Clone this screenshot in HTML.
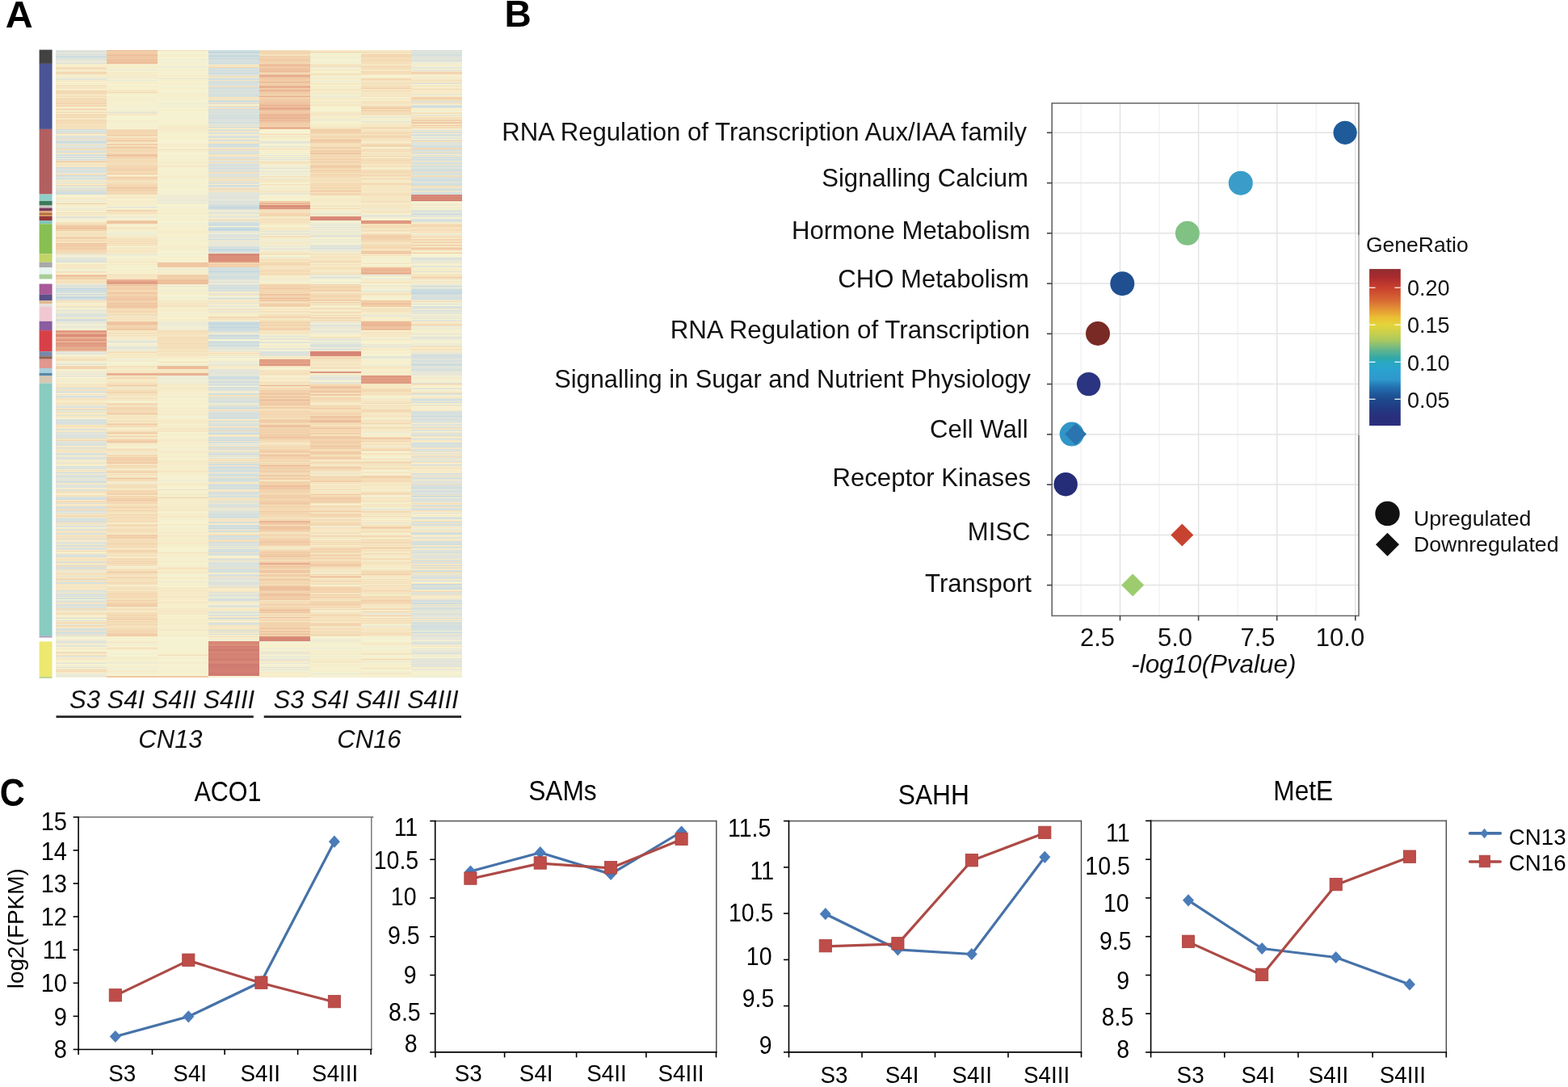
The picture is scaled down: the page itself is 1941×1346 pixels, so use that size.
<!DOCTYPE html>
<html><head><meta charset="utf-8"><title>Figure</title>
<style>html,body{margin:0;padding:0;background:#fff;overflow:hidden}svg{display:block}</style>
</head><body><svg width="1941" height="1346" viewBox="0 0 1941 1346" font-family="Liberation Sans, Arial, sans-serif"><text x="6.8" y="34.3" font-size="47" text-anchor="start" font-weight="bold">A</text><text x="624.6" y="32.6" font-size="46" text-anchor="start" font-weight="bold">B</text><text transform="translate(-0.3 997.6) scale(1 1.1)" font-size="43" font-weight="bold">C</text><g filter="url(#hb)" shape-rendering="crispEdges"><rect x="69.4" y="61.7" width="502.9" height="777.6" fill="#f4ecd0"/><path fill="#dde3db" d="M69.4 61.7h62.9v0.3h-62.9zM69.4 98h62.9v1h-62.9zM69.4 169h62.9v1h-62.9zM69.4 177h62.9v1h-62.9zM69.4 181h62.9v1h-62.9zM69.4 186h62.9v2h-62.9zM69.4 198h62.9v1h-62.9zM69.4 222h62.9v1h-62.9zM69.4 322h62.9v1h-62.9zM69.4 352h62.9v1h-62.9zM69.4 362h62.9v1h-62.9zM69.4 389h62.9v1h-62.9zM69.4 392h62.9v1h-62.9zM69.4 514h62.9v1h-62.9zM69.4 521h62.9v1h-62.9zM69.4 547h62.9v3h-62.9zM69.4 551h62.9v1h-62.9zM69.4 590h62.9v1h-62.9zM69.4 601h62.9v1h-62.9zM69.4 603h62.9v1h-62.9zM69.4 627h62.9v1h-62.9zM69.4 641h62.9v1h-62.9zM69.4 655h62.9v1h-62.9zM69.4 673h62.9v1h-62.9zM69.4 680h62.9v1h-62.9zM69.4 695h62.9v1h-62.9zM69.4 704h62.9v1h-62.9zM69.4 731h62.9v2h-62.9zM69.4 737h62.9v1h-62.9zM69.4 752h62.9v1h-62.9zM69.4 795h62.9v1h-62.9zM258 79h62.8v1h-62.8zM258 104h62.8v1h-62.8zM258 115h62.8v1h-62.8zM258 153h62.8v1h-62.8zM258 160h62.8v2h-62.8zM258 190h62.8v1h-62.8zM258 194h62.8v1h-62.8zM258 212h62.8v1h-62.8zM258 215h62.8v1h-62.8zM258 224h62.8v1h-62.8zM258 252h62.8v1h-62.8zM258 264h62.8v1h-62.8zM258 275h62.8v1h-62.8zM258 292h62.8v1h-62.8zM258 349h62.8v1h-62.8zM258 422h62.8v1h-62.8zM258 431h62.8v1h-62.8zM258 434h62.8v1h-62.8zM258 461h62.8v1h-62.8zM258 465h62.8v1h-62.8zM258 481h62.8v1h-62.8zM258 494h62.8v1h-62.8zM258 510h62.8v1h-62.8zM258 525h62.8v1h-62.8zM258 527h62.8v1h-62.8zM258 550h62.8v1h-62.8zM258 567h62.8v1h-62.8zM258 586h62.8v1h-62.8zM258 602h62.8v1h-62.8zM258 612h62.8v1h-62.8zM258 626h62.8v1h-62.8zM258 655h62.8v1h-62.8zM258 679h62.8v1h-62.8zM258 693h62.8v1h-62.8zM258 700h62.8v1h-62.8zM258 713h62.8v1h-62.8zM258 720h62.8v1h-62.8zM258 723h62.8v2h-62.8zM258 734h62.8v1h-62.8zM258 758h62.8v1h-62.8zM320.8 175h62.9v1h-62.9zM320.8 437h62.9v1h-62.9zM383.7 288h62.8v1h-62.8zM383.7 291h62.8v1h-62.8zM383.7 304h62.8v2h-62.8zM383.7 340h62.8v1h-62.8zM383.7 424h62.8v1h-62.8zM383.7 473h62.8v1h-62.8zM446.5 150h62.9v1h-62.9zM509.4 61.7h62.9v0.3h-62.9zM509.4 64h62.9v2h-62.9zM509.4 177h62.9v1h-62.9zM509.4 190h62.9v1h-62.9zM509.4 192h62.9v1h-62.9zM509.4 195h62.9v1h-62.9zM509.4 204h62.9v1h-62.9zM509.4 208h62.9v1h-62.9zM509.4 215h62.9v1h-62.9zM509.4 219h62.9v1h-62.9zM509.4 319h62.9v1h-62.9zM509.4 419h62.9v1h-62.9zM509.4 532h62.9v1h-62.9zM509.4 536h62.9v1h-62.9zM509.4 539h62.9v1h-62.9zM509.4 565h62.9v1h-62.9zM509.4 576h62.9v1h-62.9zM509.4 598h62.9v1h-62.9zM509.4 605h62.9v1h-62.9zM509.4 607h62.9v1h-62.9zM509.4 609h62.9v1h-62.9zM509.4 619h62.9v2h-62.9zM509.4 640h62.9v1h-62.9zM509.4 659h62.9v1h-62.9zM509.4 689h62.9v1h-62.9zM509.4 693h62.9v1h-62.9zM509.4 784h62.9v1h-62.9zM509.4 796h62.9v1h-62.9zM509.4 808h62.9v2h-62.9zM509.4 822h62.9v1h-62.9zM509.4 824h62.9v1h-62.9z"/><path fill="#e5e5d9" d="M69.4 62h62.9v1h-62.9zM69.4 66h62.9v1h-62.9zM69.4 74h62.9v1h-62.9zM69.4 182h62.9v1h-62.9zM69.4 219h62.9v1h-62.9zM69.4 269h62.9v1h-62.9zM69.4 320h62.9v1h-62.9zM69.4 399h62.9v1h-62.9zM69.4 436h62.9v2h-62.9zM69.4 450h62.9v1h-62.9zM69.4 463h62.9v1h-62.9zM69.4 492h62.9v1h-62.9zM69.4 584h62.9v1h-62.9zM69.4 649h62.9v1h-62.9zM69.4 652h62.9v1h-62.9zM69.4 672h62.9v1h-62.9zM69.4 743h62.9v1h-62.9zM69.4 800h62.9v1h-62.9zM69.4 813h62.9v1h-62.9zM132.3 139h62.8v1h-62.8zM132.3 315h62.8v1h-62.8zM132.3 431h62.8v1h-62.8zM258 106h62.8v1h-62.8zM258 154h62.8v1h-62.8zM258 202h62.8v1h-62.8zM258 210h62.8v1h-62.8zM258 227h62.8v1h-62.8zM258 231h62.8v1h-62.8zM258 235h62.8v1h-62.8zM258 239h62.8v1h-62.8zM258 242h62.8v1h-62.8zM258 244h62.8v1h-62.8zM258 246h62.8v1h-62.8zM258 251h62.8v1h-62.8zM258 269h62.8v1h-62.8zM258 286h62.8v1h-62.8zM258 288h62.8v1h-62.8zM258 299h62.8v1h-62.8zM258 346h62.8v1h-62.8zM258 348h62.8v1h-62.8zM258 352h62.8v1h-62.8zM258 363h62.8v1h-62.8zM258 375h62.8v1h-62.8zM258 430h62.8v1h-62.8zM258 432h62.8v1h-62.8zM258 457h62.8v1h-62.8zM258 673h62.8v1h-62.8zM258 695h62.8v1h-62.8zM258 717h62.8v1h-62.8zM320.8 181h62.9v1h-62.9zM320.8 192h62.9v1h-62.9zM320.8 208h62.9v1h-62.9zM320.8 240h62.9v1h-62.9zM320.8 304h62.9v1h-62.9zM320.8 431h62.9v2h-62.9zM320.8 808h62.9v1h-62.9zM320.8 816h62.9v2h-62.9zM383.7 148h62.8v1h-62.8zM383.7 265h62.8v1h-62.8zM383.7 281h62.8v1h-62.8zM383.7 286h62.8v1h-62.8zM383.7 308h62.8v1h-62.8zM383.7 311h62.8v1h-62.8zM383.7 399h62.8v1h-62.8zM383.7 402h62.8v1h-62.8zM383.7 411h62.8v1h-62.8zM383.7 421h62.8v1h-62.8zM383.7 465h62.8v1h-62.8zM383.7 469h62.8v1h-62.8zM446.5 145h62.9v1h-62.9zM446.5 266h62.9v1h-62.9zM446.5 341h62.9v1h-62.9zM446.5 360h62.9v1h-62.9zM446.5 647h62.9v1h-62.9zM446.5 759h62.9v1h-62.9zM509.4 63h62.9v1h-62.9zM509.4 87h62.9v1h-62.9zM509.4 224h62.9v1h-62.9zM509.4 237h62.9v1h-62.9zM509.4 266h62.9v1h-62.9zM509.4 322h62.9v1h-62.9zM509.4 324h62.9v1h-62.9zM509.4 371h62.9v1h-62.9zM509.4 382h62.9v1h-62.9zM509.4 404h62.9v1h-62.9zM509.4 413h62.9v1h-62.9zM509.4 417h62.9v1h-62.9zM509.4 427h62.9v1h-62.9zM509.4 463h62.9v1h-62.9zM509.4 496h62.9v1h-62.9zM509.4 528h62.9v1h-62.9zM509.4 537h62.9v1h-62.9zM509.4 544h62.9v1h-62.9zM509.4 666h62.9v1h-62.9zM509.4 688h62.9v1h-62.9zM509.4 713h62.9v1h-62.9zM509.4 751h62.9v1h-62.9zM509.4 788h62.9v1h-62.9zM509.4 816h62.9v1h-62.9zM509.4 820h62.9v1h-62.9zM509.4 825h62.9v1h-62.9z"/><path fill="#d9e1dd" d="M69.4 63h62.9v1h-62.9zM69.4 71h62.9v1h-62.9zM69.4 162h62.9v1h-62.9zM69.4 191h62.9v1h-62.9zM69.4 209h62.9v1h-62.9zM69.4 212h62.9v1h-62.9zM69.4 218h62.9v1h-62.9zM69.4 232h62.9v1h-62.9zM69.4 234h62.9v1h-62.9zM69.4 240h62.9v1h-62.9zM69.4 324h62.9v1h-62.9zM69.4 370h62.9v2h-62.9zM69.4 390h62.9v1h-62.9zM69.4 490h62.9v2h-62.9zM69.4 502h62.9v1h-62.9zM69.4 504h62.9v1h-62.9zM69.4 509h62.9v1h-62.9zM69.4 524h62.9v1h-62.9zM69.4 539h62.9v2h-62.9zM69.4 542h62.9v1h-62.9zM69.4 579h62.9v1h-62.9zM69.4 591h62.9v1h-62.9zM69.4 596h62.9v1h-62.9zM69.4 615h62.9v1h-62.9zM69.4 623h62.9v1h-62.9zM69.4 696h62.9v1h-62.9zM69.4 700h62.9v1h-62.9zM69.4 702h62.9v2h-62.9zM69.4 721h62.9v1h-62.9zM69.4 765h62.9v1h-62.9zM69.4 768h62.9v1h-62.9zM69.4 780h62.9v1h-62.9zM69.4 785h62.9v1h-62.9zM258 66h62.8v1h-62.8zM258 74h62.8v1h-62.8zM258 86h62.8v1h-62.8zM258 103h62.8v1h-62.8zM258 110h62.8v2h-62.8zM258 114h62.8v1h-62.8zM258 139h62.8v2h-62.8zM258 144h62.8v1h-62.8zM258 149h62.8v1h-62.8zM258 152h62.8v1h-62.8zM258 165h62.8v1h-62.8zM258 168h62.8v1h-62.8zM258 174h62.8v1h-62.8zM258 187h62.8v1h-62.8zM258 195h62.8v1h-62.8zM258 199h62.8v1h-62.8zM258 203h62.8v3h-62.8zM258 216h62.8v1h-62.8zM258 218h62.8v1h-62.8zM258 220h62.8v1h-62.8zM258 250h62.8v1h-62.8zM258 291h62.8v1h-62.8zM258 403h62.8v1h-62.8zM258 479h62.8v1h-62.8zM258 491h62.8v1h-62.8zM258 526h62.8v1h-62.8zM258 531h62.8v1h-62.8zM258 555h62.8v1h-62.8zM258 560h62.8v1h-62.8zM258 562h62.8v1h-62.8zM258 565h62.8v1h-62.8zM258 583h62.8v1h-62.8zM258 631h62.8v1h-62.8zM258 665h62.8v2h-62.8zM258 674h62.8v1h-62.8zM258 682h62.8v1h-62.8zM258 705h62.8v2h-62.8zM258 726h62.8v1h-62.8zM258 736h62.8v1h-62.8zM258 738h62.8v1h-62.8zM258 766h62.8v1h-62.8zM258 773h62.8v1h-62.8zM258 785h62.8v1h-62.8zM320.8 435h62.9v1h-62.9zM509.4 66h62.9v2h-62.9zM509.4 161h62.9v1h-62.9zM509.4 167h62.9v1h-62.9zM509.4 173h62.9v1h-62.9zM509.4 176h62.9v1h-62.9zM509.4 179h62.9v1h-62.9zM509.4 185h62.9v1h-62.9zM509.4 196h62.9v1h-62.9zM509.4 206h62.9v1h-62.9zM509.4 209h62.9v1h-62.9zM509.4 211h62.9v1h-62.9zM509.4 214h62.9v1h-62.9zM509.4 234h62.9v1h-62.9zM509.4 239h62.9v1h-62.9zM509.4 273h62.9v2h-62.9zM509.4 376h62.9v1h-62.9zM509.4 384h62.9v1h-62.9zM509.4 438h62.9v1h-62.9zM509.4 442h62.9v1h-62.9zM509.4 446h62.9v1h-62.9zM509.4 457h62.9v1h-62.9zM509.4 481h62.9v1h-62.9zM509.4 487h62.9v1h-62.9zM509.4 511h62.9v1h-62.9zM509.4 513h62.9v2h-62.9zM509.4 522h62.9v1h-62.9zM509.4 526h62.9v1h-62.9zM509.4 529h62.9v1h-62.9zM509.4 552h62.9v1h-62.9zM509.4 556h62.9v1h-62.9zM509.4 601h62.9v2h-62.9zM509.4 672h62.9v1h-62.9zM509.4 677h62.9v1h-62.9zM509.4 681h62.9v1h-62.9zM509.4 684h62.9v1h-62.9zM509.4 694h62.9v1h-62.9zM509.4 706h62.9v1h-62.9zM509.4 715h62.9v1h-62.9zM509.4 745h62.9v2h-62.9zM509.4 768h62.9v1h-62.9zM509.4 773h62.9v1h-62.9zM509.4 797h62.9v1h-62.9z"/><path fill="#dbe2dc" d="M69.4 64h62.9v1h-62.9zM69.4 72h62.9v1h-62.9zM69.4 163h62.9v1h-62.9zM69.4 178h62.9v1h-62.9zM69.4 208h62.9v1h-62.9zM69.4 220h62.9v1h-62.9zM69.4 226h62.9v1h-62.9zM69.4 354h62.9v1h-62.9zM69.4 356h62.9v1h-62.9zM69.4 519h62.9v1h-62.9zM69.4 535h62.9v1h-62.9zM69.4 562h62.9v1h-62.9zM69.4 577h62.9v1h-62.9zM69.4 580h62.9v1h-62.9zM69.4 589h62.9v1h-62.9zM69.4 593h62.9v1h-62.9zM69.4 600h62.9v1h-62.9zM69.4 606h62.9v2h-62.9zM69.4 616h62.9v1h-62.9zM69.4 632h62.9v2h-62.9zM69.4 635h62.9v1h-62.9zM69.4 642h62.9v1h-62.9zM69.4 656h62.9v1h-62.9zM69.4 671h62.9v1h-62.9zM69.4 689h62.9v1h-62.9zM69.4 745h62.9v1h-62.9zM69.4 755h62.9v1h-62.9zM69.4 778h62.9v1h-62.9zM69.4 784h62.9v1h-62.9zM69.4 787h62.9v1h-62.9zM258 67h62.8v1h-62.8zM258 89h62.8v1h-62.8zM258 93h62.8v1h-62.8zM258 100h62.8v1h-62.8zM258 132h62.8v1h-62.8zM258 136h62.8v2h-62.8zM258 155h62.8v1h-62.8zM258 169h62.8v1h-62.8zM258 185h62.8v1h-62.8zM258 196h62.8v1h-62.8zM258 243h62.8v1h-62.8zM258 245h62.8v1h-62.8zM258 253h62.8v1h-62.8zM258 274h62.8v1h-62.8zM258 354h62.8v2h-62.8zM258 358h62.8v1h-62.8zM258 360h62.8v1h-62.8zM258 417h62.8v1h-62.8zM258 495h62.8v2h-62.8zM258 503h62.8v1h-62.8zM258 511h62.8v1h-62.8zM258 513h62.8v1h-62.8zM258 534h62.8v1h-62.8zM258 543h62.8v1h-62.8zM258 561h62.8v1h-62.8zM258 578h62.8v1h-62.8zM258 624h62.8v1h-62.8zM258 629h62.8v1h-62.8zM258 634h62.8v1h-62.8zM258 637h62.8v1h-62.8zM258 647h62.8v1h-62.8zM258 697h62.8v1h-62.8zM258 701h62.8v1h-62.8zM258 718h62.8v1h-62.8zM258 721h62.8v2h-62.8zM258 743h62.8v1h-62.8zM320.8 436h62.9v1h-62.9zM320.8 438h62.9v1h-62.9zM383.7 426h62.8v3h-62.8zM509.4 69h62.9v1h-62.9zM509.4 130h62.9v1h-62.9zM509.4 164h62.9v1h-62.9zM509.4 166h62.9v1h-62.9zM509.4 168h62.9v1h-62.9zM509.4 180h62.9v1h-62.9zM509.4 186h62.9v2h-62.9zM509.4 221h62.9v1h-62.9zM509.4 225h62.9v1h-62.9zM509.4 261h62.9v2h-62.9zM509.4 320h62.9v1h-62.9zM509.4 385h62.9v1h-62.9zM509.4 387h62.9v1h-62.9zM509.4 448h62.9v1h-62.9zM509.4 456h62.9v1h-62.9zM509.4 501h62.9v1h-62.9zM509.4 518h62.9v1h-62.9zM509.4 550h62.9v1h-62.9zM509.4 570h62.9v1h-62.9zM509.4 575h62.9v1h-62.9zM509.4 587h62.9v1h-62.9zM509.4 600h62.9v1h-62.9zM509.4 617h62.9v1h-62.9zM509.4 625h62.9v1h-62.9zM509.4 631h62.9v1h-62.9zM509.4 665h62.9v1h-62.9zM509.4 687h62.9v1h-62.9zM509.4 696h62.9v1h-62.9zM509.4 703h62.9v1h-62.9zM509.4 712h62.9v1h-62.9zM509.4 716h62.9v1h-62.9zM509.4 736h62.9v1h-62.9zM509.4 752h62.9v1h-62.9zM509.4 760h62.9v1h-62.9zM509.4 770h62.9v1h-62.9zM509.4 772h62.9v1h-62.9zM509.4 778h62.9v1h-62.9z"/><path fill="#e7e6d8" d="M69.4 65h62.9v1h-62.9zM69.4 75h62.9v1h-62.9zM69.4 233h62.9v1h-62.9zM69.4 380h62.9v1h-62.9zM69.4 404h62.9v1h-62.9zM69.4 435h62.9v1h-62.9zM69.4 465h62.9v1h-62.9zM69.4 486h62.9v1h-62.9zM69.4 503h62.9v1h-62.9zM69.4 536h62.9v1h-62.9zM69.4 546h62.9v1h-62.9zM69.4 567h62.9v1h-62.9zM69.4 573h62.9v1h-62.9zM69.4 668h62.9v1h-62.9zM69.4 686h62.9v1h-62.9zM69.4 708h62.9v1h-62.9zM69.4 812h62.9v1h-62.9zM69.4 836h62.9v1h-62.9zM132.3 99h62.8v1h-62.8zM132.3 138h62.8v1h-62.8zM132.3 429h62.8v1h-62.8zM132.3 434h62.8v1h-62.8zM195.1 97h62.9v1h-62.9zM195.1 333h62.9v1h-62.9zM195.1 354h62.9v1h-62.9zM258 247h62.8v1h-62.8zM258 301h62.8v1h-62.8zM258 313h62.8v1h-62.8zM258 364h62.8v1h-62.8zM258 386h62.8v1h-62.8zM258 429h62.8v1h-62.8zM258 450h62.8v1h-62.8zM258 452h62.8v1h-62.8zM258 460h62.8v1h-62.8zM258 462h62.8v1h-62.8zM258 471h62.8v1h-62.8zM258 474h62.8v1h-62.8zM258 558h62.8v1h-62.8zM258 733h62.8v1h-62.8zM258 749h62.8v1h-62.8zM320.8 176h62.9v1h-62.9zM320.8 221h62.9v1h-62.9zM320.8 290h62.9v1h-62.9zM320.8 307h62.9v1h-62.9zM320.8 423h62.9v1h-62.9zM320.8 821h62.9v1h-62.9zM320.8 829h62.9v1h-62.9zM383.7 83h62.8v1h-62.8zM383.7 284h62.8v1h-62.8zM383.7 342h62.8v1h-62.8zM383.7 404h62.8v1h-62.8zM383.7 409h62.8v1h-62.8zM383.7 474h62.8v1h-62.8zM446.5 267h62.9v2h-62.9zM446.5 390h62.9v2h-62.9zM446.5 426h62.9v1h-62.9zM446.5 428h62.9v2h-62.9zM446.5 441h62.9v1h-62.9zM446.5 775h62.9v1h-62.9zM509.4 73h62.9v1h-62.9zM509.4 133h62.9v1h-62.9zM509.4 178h62.9v1h-62.9zM509.4 268h62.9v1h-62.9zM509.4 321h62.9v1h-62.9zM509.4 329h62.9v1h-62.9zM509.4 352h62.9v1h-62.9zM509.4 388h62.9v1h-62.9zM509.4 393h62.9v1h-62.9zM509.4 397h62.9v1h-62.9zM509.4 436h62.9v1h-62.9zM509.4 460h62.9v2h-62.9zM509.4 464h62.9v1h-62.9zM509.4 474h62.9v1h-62.9zM509.4 493h62.9v1h-62.9zM509.4 523h62.9v1h-62.9zM509.4 568h62.9v1h-62.9zM509.4 628h62.9v1h-62.9zM509.4 733h62.9v1h-62.9zM509.4 763h62.9v1h-62.9zM509.4 789h62.9v3h-62.9zM509.4 803h62.9v1h-62.9zM509.4 805h62.9v3h-62.9zM509.4 817h62.9v1h-62.9zM509.4 821h62.9v1h-62.9zM509.4 823h62.9v1h-62.9zM509.4 829h62.9v1h-62.9z"/><path fill="#d2dfde" d="M69.4 67h62.9v1h-62.9zM69.4 175h62.9v1h-62.9zM69.4 188h62.9v1h-62.9zM69.4 238h62.9v1h-62.9zM69.4 395h62.9v1h-62.9zM69.4 595h62.9v1h-62.9zM69.4 597h62.9v1h-62.9zM69.4 738h62.9v1h-62.9zM69.4 740h62.9v2h-62.9zM258 63h62.8v1h-62.8zM258 85h62.8v1h-62.8zM258 91h62.8v1h-62.8zM258 101h62.8v1h-62.8zM258 108h62.8v2h-62.8zM258 117h62.8v1h-62.8zM258 119h62.8v1h-62.8zM258 142h62.8v2h-62.8zM258 146h62.8v1h-62.8zM258 178h62.8v1h-62.8zM258 281h62.8v1h-62.8zM258 337h62.8v1h-62.8zM258 342h62.8v1h-62.8zM258 398h62.8v1h-62.8zM258 418h62.8v1h-62.8zM258 424h62.8v2h-62.8zM258 427h62.8v1h-62.8zM258 466h62.8v1h-62.8zM258 493h62.8v1h-62.8zM258 497h62.8v1h-62.8zM258 516h62.8v1h-62.8zM258 574h62.8v1h-62.8zM258 593h62.8v1h-62.8zM258 605h62.8v1h-62.8zM258 620h62.8v1h-62.8zM258 627h62.8v1h-62.8zM258 638h62.8v1h-62.8zM258 650h62.8v1h-62.8zM258 652h62.8v1h-62.8zM258 658h62.8v1h-62.8zM258 667h62.8v1h-62.8zM258 671h62.8v2h-62.8zM258 675h62.8v1h-62.8zM258 681h62.8v1h-62.8zM258 685h62.8v1h-62.8zM258 698h62.8v1h-62.8zM258 761h62.8v1h-62.8zM258 780h62.8v1h-62.8zM509.4 181h62.9v1h-62.9zM509.4 189h62.9v1h-62.9zM509.4 202h62.9v1h-62.9zM509.4 354h62.9v1h-62.9zM509.4 364h62.9v1h-62.9zM509.4 368h62.9v1h-62.9zM509.4 458h62.9v1h-62.9zM509.4 494h62.9v2h-62.9zM509.4 510h62.9v1h-62.9zM509.4 551h62.9v1h-62.9zM509.4 586h62.9v1h-62.9zM509.4 592h62.9v1h-62.9zM509.4 603h62.9v1h-62.9zM509.4 626h62.9v1h-62.9zM509.4 673h62.9v1h-62.9zM509.4 723h62.9v1h-62.9zM509.4 734h62.9v1h-62.9zM509.4 743h62.9v1h-62.9zM509.4 775h62.9v1h-62.9z"/><path fill="#e2e4da" d="M69.4 68h62.9v1h-62.9zM69.4 73h62.9v1h-62.9zM69.4 77h62.9v1h-62.9zM69.4 168h62.9v1h-62.9zM69.4 213h62.9v1h-62.9zM69.4 319h62.9v1h-62.9zM69.4 321h62.9v1h-62.9zM69.4 355h62.9v1h-62.9zM69.4 365h62.9v1h-62.9zM69.4 384h62.9v1h-62.9zM69.4 388h62.9v1h-62.9zM69.4 391h62.9v1h-62.9zM69.4 451h62.9v1h-62.9zM69.4 531h62.9v1h-62.9zM69.4 660h62.9v1h-62.9zM69.4 666h62.9v1h-62.9zM69.4 678h62.9v1h-62.9zM69.4 744h62.9v1h-62.9zM69.4 750h62.9v1h-62.9zM69.4 794h62.9v1h-62.9zM69.4 821h62.9v1h-62.9zM69.4 826h62.9v1h-62.9zM132.3 422h62.8v2h-62.8zM132.3 430h62.8v1h-62.8zM195.1 251h62.9v1h-62.9zM258 182h62.8v1h-62.8zM258 200h62.8v1h-62.8zM258 207h62.8v1h-62.8zM258 217h62.8v1h-62.8zM258 240h62.8v2h-62.8zM258 248h62.8v1h-62.8zM258 267h62.8v1h-62.8zM258 293h62.8v1h-62.8zM258 297h62.8v1h-62.8zM258 303h62.8v1h-62.8zM258 340h62.8v1h-62.8zM258 412h62.8v1h-62.8zM258 414h62.8v1h-62.8zM258 458h62.8v2h-62.8zM258 535h62.8v1h-62.8zM258 552h62.8v1h-62.8zM258 596h62.8v1h-62.8zM258 599h62.8v1h-62.8zM258 635h62.8v1h-62.8zM258 711h62.8v1h-62.8zM258 715h62.8v1h-62.8zM258 759h62.8v1h-62.8zM320.8 195h62.9v1h-62.9zM320.8 197h62.9v1h-62.9zM320.8 289h62.9v1h-62.9zM320.8 416h62.9v1h-62.9zM320.8 813h62.9v1h-62.9zM383.7 278h62.8v1h-62.8zM383.7 306h62.8v1h-62.8zM383.7 420h62.8v1h-62.8zM383.7 431h62.8v2h-62.8zM383.7 468h62.8v1h-62.8zM446.5 442h62.9v1h-62.9zM446.5 630h62.9v1h-62.9zM509.4 72h62.9v1h-62.9zM509.4 75h62.9v2h-62.9zM509.4 117h62.9v1h-62.9zM509.4 142h62.9v1h-62.9zM509.4 330h62.9v1h-62.9zM509.4 454h62.9v1h-62.9zM509.4 459h62.9v1h-62.9zM509.4 497h62.9v1h-62.9zM509.4 521h62.9v1h-62.9zM509.4 525h62.9v1h-62.9zM509.4 561h62.9v1h-62.9zM509.4 567h62.9v1h-62.9zM509.4 571h62.9v1h-62.9zM509.4 593h62.9v1h-62.9zM509.4 595h62.9v1h-62.9zM509.4 597h62.9v1h-62.9zM509.4 629h62.9v1h-62.9zM509.4 650h62.9v1h-62.9zM509.4 685h62.9v1h-62.9zM509.4 690h62.9v1h-62.9zM509.4 742h62.9v1h-62.9zM509.4 761h62.9v1h-62.9zM509.4 818h62.9v1h-62.9z"/><path fill="#d0dedf" d="M69.4 69h62.9v1h-62.9zM69.4 174h62.9v1h-62.9zM69.4 358h62.9v1h-62.9zM69.4 360h62.9v1h-62.9zM69.4 585h62.9v1h-62.9zM69.4 617h62.9v1h-62.9zM258 73h62.8v1h-62.8zM258 87h62.8v1h-62.8zM258 98h62.8v1h-62.8zM258 151h62.8v1h-62.8zM258 226h62.8v1h-62.8zM258 277h62.8v1h-62.8zM258 306h62.8v1h-62.8zM258 332h62.8v1h-62.8zM258 338h62.8v1h-62.8zM258 343h62.8v1h-62.8zM258 410h62.8v1h-62.8zM258 419h62.8v1h-62.8zM258 468h62.8v1h-62.8zM258 472h62.8v1h-62.8zM258 487h62.8v1h-62.8zM258 505h62.8v1h-62.8zM258 530h62.8v1h-62.8zM258 537h62.8v1h-62.8zM258 541h62.8v1h-62.8zM258 563h62.8v1h-62.8zM258 575h62.8v1h-62.8zM258 587h62.8v1h-62.8zM258 595h62.8v1h-62.8zM258 600h62.8v1h-62.8zM258 622h62.8v1h-62.8zM258 633h62.8v1h-62.8zM258 640h62.8v1h-62.8zM258 677h62.8v1h-62.8zM258 704h62.8v1h-62.8zM258 712h62.8v1h-62.8zM258 771h62.8v1h-62.8zM509.4 62h62.9v1h-62.9zM509.4 68h62.9v1h-62.9zM509.4 194h62.9v1h-62.9zM509.4 216h62.9v1h-62.9zM509.4 220h62.9v1h-62.9zM509.4 227h62.9v1h-62.9zM509.4 229h62.9v1h-62.9zM509.4 264h62.9v2h-62.9zM509.4 443h62.9v1h-62.9zM509.4 548h62.9v1h-62.9zM509.4 630h62.9v1h-62.9zM509.4 674h62.9v1h-62.9zM509.4 678h62.9v1h-62.9zM509.4 726h62.9v2h-62.9zM509.4 749h62.9v1h-62.9zM509.4 753h62.9v1h-62.9zM509.4 771h62.9v1h-62.9zM509.4 774h62.9v1h-62.9zM509.4 780h62.9v1h-62.9z"/><path fill="#cadbe0" d="M69.4 70h62.9v1h-62.9zM69.4 176h62.9v1h-62.9zM258 70h62.8v1h-62.8zM258 90h62.8v1h-62.8zM258 157h62.8v1h-62.8zM258 257h62.8v2h-62.8zM258 278h62.8v1h-62.8zM258 285h62.8v1h-62.8zM258 296h62.8v1h-62.8zM258 310h62.8v1h-62.8zM258 335h62.8v1h-62.8zM258 408h62.8v1h-62.8zM258 545h62.8v1h-62.8zM258 636h62.8v1h-62.8zM258 654h62.8v1h-62.8zM509.4 360h62.9v2h-62.9zM509.4 614h62.9v1h-62.9zM509.4 729h62.9v1h-62.9z"/><path fill="#f2f0d4" d="M69.4 76h62.9v1h-62.9zM69.4 87h62.9v1h-62.9zM69.4 225h62.9v1h-62.9zM69.4 248h62.9v1h-62.9zM69.4 256h62.9v1h-62.9zM69.4 259h62.9v1h-62.9zM69.4 264h62.9v1h-62.9zM69.4 273h62.9v1h-62.9zM69.4 316h62.9v2h-62.9zM69.4 333h62.9v1h-62.9zM69.4 393h62.9v1h-62.9zM69.4 402h62.9v1h-62.9zM69.4 406h62.9v1h-62.9zM69.4 447h62.9v1h-62.9zM69.4 449h62.9v1h-62.9zM69.4 457h62.9v1h-62.9zM69.4 470h62.9v2h-62.9zM69.4 653h62.9v1h-62.9zM69.4 742h62.9v1h-62.9zM69.4 788h62.9v1h-62.9zM69.4 825h62.9v1h-62.9zM69.4 838h62.9v1.3h-62.9zM132.3 85h62.8v1h-62.8zM132.3 131h62.8v1h-62.8zM132.3 133h62.8v1h-62.8zM132.3 151h62.8v1h-62.8zM132.3 259h62.8v1h-62.8zM132.3 271h62.8v1h-62.8zM132.3 285h62.8v1h-62.8zM132.3 289h62.8v1h-62.8zM132.3 316h62.8v2h-62.8zM132.3 321h62.8v1h-62.8zM132.3 330h62.8v1h-62.8zM132.3 426h62.8v1h-62.8zM132.3 446h62.8v1h-62.8zM132.3 451h62.8v1h-62.8zM132.3 581h62.8v1h-62.8zM132.3 701h62.8v1h-62.8zM132.3 817h62.8v1h-62.8zM132.3 826h62.8v1h-62.8zM132.3 829h62.8v1h-62.8zM132.3 832h62.8v1h-62.8zM132.3 834h62.8v1h-62.8zM195.1 61.7h62.9v0.3h-62.9zM195.1 63h62.9v1h-62.9zM195.1 73h62.9v1h-62.9zM195.1 76h62.9v2h-62.9zM195.1 81h62.9v1h-62.9zM195.1 83h62.9v2h-62.9zM195.1 89h62.9v1h-62.9zM195.1 106h62.9v1h-62.9zM195.1 108h62.9v1h-62.9zM195.1 114h62.9v1h-62.9zM195.1 123h62.9v1h-62.9zM195.1 127h62.9v1h-62.9zM195.1 129h62.9v2h-62.9zM195.1 221h62.9v1h-62.9zM195.1 229h62.9v1h-62.9zM195.1 236h62.9v1h-62.9zM195.1 238h62.9v1h-62.9zM195.1 250h62.9v1h-62.9zM195.1 256h62.9v1h-62.9zM195.1 268h62.9v1h-62.9zM195.1 276h62.9v2h-62.9zM195.1 296h62.9v2h-62.9zM195.1 313h62.9v2h-62.9zM195.1 352h62.9v1h-62.9zM195.1 367h62.9v2h-62.9zM195.1 387h62.9v1h-62.9zM195.1 404h62.9v2h-62.9zM195.1 407h62.9v1h-62.9zM195.1 451h62.9v2h-62.9zM195.1 471h62.9v2h-62.9zM195.1 489h62.9v1h-62.9zM195.1 516h62.9v2h-62.9zM195.1 556h62.9v1h-62.9zM195.1 592h62.9v1h-62.9zM195.1 594h62.9v1h-62.9zM195.1 605h62.9v1h-62.9zM195.1 609h62.9v1h-62.9zM195.1 653h62.9v1h-62.9zM195.1 692h62.9v1h-62.9zM195.1 712h62.9v1h-62.9zM195.1 792h62.9v1h-62.9zM195.1 795h62.9v1h-62.9zM195.1 800h62.9v1h-62.9zM195.1 819h62.9v1h-62.9zM195.1 826h62.9v1h-62.9zM258 270h62.8v1h-62.8zM258 273h62.8v1h-62.8zM258 289h62.8v1h-62.8zM258 366h62.8v2h-62.8zM258 377h62.8v1h-62.8zM258 381h62.8v1h-62.8zM258 433h62.8v1h-62.8zM258 441h62.8v1h-62.8zM258 449h62.8v1h-62.8zM258 478h62.8v1h-62.8zM258 549h62.8v1h-62.8zM258 748h62.8v1h-62.8zM320.8 180h62.9v1h-62.9zM320.8 190h62.9v1h-62.9zM320.8 193h62.9v1h-62.9zM320.8 209h62.9v1h-62.9zM320.8 216h62.9v2h-62.9zM320.8 230h62.9v1h-62.9zM320.8 296h62.9v1h-62.9zM320.8 305h62.9v2h-62.9zM320.8 311h62.9v1h-62.9zM320.8 347h62.9v1h-62.9zM320.8 417h62.9v1h-62.9zM320.8 427h62.9v1h-62.9zM320.8 433h62.9v1h-62.9zM320.8 795h62.9v1h-62.9zM320.8 802h62.9v1h-62.9zM320.8 812h62.9v1h-62.9zM320.8 823h62.9v1h-62.9zM320.8 830h62.9v2h-62.9zM383.7 66h62.8v2h-62.8zM383.7 75h62.8v1h-62.8zM383.7 96h62.8v1h-62.8zM383.7 142h62.8v1h-62.8zM383.7 149h62.8v1h-62.8zM383.7 261h62.8v2h-62.8zM383.7 277h62.8v1h-62.8zM383.7 300h62.8v3h-62.8zM383.7 345h62.8v1h-62.8zM383.7 351h62.8v1h-62.8zM383.7 422h62.8v1h-62.8zM383.7 430h62.8v1h-62.8zM383.7 588h62.8v1h-62.8zM383.7 661h62.8v1h-62.8zM383.7 709h62.8v1h-62.8zM383.7 756h62.8v1h-62.8zM383.7 796h62.8v1h-62.8zM383.7 799h62.8v1h-62.8zM383.7 801h62.8v2h-62.8zM383.7 811h62.8v1h-62.8zM383.7 833h62.8v1h-62.8zM383.7 836h62.8v2h-62.8zM446.5 144h62.9v1h-62.9zM446.5 269h62.9v1h-62.9zM446.5 319h62.9v1h-62.9zM446.5 323h62.9v1h-62.9zM446.5 344h62.9v1h-62.9zM446.5 357h62.9v3h-62.9zM446.5 368h62.9v1h-62.9zM446.5 444h62.9v2h-62.9zM446.5 452h62.9v1h-62.9zM446.5 518h62.9v1h-62.9zM446.5 570h62.9v1h-62.9zM446.5 583h62.9v1h-62.9zM446.5 587h62.9v1h-62.9zM446.5 607h62.9v1h-62.9zM446.5 614h62.9v1h-62.9zM446.5 788h62.9v1h-62.9zM446.5 791h62.9v1h-62.9zM446.5 801h62.9v2h-62.9zM446.5 804h62.9v1h-62.9zM446.5 812h62.9v1h-62.9zM446.5 831h62.9v1h-62.9zM509.4 77h62.9v1h-62.9zM509.4 79h62.9v1h-62.9zM509.4 95h62.9v1h-62.9zM509.4 97h62.9v1h-62.9zM509.4 138h62.9v1h-62.9zM509.4 160h62.9v1h-62.9zM509.4 250h62.9v1h-62.9zM509.4 259h62.9v1h-62.9zM509.4 270h62.9v1h-62.9zM509.4 289h62.9v1h-62.9zM509.4 311h62.9v1h-62.9zM509.4 318h62.9v1h-62.9zM509.4 332h62.9v1h-62.9zM509.4 347h62.9v1h-62.9zM509.4 351h62.9v1h-62.9zM509.4 378h62.9v1h-62.9zM509.4 423h62.9v1h-62.9zM509.4 426h62.9v1h-62.9zM509.4 534h62.9v1h-62.9zM509.4 654h62.9v1h-62.9zM509.4 804h62.9v1h-62.9zM509.4 836h62.9v2h-62.9z"/><path fill="#e0e4da" d="M69.4 78h62.9v1h-62.9zM69.4 161h62.9v1h-62.9zM69.4 180h62.9v1h-62.9zM69.4 210h62.9v1h-62.9zM69.4 214h62.9v1h-62.9zM69.4 268h62.9v1h-62.9zM69.4 314h62.9v1h-62.9zM69.4 323h62.9v1h-62.9zM69.4 353h62.9v1h-62.9zM69.4 366h62.9v1h-62.9zM69.4 438h62.9v1h-62.9zM69.4 480h62.9v1h-62.9zM69.4 484h62.9v1h-62.9zM69.4 525h62.9v1h-62.9zM69.4 537h62.9v2h-62.9zM69.4 541h62.9v1h-62.9zM69.4 556h62.9v1h-62.9zM69.4 563h62.9v1h-62.9zM69.4 578h62.9v1h-62.9zM69.4 602h62.9v1h-62.9zM69.4 644h62.9v1h-62.9zM69.4 713h62.9v1h-62.9zM69.4 733h62.9v1h-62.9zM69.4 736h62.9v1h-62.9zM69.4 751h62.9v1h-62.9zM69.4 773h62.9v1h-62.9zM69.4 799h62.9v1h-62.9zM132.3 256h62.8v1h-62.8zM258 92h62.8v1h-62.8zM258 96h62.8v1h-62.8zM258 126h62.8v1h-62.8zM258 133h62.8v1h-62.8zM258 141h62.8v1h-62.8zM258 148h62.8v1h-62.8zM258 150h62.8v1h-62.8zM258 188h62.8v1h-62.8zM258 238h62.8v1h-62.8zM258 249h62.8v1h-62.8zM258 259h62.8v1h-62.8zM258 262h62.8v1h-62.8zM258 290h62.8v1h-62.8zM258 294h62.8v1h-62.8zM258 463h62.8v1h-62.8zM258 470h62.8v1h-62.8zM258 477h62.8v1h-62.8zM258 483h62.8v1h-62.8zM258 500h62.8v1h-62.8zM258 509h62.8v1h-62.8zM258 581h62.8v1h-62.8zM258 590h62.8v1h-62.8zM258 613h62.8v2h-62.8zM258 696h62.8v1h-62.8zM258 699h62.8v1h-62.8zM258 716h62.8v1h-62.8zM258 737h62.8v1h-62.8zM258 740h62.8v2h-62.8zM258 744h62.8v1h-62.8zM258 750h62.8v1h-62.8zM258 757h62.8v1h-62.8zM258 762h62.8v1h-62.8zM258 772h62.8v1h-62.8zM320.8 286h62.9v1h-62.9zM320.8 420h62.9v1h-62.9zM320.8 424h62.9v1h-62.9zM320.8 439h62.9v2h-62.9zM320.8 826h62.9v1h-62.9zM383.7 292h62.8v1h-62.8zM383.7 343h62.8v2h-62.8zM383.7 403h62.8v1h-62.8zM383.7 433h62.8v1h-62.8zM383.7 467h62.8v1h-62.8zM509.4 70h62.9v2h-62.9zM509.4 84h62.9v1h-62.9zM509.4 125h62.9v1h-62.9zM509.4 170h62.9v2h-62.9zM509.4 200h62.9v1h-62.9zM509.4 207h62.9v1h-62.9zM509.4 226h62.9v1h-62.9zM509.4 260h62.9v1h-62.9zM509.4 267h62.9v1h-62.9zM509.4 271h62.9v1h-62.9zM509.4 336h62.9v1h-62.9zM509.4 366h62.9v1h-62.9zM509.4 379h62.9v1h-62.9zM509.4 381h62.9v1h-62.9zM509.4 396h62.9v1h-62.9zM509.4 453h62.9v1h-62.9zM509.4 455h62.9v1h-62.9zM509.4 517h62.9v1h-62.9zM509.4 533h62.9v1h-62.9zM509.4 557h62.9v1h-62.9zM509.4 596h62.9v1h-62.9zM509.4 606h62.9v1h-62.9zM509.4 621h62.9v1h-62.9zM509.4 635h62.9v1h-62.9zM509.4 647h62.9v1h-62.9zM509.4 651h62.9v1h-62.9zM509.4 655h62.9v1h-62.9zM509.4 682h62.9v1h-62.9zM509.4 691h62.9v1h-62.9zM509.4 710h62.9v1h-62.9zM509.4 754h62.9v1h-62.9zM509.4 762h62.9v1h-62.9zM509.4 787h62.9v1h-62.9zM509.4 794h62.9v2h-62.9zM509.4 815h62.9v1h-62.9zM509.4 819h62.9v1h-62.9z"/><path fill="#f6eac7" d="M69.4 79h62.9v1h-62.9zM69.4 86h62.9v1h-62.9zM69.4 96h62.9v1h-62.9zM69.4 103h62.9v1h-62.9zM69.4 137h62.9v1h-62.9zM69.4 158h62.9v1h-62.9zM69.4 173h62.9v1h-62.9zM69.4 215h62.9v1h-62.9zM69.4 227h62.9v2h-62.9zM69.4 245h62.9v1h-62.9zM69.4 254h62.9v1h-62.9zM69.4 267h62.9v1h-62.9zM69.4 327h62.9v1h-62.9zM69.4 346h62.9v1h-62.9zM69.4 373h62.9v1h-62.9zM69.4 498h62.9v1h-62.9zM69.4 505h62.9v1h-62.9zM69.4 508h62.9v1h-62.9zM69.4 544h62.9v1h-62.9zM69.4 570h62.9v1h-62.9zM69.4 572h62.9v1h-62.9zM69.4 650h62.9v1h-62.9zM69.4 658h62.9v1h-62.9zM69.4 669h62.9v2h-62.9zM69.4 683h62.9v1h-62.9zM69.4 709h62.9v1h-62.9zM69.4 729h62.9v1h-62.9zM69.4 734h62.9v1h-62.9zM69.4 739h62.9v1h-62.9zM69.4 747h62.9v1h-62.9zM69.4 756h62.9v1h-62.9zM69.4 758h62.9v1h-62.9zM69.4 766h62.9v1h-62.9zM69.4 816h62.9v1h-62.9zM69.4 827h62.9v1h-62.9zM132.3 79h62.8v1h-62.8zM132.3 83h62.8v1h-62.8zM132.3 93h62.8v1h-62.8zM132.3 101h62.8v1h-62.8zM132.3 113h62.8v1h-62.8zM132.3 142h62.8v1h-62.8zM132.3 149h62.8v1h-62.8zM132.3 169h62.8v1h-62.8zM132.3 243h62.8v1h-62.8zM132.3 245h62.8v1h-62.8zM132.3 249h62.8v1h-62.8zM132.3 267h62.8v1h-62.8zM132.3 278h62.8v1h-62.8zM132.3 292h62.8v1h-62.8zM132.3 294h62.8v1h-62.8zM132.3 307h62.8v1h-62.8zM132.3 309h62.8v1h-62.8zM132.3 320h62.8v1h-62.8zM132.3 323h62.8v2h-62.8zM132.3 327h62.8v1h-62.8zM132.3 438h62.8v1h-62.8zM132.3 447h62.8v1h-62.8zM132.3 491h62.8v1h-62.8zM132.3 494h62.8v1h-62.8zM132.3 514h62.8v1h-62.8zM132.3 516h62.8v1h-62.8zM132.3 529h62.8v1h-62.8zM132.3 532h62.8v1h-62.8zM132.3 542h62.8v1h-62.8zM132.3 551h62.8v1h-62.8zM132.3 562h62.8v1h-62.8zM132.3 588h62.8v1h-62.8zM132.3 647h62.8v1h-62.8zM132.3 703h62.8v1h-62.8zM195.1 157h62.9v1h-62.9zM195.1 205h62.9v2h-62.9zM195.1 264h62.9v1h-62.9zM195.1 362h62.9v1h-62.9zM195.1 441h62.9v2h-62.9zM195.1 477h62.9v1h-62.9zM195.1 480h62.9v2h-62.9zM195.1 491h62.9v1h-62.9zM195.1 506h62.9v1h-62.9zM195.1 513h62.9v1h-62.9zM195.1 519h62.9v1h-62.9zM195.1 521h62.9v3h-62.9zM195.1 545h62.9v1h-62.9zM195.1 559h62.9v1h-62.9zM195.1 571h62.9v2h-62.9zM195.1 584h62.9v2h-62.9zM195.1 599h62.9v1h-62.9zM195.1 611h62.9v1h-62.9zM195.1 622h62.9v1h-62.9zM195.1 627h62.9v1h-62.9zM195.1 636h62.9v1h-62.9zM195.1 638h62.9v1h-62.9zM195.1 664h62.9v1h-62.9zM195.1 672h62.9v1h-62.9zM195.1 685h62.9v1h-62.9zM195.1 700h62.9v1h-62.9zM195.1 704h62.9v2h-62.9zM195.1 707h62.9v1h-62.9zM195.1 709h62.9v1h-62.9zM195.1 715h62.9v1h-62.9zM195.1 727h62.9v1h-62.9zM195.1 730h62.9v1h-62.9zM195.1 733h62.9v3h-62.9zM195.1 744h62.9v2h-62.9zM195.1 747h62.9v1h-62.9zM195.1 758h62.9v2h-62.9zM195.1 771h62.9v1h-62.9zM258 82h62.8v1h-62.8zM258 123h62.8v1h-62.8zM258 175h62.8v1h-62.8zM258 228h62.8v1h-62.8zM258 237h62.8v1h-62.8zM258 362h62.8v1h-62.8zM258 371h62.8v2h-62.8zM258 374h62.8v1h-62.8zM258 387h62.8v1h-62.8zM258 435h62.8v2h-62.8zM258 438h62.8v3h-62.8zM258 501h62.8v1h-62.8zM258 507h62.8v1h-62.8zM258 523h62.8v1h-62.8zM258 551h62.8v1h-62.8zM258 564h62.8v1h-62.8zM258 585h62.8v1h-62.8zM258 607h62.8v1h-62.8zM258 621h62.8v1h-62.8zM258 623h62.8v1h-62.8zM258 632h62.8v1h-62.8zM258 648h62.8v2h-62.8zM258 676h62.8v1h-62.8zM258 709h62.8v1h-62.8zM258 725h62.8v1h-62.8zM258 767h62.8v2h-62.8zM258 775h62.8v1h-62.8zM258 777h62.8v1h-62.8zM258 783h62.8v1h-62.8zM320.8 170h62.9v1h-62.9zM320.8 185h62.9v1h-62.9zM320.8 203h62.9v1h-62.9zM320.8 222h62.9v1h-62.9zM320.8 224h62.9v1h-62.9zM320.8 237h62.9v1h-62.9zM320.8 277h62.9v2h-62.9zM320.8 294h62.9v2h-62.9zM320.8 381h62.9v1h-62.9zM320.8 388h62.9v1h-62.9zM320.8 428h62.9v1h-62.9zM320.8 454h62.9v1h-62.9zM320.8 458h62.9v1h-62.9zM320.8 467h62.9v2h-62.9zM320.8 471h62.9v1h-62.9zM320.8 475h62.9v1h-62.9zM320.8 479h62.9v1h-62.9zM320.8 572h62.9v1h-62.9zM320.8 677h62.9v1h-62.9zM383.7 62h62.8v2h-62.8zM383.7 79h62.8v1h-62.8zM383.7 107h62.8v1h-62.8zM383.7 110h62.8v1h-62.8zM383.7 112h62.8v1h-62.8zM383.7 114h62.8v2h-62.8zM383.7 123h62.8v1h-62.8zM383.7 138h62.8v2h-62.8zM383.7 146h62.8v1h-62.8zM383.7 157h62.8v1h-62.8zM383.7 242h62.8v1h-62.8zM383.7 247h62.8v1h-62.8zM383.7 250h62.8v1h-62.8zM383.7 260h62.8v1h-62.8zM383.7 264h62.8v1h-62.8zM383.7 316h62.8v1h-62.8zM383.7 326h62.8v1h-62.8zM383.7 328h62.8v1h-62.8zM383.7 330h62.8v1h-62.8zM383.7 335h62.8v1h-62.8zM383.7 373h62.8v1h-62.8zM383.7 378h62.8v1h-62.8zM383.7 388h62.8v1h-62.8zM383.7 454h62.8v1h-62.8zM383.7 463h62.8v1h-62.8zM383.7 498h62.8v3h-62.8zM383.7 587h62.8v1h-62.8zM383.7 597h62.8v1h-62.8zM383.7 625h62.8v1h-62.8zM383.7 641h62.8v1h-62.8zM383.7 676h62.8v1h-62.8zM383.7 685h62.8v1h-62.8zM383.7 710h62.8v1h-62.8zM383.7 716h62.8v1h-62.8zM383.7 718h62.8v1h-62.8zM383.7 743h62.8v1h-62.8zM383.7 757h62.8v1h-62.8zM383.7 819h62.8v1h-62.8zM446.5 63h62.9v1h-62.9zM446.5 105h62.9v1h-62.9zM446.5 114h62.9v1h-62.9zM446.5 130h62.9v1h-62.9zM446.5 142h62.9v1h-62.9zM446.5 148h62.9v1h-62.9zM446.5 153h62.9v1h-62.9zM446.5 155h62.9v1h-62.9zM446.5 161h62.9v1h-62.9zM446.5 175h62.9v1h-62.9zM446.5 219h62.9v1h-62.9zM446.5 223h62.9v1h-62.9zM446.5 232h62.9v1h-62.9zM446.5 252h62.9v2h-62.9zM446.5 258h62.9v1h-62.9zM446.5 260h62.9v1h-62.9zM446.5 263h62.9v1h-62.9zM446.5 288h62.9v1h-62.9zM446.5 325h62.9v1h-62.9zM446.5 329h62.9v1h-62.9zM446.5 347h62.9v1h-62.9zM446.5 380h62.9v1h-62.9zM446.5 386h62.9v1h-62.9zM446.5 431h62.9v1h-62.9zM446.5 464h62.9v1h-62.9zM446.5 475h62.9v1h-62.9zM446.5 479h62.9v1h-62.9zM446.5 503h62.9v1h-62.9zM446.5 506h62.9v1h-62.9zM446.5 513h62.9v1h-62.9zM446.5 525h62.9v1h-62.9zM446.5 532h62.9v1h-62.9zM446.5 538h62.9v1h-62.9zM446.5 551h62.9v2h-62.9zM446.5 563h62.9v1h-62.9zM446.5 567h62.9v1h-62.9zM446.5 619h62.9v1h-62.9zM446.5 622h62.9v1h-62.9zM446.5 626h62.9v1h-62.9zM446.5 645h62.9v1h-62.9zM446.5 648h62.9v2h-62.9zM446.5 656h62.9v1h-62.9zM446.5 662h62.9v1h-62.9zM446.5 673h62.9v1h-62.9zM446.5 687h62.9v2h-62.9zM446.5 690h62.9v1h-62.9zM446.5 694h62.9v2h-62.9zM446.5 699h62.9v1h-62.9zM446.5 723h62.9v1h-62.9zM446.5 729h62.9v1h-62.9zM446.5 735h62.9v3h-62.9zM446.5 752h62.9v1h-62.9zM446.5 787h62.9v1h-62.9zM446.5 797h62.9v2h-62.9zM446.5 815h62.9v1h-62.9zM446.5 826h62.9v1h-62.9zM446.5 828h62.9v1h-62.9zM509.4 80h62.9v1h-62.9zM509.4 109h62.9v1h-62.9zM509.4 112h62.9v1h-62.9zM509.4 114h62.9v2h-62.9zM509.4 136h62.9v1h-62.9zM509.4 159h62.9v1h-62.9zM509.4 165h62.9v1h-62.9zM509.4 333h62.9v1h-62.9zM509.4 349h62.9v1h-62.9zM509.4 428h62.9v1h-62.9zM509.4 431h62.9v1h-62.9zM509.4 437h62.9v1h-62.9zM509.4 469h62.9v1h-62.9zM509.4 480h62.9v1h-62.9zM509.4 485h62.9v1h-62.9zM509.4 499h62.9v1h-62.9zM509.4 507h62.9v1h-62.9zM509.4 527h62.9v1h-62.9zM509.4 542h62.9v1h-62.9zM509.4 547h62.9v1h-62.9zM509.4 555h62.9v1h-62.9zM509.4 574h62.9v1h-62.9zM509.4 583h62.9v1h-62.9zM509.4 585h62.9v1h-62.9zM509.4 594h62.9v1h-62.9zM509.4 636h62.9v1h-62.9zM509.4 644h62.9v1h-62.9zM509.4 658h62.9v1h-62.9zM509.4 663h62.9v1h-62.9zM509.4 675h62.9v1h-62.9zM509.4 705h62.9v1h-62.9zM509.4 730h62.9v1h-62.9zM509.4 748h62.9v1h-62.9z"/><path fill="#f6f1cf" d="M69.4 80h62.9v2h-62.9zM69.4 102h62.9v1h-62.9zM69.4 104h62.9v1h-62.9zM69.4 166h62.9v1h-62.9zM69.4 223h62.9v1h-62.9zM69.4 231h62.9v1h-62.9zM69.4 243h62.9v1h-62.9zM69.4 253h62.9v1h-62.9zM69.4 334h62.9v1h-62.9zM69.4 440h62.9v1h-62.9zM69.4 458h62.9v1h-62.9zM69.4 464h62.9v1h-62.9zM69.4 468h62.9v1h-62.9zM69.4 501h62.9v1h-62.9zM69.4 518h62.9v1h-62.9zM69.4 581h62.9v1h-62.9zM69.4 684h62.9v1h-62.9zM69.4 762h62.9v2h-62.9zM69.4 772h62.9v1h-62.9zM69.4 798h62.9v1h-62.9zM69.4 801h62.9v1h-62.9zM69.4 806h62.9v1h-62.9zM69.4 819h62.9v1h-62.9zM69.4 833h62.9v1h-62.9zM132.3 81h62.8v1h-62.8zM132.3 84h62.8v1h-62.8zM132.3 91h62.8v1h-62.8zM132.3 95h62.8v1h-62.8zM132.3 98h62.8v1h-62.8zM132.3 102h62.8v1h-62.8zM132.3 104h62.8v2h-62.8zM132.3 108h62.8v2h-62.8zM132.3 117h62.8v1h-62.8zM132.3 121h62.8v1h-62.8zM132.3 127h62.8v1h-62.8zM132.3 130h62.8v1h-62.8zM132.3 137h62.8v1h-62.8zM132.3 143h62.8v1h-62.8zM132.3 147h62.8v1h-62.8zM132.3 150h62.8v1h-62.8zM132.3 154h62.8v1h-62.8zM132.3 158h62.8v2h-62.8zM132.3 180h62.8v1h-62.8zM132.3 246h62.8v1h-62.8zM132.3 255h62.8v1h-62.8zM132.3 258h62.8v1h-62.8zM132.3 270h62.8v1h-62.8zM132.3 280h62.8v1h-62.8zM132.3 329h62.8v1h-62.8zM132.3 331h62.8v2h-62.8zM132.3 338h62.8v1h-62.8zM132.3 433h62.8v1h-62.8zM132.3 450h62.8v1h-62.8zM132.3 452h62.8v1h-62.8zM132.3 457h62.8v1h-62.8zM132.3 550h62.8v1h-62.8zM132.3 553h62.8v2h-62.8zM132.3 590h62.8v1h-62.8zM132.3 597h62.8v1h-62.8zM132.3 648h62.8v1h-62.8zM132.3 661h62.8v1h-62.8zM132.3 789h62.8v1h-62.8zM132.3 791h62.8v3h-62.8zM132.3 796h62.8v1h-62.8zM132.3 800h62.8v1h-62.8zM132.3 805h62.8v1h-62.8zM132.3 812h62.8v1h-62.8zM132.3 823h62.8v2h-62.8zM132.3 827h62.8v1h-62.8zM132.3 836h62.8v1h-62.8zM195.1 64h62.9v1h-62.9zM195.1 72h62.9v1h-62.9zM195.1 79h62.9v1h-62.9zM195.1 90h62.9v1h-62.9zM195.1 99h62.9v2h-62.9zM195.1 110h62.9v1h-62.9zM195.1 113h62.9v1h-62.9zM195.1 115h62.9v1h-62.9zM195.1 121h62.9v1h-62.9zM195.1 125h62.9v1h-62.9zM195.1 131h62.9v1h-62.9zM195.1 137h62.9v2h-62.9zM195.1 140h62.9v1h-62.9zM195.1 143h62.9v1h-62.9zM195.1 146h62.9v1h-62.9zM195.1 151h62.9v4h-62.9zM195.1 166h62.9v1h-62.9zM195.1 168h62.9v1h-62.9zM195.1 170h62.9v1h-62.9zM195.1 182h62.9v3h-62.9zM195.1 189h62.9v1h-62.9zM195.1 192h62.9v1h-62.9zM195.1 194h62.9v2h-62.9zM195.1 199h62.9v1h-62.9zM195.1 203h62.9v1h-62.9zM195.1 208h62.9v1h-62.9zM195.1 210h62.9v3h-62.9zM195.1 215h62.9v1h-62.9zM195.1 220h62.9v1h-62.9zM195.1 225h62.9v1h-62.9zM195.1 232h62.9v2h-62.9zM195.1 235h62.9v1h-62.9zM195.1 239h62.9v2h-62.9zM195.1 253h62.9v1h-62.9zM195.1 258h62.9v1h-62.9zM195.1 262h62.9v1h-62.9zM195.1 265h62.9v3h-62.9zM195.1 278h62.9v2h-62.9zM195.1 281h62.9v2h-62.9zM195.1 284h62.9v1h-62.9zM195.1 289h62.9v1h-62.9zM195.1 291h62.9v2h-62.9zM195.1 300h62.9v2h-62.9zM195.1 304h62.9v1h-62.9zM195.1 310h62.9v1h-62.9zM195.1 316h62.9v2h-62.9zM195.1 319h62.9v5h-62.9zM195.1 332h62.9v1h-62.9zM195.1 353h62.9v1h-62.9zM195.1 356h62.9v1h-62.9zM195.1 361h62.9v1h-62.9zM195.1 370h62.9v2h-62.9zM195.1 382h62.9v1h-62.9zM195.1 386h62.9v1h-62.9zM195.1 390h62.9v1h-62.9zM195.1 393h62.9v2h-62.9zM195.1 446h62.9v2h-62.9zM195.1 478h62.9v1h-62.9zM195.1 488h62.9v1h-62.9zM195.1 495h62.9v1h-62.9zM195.1 498h62.9v1h-62.9zM195.1 507h62.9v1h-62.9zM195.1 511h62.9v1h-62.9zM195.1 518h62.9v1h-62.9zM195.1 535h62.9v1h-62.9zM195.1 540h62.9v3h-62.9zM195.1 549h62.9v1h-62.9zM195.1 551h62.9v2h-62.9zM195.1 563h62.9v1h-62.9zM195.1 568h62.9v1h-62.9zM195.1 576h62.9v1h-62.9zM195.1 586h62.9v1h-62.9zM195.1 589h62.9v3h-62.9zM195.1 593h62.9v1h-62.9zM195.1 602h62.9v2h-62.9zM195.1 610h62.9v1h-62.9zM195.1 621h62.9v1h-62.9zM195.1 644h62.9v4h-62.9zM195.1 651h62.9v1h-62.9zM195.1 655h62.9v1h-62.9zM195.1 666h62.9v1h-62.9zM195.1 676h62.9v1h-62.9zM195.1 678h62.9v1h-62.9zM195.1 680h62.9v2h-62.9zM195.1 689h62.9v1h-62.9zM195.1 698h62.9v1h-62.9zM195.1 711h62.9v1h-62.9zM195.1 719h62.9v1h-62.9zM195.1 748h62.9v1h-62.9zM195.1 774h62.9v1h-62.9zM195.1 785h62.9v1h-62.9zM195.1 794h62.9v1h-62.9zM195.1 797h62.9v2h-62.9zM195.1 801h62.9v3h-62.9zM195.1 806h62.9v4h-62.9zM195.1 813h62.9v1h-62.9zM195.1 820h62.9v1h-62.9zM195.1 823h62.9v1h-62.9zM195.1 827h62.9v1h-62.9zM195.1 829h62.9v1h-62.9zM195.1 831h62.9v4h-62.9zM195.1 836h62.9v1h-62.9zM258 129h62.8v1h-62.8zM258 166h62.8v1h-62.8zM258 388h62.8v1h-62.8zM258 390h62.8v1h-62.8zM258 397h62.8v1h-62.8zM258 445h62.8v2h-62.8zM258 499h62.8v1h-62.8zM258 616h62.8v1h-62.8zM258 630h62.8v1h-62.8zM258 689h62.8v1h-62.8zM258 739h62.8v1h-62.8zM258 752h62.8v1h-62.8zM258 760h62.8v1h-62.8zM258 769h62.8v1h-62.8zM258 791h62.8v1h-62.8zM258 838h62.8v1.3h-62.8zM320.8 171h62.9v2h-62.9zM320.8 178h62.9v1h-62.9zM320.8 191h62.9v1h-62.9zM320.8 196h62.9v1h-62.9zM320.8 227h62.9v1h-62.9zM320.8 241h62.9v1h-62.9zM320.8 280h62.9v1h-62.9zM320.8 283h62.9v1h-62.9zM320.8 285h62.9v1h-62.9zM320.8 288h62.9v1h-62.9zM320.8 291h62.9v1h-62.9zM320.8 298h62.9v1h-62.9zM320.8 301h62.9v1h-62.9zM320.8 303h62.9v1h-62.9zM320.8 343h62.9v1h-62.9zM320.8 348h62.9v2h-62.9zM320.8 414h62.9v1h-62.9zM320.8 422h62.9v1h-62.9zM320.8 425h62.9v2h-62.9zM320.8 430h62.9v1h-62.9zM320.8 470h62.9v1h-62.9zM320.8 797h62.9v1h-62.9zM320.8 799h62.9v1h-62.9zM320.8 801h62.9v1h-62.9zM320.8 804h62.9v2h-62.9zM320.8 814h62.9v1h-62.9zM320.8 819h62.9v1h-62.9zM320.8 834h62.9v1h-62.9zM383.7 61.7h62.8v0.3h-62.8zM383.7 68h62.8v1h-62.8zM383.7 73h62.8v1h-62.8zM383.7 78h62.8v1h-62.8zM383.7 88h62.8v2h-62.8zM383.7 99h62.8v1h-62.8zM383.7 101h62.8v2h-62.8zM383.7 124h62.8v1h-62.8zM383.7 131h62.8v3h-62.8zM383.7 144h62.8v1h-62.8zM383.7 155h62.8v1h-62.8zM383.7 252h62.8v1h-62.8zM383.7 259h62.8v1h-62.8zM383.7 287h62.8v1h-62.8zM383.7 289h62.8v1h-62.8zM383.7 294h62.8v1h-62.8zM383.7 380h62.8v1h-62.8zM383.7 413h62.8v1h-62.8zM383.7 416h62.8v1h-62.8zM383.7 471h62.8v1h-62.8zM383.7 724h62.8v1h-62.8zM383.7 788h62.8v1h-62.8zM383.7 790h62.8v1h-62.8zM383.7 797h62.8v2h-62.8zM383.7 806h62.8v1h-62.8zM383.7 812h62.8v1h-62.8zM383.7 815h62.8v1h-62.8zM383.7 817h62.8v1h-62.8zM383.7 826h62.8v1h-62.8zM446.5 146h62.9v2h-62.9zM446.5 176h62.9v1h-62.9zM446.5 183h62.9v1h-62.9zM446.5 264h62.9v1h-62.9zM446.5 271h62.9v1h-62.9zM446.5 287h62.9v1h-62.9zM446.5 317h62.9v1h-62.9zM446.5 320h62.9v1h-62.9zM446.5 322h62.9v1h-62.9zM446.5 351h62.9v1h-62.9zM446.5 355h62.9v1h-62.9zM446.5 366h62.9v1h-62.9zM446.5 392h62.9v1h-62.9zM446.5 394h62.9v1h-62.9zM446.5 409h62.9v1h-62.9zM446.5 425h62.9v1h-62.9zM446.5 434h62.9v2h-62.9zM446.5 439h62.9v1h-62.9zM446.5 446h62.9v1h-62.9zM446.5 449h62.9v2h-62.9zM446.5 457h62.9v1h-62.9zM446.5 490h62.9v1h-62.9zM446.5 492h62.9v1h-62.9zM446.5 536h62.9v1h-62.9zM446.5 574h62.9v1h-62.9zM446.5 586h62.9v1h-62.9zM446.5 606h62.9v1h-62.9zM446.5 623h62.9v1h-62.9zM446.5 642h62.9v1h-62.9zM446.5 703h62.9v1h-62.9zM446.5 716h62.9v1h-62.9zM446.5 789h62.9v1h-62.9zM446.5 799h62.9v1h-62.9zM446.5 806h62.9v1h-62.9zM446.5 814h62.9v1h-62.9zM446.5 821h62.9v1h-62.9zM446.5 824h62.9v2h-62.9zM446.5 836h62.9v1h-62.9zM509.4 85h62.9v1h-62.9zM509.4 92h62.9v1h-62.9zM509.4 104h62.9v1h-62.9zM509.4 129h62.9v1h-62.9zM509.4 135h62.9v1h-62.9zM509.4 137h62.9v1h-62.9zM509.4 172h62.9v1h-62.9zM509.4 251h62.9v1h-62.9zM509.4 255h62.9v1h-62.9zM509.4 269h62.9v1h-62.9zM509.4 305h62.9v1h-62.9zM509.4 314h62.9v1h-62.9zM509.4 338h62.9v1h-62.9zM509.4 409h62.9v1h-62.9zM509.4 415h62.9v1h-62.9zM509.4 422h62.9v1h-62.9zM509.4 465h62.9v1h-62.9zM509.4 470h62.9v1h-62.9zM509.4 478h62.9v2h-62.9zM509.4 500h62.9v1h-62.9zM509.4 503h62.9v1h-62.9zM509.4 639h62.9v1h-62.9zM509.4 656h62.9v1h-62.9zM509.4 801h62.9v1h-62.9zM509.4 813h62.9v1h-62.9zM509.4 827h62.9v1h-62.9zM509.4 835h62.9v1h-62.9z"/><path fill="#f6e8c5" d="M69.4 82h62.9v1h-62.9zM69.4 92h62.9v1h-62.9zM69.4 100h62.9v1h-62.9zM69.4 109h62.9v1h-62.9zM69.4 118h62.9v1h-62.9zM69.4 133h62.9v1h-62.9zM69.4 136h62.9v1h-62.9zM69.4 138h62.9v1h-62.9zM69.4 147h62.9v1h-62.9zM69.4 167h62.9v1h-62.9zM69.4 189h62.9v1h-62.9zM69.4 201h62.9v1h-62.9zM69.4 205h62.9v1h-62.9zM69.4 292h62.9v1h-62.9zM69.4 300h62.9v1h-62.9zM69.4 315h62.9v1h-62.9zM69.4 332h62.9v1h-62.9zM69.4 469h62.9v1h-62.9zM69.4 477h62.9v1h-62.9zM69.4 482h62.9v1h-62.9zM69.4 515h62.9v2h-62.9zM69.4 529h62.9v1h-62.9zM69.4 552h62.9v2h-62.9zM69.4 560h62.9v1h-62.9zM69.4 574h62.9v1h-62.9zM69.4 583h62.9v1h-62.9zM69.4 587h62.9v1h-62.9zM69.4 605h62.9v1h-62.9zM69.4 612h62.9v1h-62.9zM69.4 624h62.9v1h-62.9zM69.4 654h62.9v1h-62.9zM69.4 665h62.9v1h-62.9zM69.4 674h62.9v1h-62.9zM69.4 677h62.9v1h-62.9zM69.4 691h62.9v1h-62.9zM69.4 723h62.9v1h-62.9zM69.4 757h62.9v1h-62.9zM69.4 761h62.9v1h-62.9zM69.4 764h62.9v1h-62.9zM69.4 770h62.9v1h-62.9zM69.4 809h62.9v1h-62.9zM132.3 90h62.8v1h-62.8zM132.3 94h62.8v1h-62.8zM132.3 111h62.8v2h-62.8zM132.3 244h62.8v1h-62.8zM132.3 282h62.8v1h-62.8zM132.3 293h62.8v1h-62.8zM132.3 306h62.8v1h-62.8zM132.3 310h62.8v1h-62.8zM132.3 339h62.8v1h-62.8zM132.3 342h62.8v1h-62.8zM132.3 394h62.8v1h-62.8zM132.3 397h62.8v1h-62.8zM132.3 410h62.8v1h-62.8zM132.3 416h62.8v1h-62.8zM132.3 437h62.8v1h-62.8zM132.3 439h62.8v2h-62.8zM132.3 442h62.8v1h-62.8zM132.3 455h62.8v2h-62.8zM132.3 458h62.8v3h-62.8zM132.3 471h62.8v1h-62.8zM132.3 473h62.8v1h-62.8zM132.3 518h62.8v2h-62.8zM132.3 531h62.8v1h-62.8zM132.3 533h62.8v1h-62.8zM132.3 549h62.8v1h-62.8zM132.3 599h62.8v1h-62.8zM132.3 604h62.8v1h-62.8zM132.3 606h62.8v1h-62.8zM132.3 613h62.8v1h-62.8zM132.3 639h62.8v1h-62.8zM132.3 689h62.8v1h-62.8zM132.3 724h62.8v1h-62.8zM132.3 757h62.8v1h-62.8zM132.3 831h62.8v1h-62.8zM195.1 374h62.9v1h-62.9zM195.1 378h62.9v1h-62.9zM195.1 383h62.9v1h-62.9zM195.1 415h62.9v1h-62.9zM195.1 437h62.9v1h-62.9zM195.1 457h62.9v3h-62.9zM195.1 475h62.9v1h-62.9zM195.1 479h62.9v1h-62.9zM195.1 530h62.9v4h-62.9zM195.1 615h62.9v1h-62.9zM195.1 628h62.9v1h-62.9zM195.1 630h62.9v2h-62.9zM195.1 639h62.9v1h-62.9zM195.1 659h62.9v1h-62.9zM195.1 663h62.9v1h-62.9zM195.1 673h62.9v1h-62.9zM195.1 708h62.9v1h-62.9zM195.1 728h62.9v1h-62.9zM195.1 731h62.9v2h-62.9zM195.1 739h62.9v1h-62.9zM195.1 746h62.9v1h-62.9zM195.1 753h62.9v1h-62.9zM195.1 755h62.9v3h-62.9zM195.1 780h62.9v1h-62.9zM258 121h62.8v1h-62.8zM258 156h62.8v1h-62.8zM258 158h62.8v1h-62.8zM258 172h62.8v1h-62.8zM258 183h62.8v1h-62.8zM258 198h62.8v1h-62.8zM258 389h62.8v1h-62.8zM258 396h62.8v1h-62.8zM258 453h62.8v1h-62.8zM258 528h62.8v1h-62.8zM258 540h62.8v1h-62.8zM258 557h62.8v1h-62.8zM258 571h62.8v1h-62.8zM258 597h62.8v1h-62.8zM258 606h62.8v1h-62.8zM258 618h62.8v1h-62.8zM258 644h62.8v1h-62.8zM258 694h62.8v1h-62.8zM258 703h62.8v1h-62.8zM258 730h62.8v1h-62.8zM258 735h62.8v1h-62.8zM258 753h62.8v1h-62.8zM258 763h62.8v1h-62.8zM258 778h62.8v1h-62.8zM258 781h62.8v1h-62.8zM258 784h62.8v1h-62.8zM258 787h62.8v1h-62.8zM320.8 169h62.9v1h-62.9zM320.8 201h62.9v1h-62.9zM320.8 233h62.9v1h-62.9zM320.8 268h62.9v1h-62.9zM320.8 315h62.9v1h-62.9zM320.8 320h62.9v1h-62.9zM320.8 332h62.9v1h-62.9zM320.8 341h62.9v1h-62.9zM320.8 344h62.9v1h-62.9zM320.8 409h62.9v1h-62.9zM320.8 419h62.9v1h-62.9zM320.8 464h62.9v1h-62.9zM320.8 549h62.9v2h-62.9zM320.8 660h62.9v1h-62.9zM320.8 678h62.9v1h-62.9zM320.8 763h62.9v1h-62.9zM320.8 833h62.9v1h-62.9zM383.7 86h62.8v1h-62.8zM383.7 93h62.8v1h-62.8zM383.7 129h62.8v1h-62.8zM383.7 154h62.8v1h-62.8zM383.7 156h62.8v1h-62.8zM383.7 214h62.8v1h-62.8zM383.7 225h62.8v1h-62.8zM383.7 254h62.8v1h-62.8zM383.7 266h62.8v1h-62.8zM383.7 313h62.8v1h-62.8zM383.7 315h62.8v1h-62.8zM383.7 329h62.8v1h-62.8zM383.7 336h62.8v1h-62.8zM383.7 361h62.8v1h-62.8zM383.7 385h62.8v1h-62.8zM383.7 395h62.8v1h-62.8zM383.7 445h62.8v1h-62.8zM383.7 447h62.8v2h-62.8zM383.7 453h62.8v1h-62.8zM383.7 491h62.8v1h-62.8zM383.7 501h62.8v1h-62.8zM383.7 583h62.8v1h-62.8zM383.7 599h62.8v1h-62.8zM383.7 642h62.8v1h-62.8zM383.7 655h62.8v2h-62.8zM383.7 665h62.8v1h-62.8zM383.7 673h62.8v1h-62.8zM383.7 705h62.8v1h-62.8zM383.7 708h62.8v1h-62.8zM383.7 734h62.8v1h-62.8zM383.7 758h62.8v1h-62.8zM383.7 769h62.8v2h-62.8zM383.7 816h62.8v1h-62.8zM383.7 818h62.8v1h-62.8zM383.7 820h62.8v1h-62.8zM446.5 62h62.9v1h-62.9zM446.5 86h62.9v2h-62.9zM446.5 92h62.9v1h-62.9zM446.5 96h62.9v1h-62.9zM446.5 103h62.9v1h-62.9zM446.5 111h62.9v1h-62.9zM446.5 115h62.9v1h-62.9zM446.5 122h62.9v2h-62.9zM446.5 128h62.9v2h-62.9zM446.5 143h62.9v1h-62.9zM446.5 152h62.9v1h-62.9zM446.5 160h62.9v1h-62.9zM446.5 173h62.9v1h-62.9zM446.5 194h62.9v1h-62.9zM446.5 203h62.9v1h-62.9zM446.5 222h62.9v1h-62.9zM446.5 224h62.9v1h-62.9zM446.5 233h62.9v1h-62.9zM446.5 236h62.9v2h-62.9zM446.5 246h62.9v1h-62.9zM446.5 248h62.9v1h-62.9zM446.5 250h62.9v2h-62.9zM446.5 255h62.9v1h-62.9zM446.5 257h62.9v1h-62.9zM446.5 261h62.9v1h-62.9zM446.5 283h62.9v1h-62.9zM446.5 326h62.9v1h-62.9zM446.5 330h62.9v1h-62.9zM446.5 384h62.9v1h-62.9zM446.5 388h62.9v1h-62.9zM446.5 393h62.9v1h-62.9zM446.5 416h62.9v1h-62.9zM446.5 433h62.9v1h-62.9zM446.5 453h62.9v1h-62.9zM446.5 455h62.9v2h-62.9zM446.5 486h62.9v1h-62.9zM446.5 489h62.9v1h-62.9zM446.5 494h62.9v3h-62.9zM446.5 504h62.9v1h-62.9zM446.5 511h62.9v2h-62.9zM446.5 516h62.9v1h-62.9zM446.5 533h62.9v1h-62.9zM446.5 581h62.9v1h-62.9zM446.5 584h62.9v1h-62.9zM446.5 597h62.9v3h-62.9zM446.5 603h62.9v1h-62.9zM446.5 624h62.9v1h-62.9zM446.5 635h62.9v2h-62.9zM446.5 641h62.9v1h-62.9zM446.5 644h62.9v1h-62.9zM446.5 684h62.9v1h-62.9zM446.5 693h62.9v1h-62.9zM446.5 700h62.9v1h-62.9zM446.5 702h62.9v1h-62.9zM446.5 705h62.9v1h-62.9zM446.5 713h62.9v3h-62.9zM446.5 718h62.9v1h-62.9zM446.5 727h62.9v1h-62.9zM446.5 733h62.9v1h-62.9zM446.5 751h62.9v1h-62.9zM446.5 763h62.9v1h-62.9zM446.5 767h62.9v1h-62.9zM446.5 778h62.9v1h-62.9zM446.5 781h62.9v1h-62.9zM446.5 810h62.9v1h-62.9zM446.5 834h62.9v1h-62.9zM509.4 88h62.9v1h-62.9zM509.4 101h62.9v1h-62.9zM509.4 111h62.9v1h-62.9zM509.4 116h62.9v1h-62.9zM509.4 144h62.9v1h-62.9zM509.4 150h62.9v1h-62.9zM509.4 162h62.9v1h-62.9zM509.4 199h62.9v1h-62.9zM509.4 217h62.9v1h-62.9zM509.4 282h62.9v1h-62.9zM509.4 302h62.9v1h-62.9zM509.4 335h62.9v1h-62.9zM509.4 348h62.9v1h-62.9zM509.4 350h62.9v1h-62.9zM509.4 433h62.9v1h-62.9zM509.4 476h62.9v1h-62.9zM509.4 577h62.9v2h-62.9zM509.4 580h62.9v1h-62.9zM509.4 588h62.9v1h-62.9zM509.4 622h62.9v1h-62.9zM509.4 638h62.9v1h-62.9zM509.4 653h62.9v1h-62.9zM509.4 667h62.9v2h-62.9zM509.4 680h62.9v1h-62.9zM509.4 686h62.9v1h-62.9zM509.4 692h62.9v1h-62.9zM509.4 717h62.9v2h-62.9zM509.4 725h62.9v1h-62.9zM509.4 739h62.9v1h-62.9zM509.4 741h62.9v1h-62.9zM509.4 785h62.9v1h-62.9zM509.4 826h62.9v1h-62.9z"/><path fill="#f6e6c2" d="M69.4 83h62.9v1h-62.9zM69.4 88h62.9v1h-62.9zM69.4 105h62.9v1h-62.9zM69.4 117h62.9v1h-62.9zM69.4 134h62.9v1h-62.9zM69.4 179h62.9v1h-62.9zM69.4 190h62.9v1h-62.9zM69.4 204h62.9v1h-62.9zM69.4 206h62.9v1h-62.9zM69.4 251h62.9v1h-62.9zM69.4 260h62.9v1h-62.9zM69.4 265h62.9v1h-62.9zM69.4 286h62.9v1h-62.9zM69.4 328h62.9v2h-62.9zM69.4 331h62.9v1h-62.9zM69.4 349h62.9v1h-62.9zM69.4 442h62.9v2h-62.9zM69.4 472h62.9v1h-62.9zM69.4 478h62.9v1h-62.9zM69.4 530h62.9v1h-62.9zM69.4 534h62.9v1h-62.9zM69.4 610h62.9v1h-62.9zM69.4 619h62.9v1h-62.9zM69.4 636h62.9v1h-62.9zM69.4 662h62.9v1h-62.9zM69.4 685h62.9v1h-62.9zM69.4 694h62.9v1h-62.9zM69.4 707h62.9v1h-62.9zM69.4 712h62.9v1h-62.9zM69.4 714h62.9v2h-62.9zM69.4 719h62.9v1h-62.9zM69.4 725h62.9v1h-62.9zM69.4 769h62.9v1h-62.9zM69.4 776h62.9v2h-62.9zM69.4 815h62.9v1h-62.9zM69.4 832h62.9v1h-62.9zM132.3 140h62.8v1h-62.8zM132.3 177h62.8v1h-62.8zM132.3 200h62.8v1h-62.8zM132.3 202h62.8v1h-62.8zM132.3 225h62.8v1h-62.8zM132.3 263h62.8v1h-62.8zM132.3 281h62.8v1h-62.8zM132.3 283h62.8v1h-62.8zM132.3 300h62.8v1h-62.8zM132.3 302h62.8v1h-62.8zM132.3 304h62.8v1h-62.8zM132.3 308h62.8v1h-62.8zM132.3 313h62.8v1h-62.8zM132.3 341h62.8v1h-62.8zM132.3 344h62.8v1h-62.8zM132.3 392h62.8v1h-62.8zM132.3 409h62.8v1h-62.8zM132.3 411h62.8v1h-62.8zM132.3 435h62.8v1h-62.8zM132.3 461h62.8v1h-62.8zM132.3 472h62.8v1h-62.8zM132.3 490h62.8v1h-62.8zM132.3 492h62.8v1h-62.8zM132.3 495h62.8v1h-62.8zM132.3 520h62.8v1h-62.8zM132.3 527h62.8v1h-62.8zM132.3 543h62.8v1h-62.8zM132.3 555h62.8v1h-62.8zM132.3 558h62.8v1h-62.8zM132.3 580h62.8v1h-62.8zM132.3 596h62.8v1h-62.8zM132.3 630h62.8v1h-62.8zM132.3 635h62.8v1h-62.8zM132.3 653h62.8v1h-62.8zM132.3 658h62.8v1h-62.8zM132.3 686h62.8v1h-62.8zM132.3 713h62.8v1h-62.8zM132.3 728h62.8v1h-62.8zM132.3 768h62.8v1h-62.8zM132.3 775h62.8v1h-62.8zM132.3 803h62.8v1h-62.8zM195.1 372h62.9v1h-62.9zM195.1 375h62.9v3h-62.9zM195.1 433h62.9v1h-62.9zM195.1 436h62.9v1h-62.9zM195.1 440h62.9v1h-62.9zM195.1 460h62.9v2h-62.9zM195.1 534h62.9v1h-62.9zM195.1 684h62.9v1h-62.9zM195.1 738h62.9v1h-62.9zM195.1 760h62.9v1h-62.9zM258 80h62.8v1h-62.8zM258 134h62.8v1h-62.8zM258 176h62.8v1h-62.8zM258 192h62.8v2h-62.8zM258 221h62.8v1h-62.8zM258 223h62.8v1h-62.8zM258 394h62.8v1h-62.8zM258 455h62.8v1h-62.8zM258 490h62.8v1h-62.8zM258 520h62.8v1h-62.8zM258 546h62.8v1h-62.8zM258 559h62.8v1h-62.8zM258 568h62.8v1h-62.8zM258 628h62.8v1h-62.8zM258 656h62.8v1h-62.8zM258 659h62.8v1h-62.8zM258 727h62.8v1h-62.8zM258 746h62.8v1h-62.8zM258 764h62.8v1h-62.8zM258 788h62.8v1h-62.8zM320.8 68h62.9v1h-62.9zM320.8 202h62.9v1h-62.9zM320.8 219h62.9v1h-62.9zM320.8 225h62.9v1h-62.9zM320.8 238h62.9v1h-62.9zM320.8 262h62.9v1h-62.9zM320.8 273h62.9v1h-62.9zM320.8 276h62.9v1h-62.9zM320.8 300h62.9v1h-62.9zM320.8 302h62.9v1h-62.9zM320.8 323h62.9v1h-62.9zM320.8 337h62.9v1h-62.9zM320.8 383h62.9v1h-62.9zM320.8 397h62.9v1h-62.9zM320.8 411h62.9v1h-62.9zM320.8 413h62.9v1h-62.9zM320.8 442h62.9v1h-62.9zM320.8 460h62.9v1h-62.9zM320.8 469h62.9v1h-62.9zM320.8 472h62.9v1h-62.9zM320.8 548h62.9v1h-62.9zM320.8 595h62.9v1h-62.9zM320.8 807h62.9v1h-62.9zM320.8 818h62.9v1h-62.9zM383.7 92h62.8v1h-62.8zM383.7 97h62.8v1h-62.8zM383.7 126h62.8v1h-62.8zM383.7 140h62.8v1h-62.8zM383.7 158h62.8v1h-62.8zM383.7 178h62.8v1h-62.8zM383.7 180h62.8v1h-62.8zM383.7 317h62.8v1h-62.8zM383.7 319h62.8v2h-62.8zM383.7 362h62.8v1h-62.8zM383.7 376h62.8v1h-62.8zM383.7 383h62.8v1h-62.8zM383.7 392h62.8v1h-62.8zM383.7 449h62.8v2h-62.8zM383.7 452h62.8v1h-62.8zM383.7 490h62.8v1h-62.8zM383.7 571h62.8v1h-62.8zM383.7 575h62.8v1h-62.8zM383.7 584h62.8v1h-62.8zM383.7 602h62.8v2h-62.8zM383.7 605h62.8v1h-62.8zM383.7 608h62.8v3h-62.8zM383.7 623h62.8v1h-62.8zM383.7 645h62.8v1h-62.8zM383.7 657h62.8v1h-62.8zM383.7 662h62.8v1h-62.8zM383.7 666h62.8v1h-62.8zM383.7 670h62.8v1h-62.8zM383.7 712h62.8v1h-62.8zM383.7 721h62.8v1h-62.8zM383.7 741h62.8v1h-62.8zM383.7 766h62.8v1h-62.8zM446.5 154h62.9v1h-62.9zM446.5 156h62.9v1h-62.9zM446.5 184h62.9v1h-62.9zM446.5 186h62.9v1h-62.9zM446.5 188h62.9v1h-62.9zM446.5 205h62.9v1h-62.9zM446.5 234h62.9v2h-62.9zM446.5 238h62.9v1h-62.9zM446.5 243h62.9v3h-62.9zM446.5 247h62.9v1h-62.9zM446.5 254h62.9v1h-62.9zM446.5 256h62.9v1h-62.9zM446.5 284h62.9v1h-62.9zM446.5 300h62.9v2h-62.9zM446.5 309h62.9v1h-62.9zM446.5 349h62.9v1h-62.9zM446.5 354h62.9v1h-62.9zM446.5 365h62.9v1h-62.9zM446.5 412h62.9v3h-62.9zM446.5 454h62.9v1h-62.9zM446.5 480h62.9v1h-62.9zM446.5 497h62.9v1h-62.9zM446.5 522h62.9v1h-62.9zM446.5 526h62.9v1h-62.9zM446.5 549h62.9v1h-62.9zM446.5 558h62.9v1h-62.9zM446.5 561h62.9v1h-62.9zM446.5 568h62.9v2h-62.9zM446.5 578h62.9v1h-62.9zM446.5 588h62.9v1h-62.9zM446.5 600h62.9v2h-62.9zM446.5 605h62.9v1h-62.9zM446.5 609h62.9v1h-62.9zM446.5 616h62.9v1h-62.9zM446.5 625h62.9v1h-62.9zM446.5 627h62.9v1h-62.9zM446.5 659h62.9v1h-62.9zM446.5 666h62.9v1h-62.9zM446.5 680h62.9v1h-62.9zM446.5 697h62.9v1h-62.9zM446.5 719h62.9v1h-62.9zM446.5 721h62.9v1h-62.9zM446.5 724h62.9v1h-62.9zM446.5 749h62.9v2h-62.9zM446.5 756h62.9v1h-62.9zM446.5 758h62.9v1h-62.9zM446.5 761h62.9v1h-62.9zM446.5 777h62.9v1h-62.9zM446.5 779h62.9v1h-62.9zM446.5 782h62.9v1h-62.9zM446.5 827h62.9v1h-62.9zM509.4 96h62.9v1h-62.9zM509.4 98h62.9v1h-62.9zM509.4 100h62.9v1h-62.9zM509.4 102h62.9v1h-62.9zM509.4 119h62.9v1h-62.9zM509.4 143h62.9v1h-62.9zM509.4 146h62.9v1h-62.9zM509.4 153h62.9v2h-62.9zM509.4 156h62.9v1h-62.9zM509.4 175h62.9v1h-62.9zM509.4 193h62.9v1h-62.9zM509.4 232h62.9v1h-62.9zM509.4 236h62.9v1h-62.9zM509.4 291h62.9v1h-62.9zM509.4 301h62.9v1h-62.9zM509.4 340h62.9v1h-62.9zM509.4 372h62.9v1h-62.9zM509.4 398h62.9v1h-62.9zM509.4 400h62.9v1h-62.9zM509.4 434h62.9v1h-62.9zM509.4 492h62.9v1h-62.9zM509.4 502h62.9v1h-62.9zM509.4 535h62.9v1h-62.9zM509.4 545h62.9v1h-62.9zM509.4 554h62.9v1h-62.9zM509.4 590h62.9v1h-62.9zM509.4 624h62.9v1h-62.9zM509.4 633h62.9v1h-62.9zM509.4 704h62.9v1h-62.9zM509.4 709h62.9v1h-62.9zM509.4 711h62.9v1h-62.9zM509.4 722h62.9v1h-62.9zM509.4 737h62.9v1h-62.9zM509.4 750h62.9v1h-62.9z"/><path fill="#f4d9b3" d="M69.4 84h62.9v1h-62.9zM69.4 112h62.9v1h-62.9zM69.4 119h62.9v1h-62.9zM69.4 122h62.9v1h-62.9zM69.4 128h62.9v1h-62.9zM69.4 130h62.9v1h-62.9zM69.4 149h62.9v1h-62.9zM69.4 184h62.9v1h-62.9zM69.4 216h62.9v1h-62.9zM69.4 298h62.9v1h-62.9zM69.4 350h62.9v1h-62.9zM69.4 453h62.9v1h-62.9zM69.4 701h62.9v1h-62.9zM69.4 710h62.9v1h-62.9zM69.4 716h62.9v2h-62.9zM69.4 759h62.9v1h-62.9zM69.4 774h62.9v1h-62.9zM132.3 114h62.8v1h-62.8zM132.3 162h62.8v1h-62.8zM132.3 168h62.8v1h-62.8zM132.3 205h62.8v1h-62.8zM132.3 222h62.8v1h-62.8zM132.3 228h62.8v1h-62.8zM132.3 236h62.8v1h-62.8zM132.3 301h62.8v1h-62.8zM132.3 359h62.8v2h-62.8zM132.3 385h62.8v1h-62.8zM132.3 390h62.8v1h-62.8zM132.3 468h62.8v1h-62.8zM132.3 476h62.8v1h-62.8zM132.3 504h62.8v2h-62.8zM132.3 510h62.8v1h-62.8zM132.3 528h62.8v1h-62.8zM132.3 540h62.8v1h-62.8zM132.3 563h62.8v2h-62.8zM132.3 574h62.8v1h-62.8zM132.3 577h62.8v1h-62.8zM132.3 583h62.8v1h-62.8zM132.3 585h62.8v1h-62.8zM132.3 591h62.8v1h-62.8zM132.3 607h62.8v1h-62.8zM132.3 609h62.8v1h-62.8zM132.3 614h62.8v1h-62.8zM132.3 616h62.8v1h-62.8zM132.3 631h62.8v2h-62.8zM132.3 637h62.8v2h-62.8zM132.3 640h62.8v1h-62.8zM132.3 645h62.8v1h-62.8zM132.3 649h62.8v2h-62.8zM132.3 657h62.8v1h-62.8zM132.3 673h62.8v2h-62.8zM132.3 691h62.8v1h-62.8zM132.3 705h62.8v1h-62.8zM132.3 734h62.8v3h-62.8zM132.3 738h62.8v2h-62.8zM132.3 782h62.8v2h-62.8zM195.1 425h62.9v1h-62.9zM195.1 703h62.9v1h-62.9zM258 197h62.8v1h-62.8zM258 393h62.8v1h-62.8zM258 533h62.8v1h-62.8zM320.8 64h62.9v1h-62.9zM320.8 78h62.9v1h-62.9zM320.8 166h62.9v1h-62.9zM320.8 200h62.9v1h-62.9zM320.8 263h62.9v1h-62.9zM320.8 267h62.9v1h-62.9zM320.8 325h62.9v2h-62.9zM320.8 336h62.9v1h-62.9zM320.8 358h62.9v1h-62.9zM320.8 361h62.9v1h-62.9zM320.8 363h62.9v1h-62.9zM320.8 405h62.9v1h-62.9zM320.8 482h62.9v1h-62.9zM320.8 489h62.9v1h-62.9zM320.8 512h62.9v1h-62.9zM320.8 515h62.9v2h-62.9zM320.8 568h62.9v2h-62.9zM320.8 573h62.9v2h-62.9zM320.8 599h62.9v1h-62.9zM320.8 619h62.9v1h-62.9zM320.8 630h62.9v1h-62.9zM320.8 632h62.9v1h-62.9zM320.8 638h62.9v1h-62.9zM320.8 643h62.9v1h-62.9zM320.8 666h62.9v1h-62.9zM320.8 681h62.9v1h-62.9zM320.8 714h62.9v1h-62.9zM320.8 772h62.9v1h-62.9zM320.8 783h62.9v1h-62.9zM383.7 179h62.8v1h-62.8zM383.7 181h62.8v1h-62.8zM383.7 195h62.8v1h-62.8zM383.7 198h62.8v1h-62.8zM383.7 208h62.8v1h-62.8zM383.7 210h62.8v1h-62.8zM383.7 212h62.8v1h-62.8zM383.7 223h62.8v1h-62.8zM383.7 226h62.8v1h-62.8zM383.7 231h62.8v2h-62.8zM383.7 237h62.8v1h-62.8zM383.7 239h62.8v1h-62.8zM383.7 357h62.8v2h-62.8zM383.7 366h62.8v1h-62.8zM383.7 368h62.8v1h-62.8zM383.7 441h62.8v2h-62.8zM383.7 444h62.8v1h-62.8zM383.7 476h62.8v1h-62.8zM383.7 494h62.8v1h-62.8zM383.7 503h62.8v1h-62.8zM383.7 510h62.8v2h-62.8zM383.7 528h62.8v1h-62.8zM383.7 534h62.8v1h-62.8zM383.7 568h62.8v1h-62.8zM383.7 572h62.8v1h-62.8zM383.7 581h62.8v1h-62.8zM383.7 590h62.8v1h-62.8zM383.7 615h62.8v1h-62.8zM383.7 622h62.8v1h-62.8zM383.7 626h62.8v2h-62.8zM383.7 632h62.8v1h-62.8zM383.7 639h62.8v1h-62.8zM383.7 647h62.8v2h-62.8zM383.7 671h62.8v1h-62.8zM383.7 674h62.8v1h-62.8zM383.7 688h62.8v1h-62.8zM383.7 698h62.8v1h-62.8zM383.7 701h62.8v1h-62.8zM383.7 731h62.8v1h-62.8zM383.7 736h62.8v1h-62.8zM383.7 740h62.8v1h-62.8zM383.7 745h62.8v1h-62.8zM383.7 749h62.8v1h-62.8zM383.7 762h62.8v1h-62.8zM446.5 68h62.9v1h-62.9zM446.5 70h62.9v1h-62.9zM446.5 82h62.9v1h-62.9zM446.5 88h62.9v1h-62.9zM446.5 167h62.9v1h-62.9zM446.5 213h62.9v1h-62.9zM446.5 221h62.9v1h-62.9zM446.5 227h62.9v2h-62.9zM446.5 290h62.9v1h-62.9zM446.5 304h62.9v2h-62.9zM446.5 482h62.9v1h-62.9zM446.5 509h62.9v1h-62.9zM446.5 546h62.9v1h-62.9zM446.5 572h62.9v1h-62.9zM446.5 589h62.9v1h-62.9zM446.5 596h62.9v1h-62.9zM446.5 610h62.9v1h-62.9zM446.5 633h62.9v1h-62.9zM446.5 654h62.9v1h-62.9zM446.5 663h62.9v1h-62.9zM446.5 671h62.9v1h-62.9zM446.5 675h62.9v1h-62.9zM446.5 692h62.9v1h-62.9zM446.5 717h62.9v1h-62.9zM446.5 740h62.9v1h-62.9zM446.5 742h62.9v1h-62.9zM446.5 746h62.9v1h-62.9zM446.5 785h62.9v1h-62.9zM509.4 90h62.9v1h-62.9zM509.4 122h62.9v2h-62.9zM509.4 147h62.9v1h-62.9zM509.4 157h62.9v1h-62.9zM509.4 218h62.9v1h-62.9zM509.4 284h62.9v1h-62.9zM509.4 344h62.9v1h-62.9zM509.4 429h62.9v1h-62.9z"/><path fill="#f5e1bc" d="M69.4 85h62.9v1h-62.9zM69.4 126h62.9v1h-62.9zM69.4 129h62.9v1h-62.9zM69.4 141h62.9v1h-62.9zM69.4 143h62.9v1h-62.9zM69.4 276h62.9v1h-62.9zM69.4 288h62.9v3h-62.9zM69.4 296h62.9v1h-62.9zM69.4 309h62.9v1h-62.9zM69.4 337h62.9v1h-62.9zM69.4 347h62.9v1h-62.9zM69.4 444h62.9v1h-62.9zM69.4 475h62.9v1h-62.9zM69.4 488h62.9v1h-62.9zM69.4 499h62.9v2h-62.9zM69.4 513h62.9v1h-62.9zM69.4 626h62.9v1h-62.9zM69.4 647h62.9v1h-62.9zM69.4 657h62.9v1h-62.9zM69.4 659h62.9v1h-62.9zM69.4 692h62.9v1h-62.9zM69.4 727h62.9v1h-62.9zM69.4 730h62.9v1h-62.9zM69.4 746h62.9v1h-62.9zM69.4 830h62.9v1h-62.9zM132.3 172h62.8v1h-62.8zM132.3 198h62.8v1h-62.8zM132.3 224h62.8v1h-62.8zM132.3 227h62.8v1h-62.8zM132.3 230h62.8v1h-62.8zM132.3 262h62.8v1h-62.8zM132.3 264h62.8v1h-62.8zM132.3 295h62.8v1h-62.8zM132.3 311h62.8v1h-62.8zM132.3 340h62.8v1h-62.8zM132.3 387h62.8v2h-62.8zM132.3 412h62.8v2h-62.8zM132.3 415h62.8v1h-62.8zM132.3 453h62.8v1h-62.8zM132.3 466h62.8v2h-62.8zM132.3 474h62.8v2h-62.8zM132.3 482h62.8v1h-62.8zM132.3 484h62.8v1h-62.8zM132.3 487h62.8v2h-62.8zM132.3 509h62.8v1h-62.8zM132.3 521h62.8v2h-62.8zM132.3 565h62.8v1h-62.8zM132.3 579h62.8v1h-62.8zM132.3 595h62.8v1h-62.8zM132.3 601h62.8v1h-62.8zM132.3 605h62.8v1h-62.8zM132.3 636h62.8v1h-62.8zM132.3 642h62.8v1h-62.8zM132.3 644h62.8v1h-62.8zM132.3 654h62.8v1h-62.8zM132.3 659h62.8v1h-62.8zM132.3 668h62.8v1h-62.8zM132.3 671h62.8v1h-62.8zM132.3 678h62.8v1h-62.8zM132.3 685h62.8v1h-62.8zM132.3 711h62.8v1h-62.8zM132.3 717h62.8v1h-62.8zM132.3 727h62.8v1h-62.8zM132.3 733h62.8v1h-62.8zM132.3 741h62.8v2h-62.8zM132.3 751h62.8v1h-62.8zM132.3 755h62.8v1h-62.8zM132.3 758h62.8v1h-62.8zM132.3 763h62.8v1h-62.8zM132.3 772h62.8v1h-62.8zM132.3 776h62.8v2h-62.8zM195.1 62h62.9v1h-62.9zM195.1 410h62.9v1h-62.9zM195.1 413h62.9v1h-62.9zM195.1 421h62.9v1h-62.9zM195.1 423h62.9v2h-62.9zM195.1 426h62.9v1h-62.9zM195.1 428h62.9v1h-62.9zM195.1 438h62.9v1h-62.9zM258 81h62.8v1h-62.8zM258 94h62.8v1h-62.8zM258 99h62.8v1h-62.8zM258 127h62.8v1h-62.8zM258 131h62.8v1h-62.8zM258 186h62.8v1h-62.8zM258 201h62.8v1h-62.8zM258 365h62.8v1h-62.8zM258 395h62.8v1h-62.8zM258 569h62.8v1h-62.8zM258 670h62.8v1h-62.8zM258 714h62.8v1h-62.8zM258 728h62.8v1h-62.8zM258 732h62.8v1h-62.8zM258 779h62.8v1h-62.8zM320.8 61.7h62.9v1.3h-62.9zM320.8 67h62.9v1h-62.9zM320.8 228h62.9v1h-62.9zM320.8 236h62.9v1h-62.9zM320.8 261h62.9v1h-62.9zM320.8 271h62.9v1h-62.9zM320.8 274h62.9v2h-62.9zM320.8 282h62.9v1h-62.9zM320.8 292h62.9v2h-62.9zM320.8 312h62.9v1h-62.9zM320.8 322h62.9v1h-62.9zM320.8 324h62.9v1h-62.9zM320.8 329h62.9v1h-62.9zM320.8 373h62.9v2h-62.9zM320.8 389h62.9v2h-62.9zM320.8 393h62.9v1h-62.9zM320.8 404h62.9v1h-62.9zM320.8 463h62.9v1h-62.9zM320.8 473h62.9v2h-62.9zM320.8 478h62.9v1h-62.9zM320.8 481h62.9v1h-62.9zM320.8 506h62.9v1h-62.9zM320.8 518h62.9v1h-62.9zM320.8 547h62.9v1h-62.9zM320.8 553h62.9v1h-62.9zM320.8 555h62.9v1h-62.9zM320.8 590h62.9v1h-62.9zM320.8 611h62.9v1h-62.9zM320.8 641h62.9v2h-62.9zM320.8 659h62.9v1h-62.9zM320.8 664h62.9v1h-62.9zM320.8 676h62.9v1h-62.9zM320.8 694h62.9v1h-62.9zM320.8 715h62.9v1h-62.9zM320.8 744h62.9v1h-62.9zM320.8 750h62.9v1h-62.9zM320.8 760h62.9v1h-62.9zM320.8 769h62.9v1h-62.9zM383.7 121h62.8v1h-62.8zM383.7 130h62.8v1h-62.8zM383.7 159h62.8v1h-62.8zM383.7 166h62.8v1h-62.8zM383.7 203h62.8v1h-62.8zM383.7 220h62.8v2h-62.8zM383.7 230h62.8v1h-62.8zM383.7 234h62.8v1h-62.8zM383.7 314h62.8v1h-62.8zM383.7 318h62.8v1h-62.8zM383.7 333h62.8v1h-62.8zM383.7 364h62.8v1h-62.8zM383.7 370h62.8v1h-62.8zM383.7 377h62.8v1h-62.8zM383.7 382h62.8v1h-62.8zM383.7 417h62.8v1h-62.8zM383.7 487h62.8v1h-62.8zM383.7 509h62.8v1h-62.8zM383.7 514h62.8v1h-62.8zM383.7 538h62.8v1h-62.8zM383.7 557h62.8v1h-62.8zM383.7 598h62.8v1h-62.8zM383.7 613h62.8v1h-62.8zM383.7 631h62.8v1h-62.8zM383.7 646h62.8v1h-62.8zM383.7 653h62.8v1h-62.8zM383.7 678h62.8v1h-62.8zM383.7 693h62.8v2h-62.8zM383.7 717h62.8v1h-62.8zM383.7 722h62.8v1h-62.8zM383.7 735h62.8v1h-62.8zM383.7 738h62.8v1h-62.8zM383.7 751h62.8v1h-62.8zM383.7 760h62.8v1h-62.8zM383.7 763h62.8v1h-62.8zM383.7 767h62.8v1h-62.8zM383.7 775h62.8v1h-62.8zM383.7 780h62.8v1h-62.8zM383.7 783h62.8v2h-62.8zM383.7 787h62.8v1h-62.8zM446.5 61.7h62.9v0.3h-62.9zM446.5 72h62.9v1h-62.9zM446.5 76h62.9v1h-62.9zM446.5 78h62.9v1h-62.9zM446.5 84h62.9v1h-62.9zM446.5 89h62.9v1h-62.9zM446.5 112h62.9v1h-62.9zM446.5 116h62.9v1h-62.9zM446.5 125h62.9v1h-62.9zM446.5 127h62.9v1h-62.9zM446.5 140h62.9v1h-62.9zM446.5 157h62.9v1h-62.9zM446.5 159h62.9v1h-62.9zM446.5 200h62.9v1h-62.9zM446.5 202h62.9v1h-62.9zM446.5 210h62.9v1h-62.9zM446.5 215h62.9v2h-62.9zM446.5 218h62.9v1h-62.9zM446.5 241h62.9v2h-62.9zM446.5 262h62.9v1h-62.9zM446.5 282h62.9v1h-62.9zM446.5 286h62.9v1h-62.9zM446.5 299h62.9v1h-62.9zM446.5 308h62.9v1h-62.9zM446.5 315h62.9v1h-62.9zM446.5 363h62.9v2h-62.9zM446.5 383h62.9v1h-62.9zM446.5 385h62.9v1h-62.9zM446.5 476h62.9v1h-62.9zM446.5 481h62.9v1h-62.9zM446.5 488h62.9v1h-62.9zM446.5 528h62.9v3h-62.9zM446.5 547h62.9v1h-62.9zM446.5 571h62.9v1h-62.9zM446.5 579h62.9v1h-62.9zM446.5 593h62.9v1h-62.9zM446.5 657h62.9v1h-62.9zM446.5 670h62.9v1h-62.9zM446.5 686h62.9v1h-62.9zM446.5 691h62.9v1h-62.9zM446.5 706h62.9v1h-62.9zM446.5 722h62.9v1h-62.9zM446.5 780h62.9v1h-62.9zM446.5 809h62.9v1h-62.9zM509.4 99h62.9v1h-62.9zM509.4 106h62.9v1h-62.9zM509.4 128h62.9v1h-62.9zM509.4 230h62.9v2h-62.9zM509.4 292h62.9v1h-62.9zM509.4 294h62.9v1h-62.9zM509.4 298h62.9v1h-62.9zM509.4 342h62.9v1h-62.9zM509.4 401h62.9v1h-62.9zM509.4 540h62.9v1h-62.9zM509.4 599h62.9v1h-62.9zM509.4 632h62.9v1h-62.9zM509.4 645h62.9v1h-62.9zM509.4 699h62.9v1h-62.9z"/><path fill="#f3d6b0" d="M69.4 89h62.9v1h-62.9zM69.4 145h62.9v1h-62.9zM69.4 151h62.9v1h-62.9zM69.4 293h62.9v1h-62.9zM69.4 343h62.9v1h-62.9zM69.4 454h62.9v1h-62.9zM69.4 456h62.9v1h-62.9zM69.4 621h62.9v1h-62.9zM69.4 829h62.9v1h-62.9zM132.3 163h62.8v2h-62.8zM132.3 171h62.8v1h-62.8zM132.3 183h62.8v2h-62.8zM132.3 186h62.8v1h-62.8zM132.3 188h62.8v1h-62.8zM132.3 195h62.8v2h-62.8zM132.3 206h62.8v2h-62.8zM132.3 209h62.8v1h-62.8zM132.3 214h62.8v1h-62.8zM132.3 221h62.8v1h-62.8zM132.3 234h62.8v1h-62.8zM132.3 239h62.8v2h-62.8zM132.3 361h62.8v1h-62.8zM132.3 386h62.8v1h-62.8zM132.3 403h62.8v2h-62.8zM132.3 500h62.8v1h-62.8zM132.3 508h62.8v1h-62.8zM132.3 511h62.8v1h-62.8zM132.3 535h62.8v1h-62.8zM132.3 570h62.8v1h-62.8zM132.3 576h62.8v1h-62.8zM132.3 615h62.8v1h-62.8zM132.3 663h62.8v1h-62.8zM132.3 666h62.8v1h-62.8zM132.3 672h62.8v1h-62.8zM132.3 677h62.8v1h-62.8zM132.3 682h62.8v2h-62.8zM132.3 695h62.8v1h-62.8zM132.3 764h62.8v3h-62.8zM132.3 769h62.8v1h-62.8zM132.3 773h62.8v1h-62.8zM258 83h62.8v1h-62.8zM258 233h62.8v1h-62.8zM258 325h62.8v2h-62.8zM258 392h62.8v1h-62.8zM320.8 65h62.9v1h-62.9zM320.8 77h62.9v1h-62.9zM320.8 121h62.9v1h-62.9zM320.8 338h62.9v1h-62.9zM320.8 359h62.9v2h-62.9zM320.8 362h62.9v1h-62.9zM320.8 400h62.9v1h-62.9zM320.8 480h62.9v1h-62.9zM320.8 485h62.9v1h-62.9zM320.8 493h62.9v1h-62.9zM320.8 511h62.9v1h-62.9zM320.8 523h62.9v1h-62.9zM320.8 544h62.9v1h-62.9zM320.8 554h62.9v1h-62.9zM320.8 556h62.9v1h-62.9zM320.8 560h62.9v1h-62.9zM320.8 562h62.9v1h-62.9zM320.8 575h62.9v1h-62.9zM320.8 578h62.9v1h-62.9zM320.8 582h62.9v1h-62.9zM320.8 612h62.9v1h-62.9zM320.8 618h62.9v1h-62.9zM320.8 637h62.9v1h-62.9zM320.8 651h62.9v1h-62.9zM320.8 661h62.9v1h-62.9zM320.8 668h62.9v1h-62.9zM320.8 691h62.9v2h-62.9zM320.8 716h62.9v1h-62.9zM320.8 719h62.9v1h-62.9zM320.8 722h62.9v1h-62.9zM320.8 724h62.9v1h-62.9zM320.8 734h62.9v1h-62.9zM320.8 751h62.9v2h-62.9zM320.8 765h62.9v1h-62.9zM320.8 774h62.9v1h-62.9zM383.7 169h62.8v1h-62.8zM383.7 172h62.8v1h-62.8zM383.7 193h62.8v1h-62.8zM383.7 201h62.8v1h-62.8zM383.7 204h62.8v1h-62.8zM383.7 217h62.8v1h-62.8zM383.7 324h62.8v1h-62.8zM383.7 356h62.8v1h-62.8zM383.7 393h62.8v1h-62.8zM383.7 502h62.8v1h-62.8zM383.7 506h62.8v1h-62.8zM383.7 523h62.8v1h-62.8zM383.7 531h62.8v1h-62.8zM383.7 550h62.8v1h-62.8zM383.7 565h62.8v1h-62.8zM383.7 595h62.8v1h-62.8zM383.7 614h62.8v1h-62.8zM383.7 620h62.8v1h-62.8zM383.7 649h62.8v1h-62.8zM383.7 663h62.8v1h-62.8zM383.7 728h62.8v1h-62.8zM383.7 747h62.8v1h-62.8zM383.7 761h62.8v1h-62.8zM383.7 773h62.8v1h-62.8zM446.5 69h62.9v1h-62.9zM446.5 75h62.9v1h-62.9zM446.5 90h62.9v1h-62.9zM446.5 98h62.9v1h-62.9zM446.5 132h62.9v1h-62.9zM446.5 141h62.9v1h-62.9zM446.5 158h62.9v1h-62.9zM446.5 179h62.9v1h-62.9zM446.5 198h62.9v1h-62.9zM446.5 291h62.9v1h-62.9zM446.5 298h62.9v1h-62.9zM446.5 306h62.9v1h-62.9zM446.5 483h62.9v1h-62.9zM446.5 507h62.9v1h-62.9zM446.5 611h62.9v1h-62.9zM446.5 664h62.9v1h-62.9zM446.5 672h62.9v1h-62.9zM446.5 678h62.9v2h-62.9zM446.5 709h62.9v1h-62.9zM509.4 309h62.9v1h-62.9zM509.4 732h62.9v1h-62.9z"/><path fill="#f4dbb6" d="M69.4 90h62.9v2h-62.9zM69.4 124h62.9v2h-62.9zM69.4 139h62.9v1h-62.9zM69.4 148h62.9v1h-62.9zM69.4 153h62.9v1h-62.9zM69.4 157h62.9v1h-62.9zM69.4 159h62.9v1h-62.9zM69.4 165h62.9v1h-62.9zM69.4 229h62.9v1h-62.9zM69.4 263h62.9v1h-62.9zM69.4 278h62.9v1h-62.9zM69.4 311h62.9v2h-62.9zM69.4 445h62.9v1h-62.9zM69.4 506h62.9v1h-62.9zM69.4 558h62.9v1h-62.9zM69.4 609h62.9v1h-62.9zM69.4 631h62.9v1h-62.9zM69.4 638h62.9v2h-62.9zM69.4 667h62.9v1h-62.9zM69.4 682h62.9v1h-62.9zM69.4 808h62.9v1h-62.9zM69.4 811h62.9v1h-62.9zM69.4 831h62.9v1h-62.9zM132.3 165h62.8v1h-62.8zM132.3 187h62.8v1h-62.8zM132.3 204h62.8v1h-62.8zM132.3 212h62.8v2h-62.8zM132.3 226h62.8v1h-62.8zM132.3 238h62.8v1h-62.8zM132.3 299h62.8v1h-62.8zM132.3 365h62.8v1h-62.8zM132.3 383h62.8v1h-62.8zM132.3 436h62.8v1h-62.8zM132.3 478h62.8v1h-62.8zM132.3 486h62.8v1h-62.8zM132.3 501h62.8v1h-62.8zM132.3 534h62.8v1h-62.8zM132.3 557h62.8v1h-62.8zM132.3 587h62.8v1h-62.8zM132.3 593h62.8v2h-62.8zM132.3 600h62.8v1h-62.8zM132.3 603h62.8v1h-62.8zM132.3 610h62.8v1h-62.8zM132.3 612h62.8v1h-62.8zM132.3 623h62.8v1h-62.8zM132.3 627h62.8v1h-62.8zM132.3 629h62.8v1h-62.8zM132.3 641h62.8v1h-62.8zM132.3 667h62.8v1h-62.8zM132.3 669h62.8v1h-62.8zM132.3 675h62.8v1h-62.8zM132.3 692h62.8v1h-62.8zM132.3 699h62.8v1h-62.8zM132.3 710h62.8v1h-62.8zM132.3 714h62.8v1h-62.8zM132.3 721h62.8v2h-62.8zM132.3 729h62.8v1h-62.8zM132.3 732h62.8v1h-62.8zM132.3 745h62.8v1h-62.8zM132.3 759h62.8v3h-62.8zM132.3 771h62.8v1h-62.8zM132.3 778h62.8v3h-62.8zM195.1 185h62.9v1h-62.9zM195.1 409h62.9v1h-62.9zM195.1 418h62.9v1h-62.9zM258 107h62.8v1h-62.8zM258 122h62.8v1h-62.8zM258 437h62.8v1h-62.8zM258 508h62.8v1h-62.8zM258 554h62.8v1h-62.8zM258 617h62.8v1h-62.8zM320.8 90h62.9v2h-62.9zM320.8 264h62.9v1h-62.9zM320.8 314h62.9v1h-62.9zM320.8 334h62.9v1h-62.9zM320.8 339h62.9v1h-62.9zM320.8 366h62.9v1h-62.9zM320.8 375h62.9v1h-62.9zM320.8 459h62.9v1h-62.9zM320.8 510h62.9v1h-62.9zM320.8 525h62.9v1h-62.9zM320.8 545h62.9v2h-62.9zM320.8 551h62.9v2h-62.9zM320.8 585h62.9v2h-62.9zM320.8 629h62.9v1h-62.9zM320.8 631h62.9v1h-62.9zM320.8 634h62.9v1h-62.9zM320.8 636h62.9v1h-62.9zM320.8 650h62.9v1h-62.9zM320.8 665h62.9v1h-62.9zM320.8 675h62.9v1h-62.9zM320.8 682h62.9v1h-62.9zM320.8 690h62.9v1h-62.9zM320.8 693h62.9v1h-62.9zM320.8 705h62.9v1h-62.9zM320.8 745h62.9v1h-62.9zM320.8 747h62.9v1h-62.9zM320.8 759h62.9v1h-62.9zM320.8 761h62.9v2h-62.9zM320.8 776h62.9v1h-62.9zM383.7 165h62.8v1h-62.8zM383.7 168h62.8v1h-62.8zM383.7 170h62.8v2h-62.8zM383.7 177h62.8v1h-62.8zM383.7 185h62.8v1h-62.8zM383.7 191h62.8v2h-62.8zM383.7 194h62.8v1h-62.8zM383.7 196h62.8v1h-62.8zM383.7 199h62.8v1h-62.8zM383.7 216h62.8v1h-62.8zM383.7 218h62.8v2h-62.8zM383.7 241h62.8v1h-62.8zM383.7 258h62.8v1h-62.8zM383.7 353h62.8v2h-62.8zM383.7 363h62.8v1h-62.8zM383.7 381h62.8v1h-62.8zM383.7 386h62.8v1h-62.8zM383.7 390h62.8v1h-62.8zM383.7 394h62.8v1h-62.8zM383.7 397h62.8v1h-62.8zM383.7 443h62.8v1h-62.8zM383.7 455h62.8v1h-62.8zM383.7 477h62.8v1h-62.8zM383.7 486h62.8v1h-62.8zM383.7 493h62.8v1h-62.8zM383.7 496h62.8v1h-62.8zM383.7 525h62.8v1h-62.8zM383.7 532h62.8v1h-62.8zM383.7 558h62.8v1h-62.8zM383.7 573h62.8v1h-62.8zM383.7 577h62.8v1h-62.8zM383.7 580h62.8v1h-62.8zM383.7 592h62.8v2h-62.8zM383.7 606h62.8v1h-62.8zM383.7 636h62.8v1h-62.8zM383.7 640h62.8v1h-62.8zM383.7 643h62.8v1h-62.8zM383.7 659h62.8v1h-62.8zM383.7 664h62.8v1h-62.8zM383.7 681h62.8v1h-62.8zM383.7 684h62.8v1h-62.8zM383.7 686h62.8v1h-62.8zM383.7 690h62.8v1h-62.8zM383.7 696h62.8v1h-62.8zM383.7 702h62.8v1h-62.8zM383.7 715h62.8v1h-62.8zM383.7 750h62.8v1h-62.8zM383.7 764h62.8v1h-62.8zM383.7 768h62.8v1h-62.8zM383.7 778h62.8v1h-62.8zM383.7 782h62.8v1h-62.8zM383.7 785h62.8v1h-62.8zM446.5 64h62.9v1h-62.9zM446.5 73h62.9v2h-62.9zM446.5 83h62.9v1h-62.9zM446.5 85h62.9v1h-62.9zM446.5 97h62.9v1h-62.9zM446.5 102h62.9v1h-62.9zM446.5 107h62.9v1h-62.9zM446.5 131h62.9v1h-62.9zM446.5 138h62.9v1h-62.9zM446.5 168h62.9v1h-62.9zM446.5 170h62.9v1h-62.9zM446.5 187h62.9v1h-62.9zM446.5 201h62.9v1h-62.9zM446.5 206h62.9v1h-62.9zM446.5 211h62.9v2h-62.9zM446.5 240h62.9v1h-62.9zM446.5 249h62.9v1h-62.9zM446.5 277h62.9v1h-62.9zM446.5 279h62.9v2h-62.9zM446.5 297h62.9v1h-62.9zM446.5 307h62.9v1h-62.9zM446.5 310h62.9v1h-62.9zM446.5 484h62.9v2h-62.9zM446.5 499h62.9v1h-62.9zM446.5 508h62.9v1h-62.9zM446.5 544h62.9v1h-62.9zM446.5 575h62.9v1h-62.9zM446.5 592h62.9v1h-62.9zM446.5 594h62.9v1h-62.9zM446.5 620h62.9v1h-62.9zM446.5 634h62.9v1h-62.9zM446.5 639h62.9v1h-62.9zM446.5 707h62.9v1h-62.9zM446.5 710h62.9v1h-62.9zM446.5 728h62.9v1h-62.9zM446.5 730h62.9v3h-62.9zM446.5 739h62.9v1h-62.9zM446.5 747h62.9v1h-62.9zM446.5 757h62.9v1h-62.9zM446.5 768h62.9v1h-62.9zM509.4 110h62.9v1h-62.9zM509.4 124h62.9v1h-62.9zM509.4 140h62.9v1h-62.9zM509.4 183h62.9v1h-62.9zM509.4 278h62.9v1h-62.9zM509.4 281h62.9v1h-62.9zM509.4 293h62.9v1h-62.9zM509.4 297h62.9v1h-62.9zM509.4 702h62.9v1h-62.9zM509.4 708h62.9v1h-62.9z"/><path fill="#f6efcd" d="M69.4 93h62.9v2h-62.9zM69.4 101h62.9v1h-62.9zM69.4 110h62.9v2h-62.9zM69.4 250h62.9v1h-62.9zM69.4 255h62.9v1h-62.9zM69.4 257h62.9v1h-62.9zM69.4 261h62.9v1h-62.9zM69.4 272h62.9v1h-62.9zM69.4 325h62.9v1h-62.9zM69.4 377h62.9v1h-62.9zM69.4 381h62.9v2h-62.9zM69.4 441h62.9v1h-62.9zM69.4 452h62.9v1h-62.9zM69.4 495h62.9v1h-62.9zM69.4 497h62.9v1h-62.9zM69.4 517h62.9v1h-62.9zM69.4 557h62.9v1h-62.9zM69.4 575h62.9v2h-62.9zM69.4 599h62.9v1h-62.9zM69.4 604h62.9v1h-62.9zM69.4 698h62.9v1h-62.9zM69.4 790h62.9v1h-62.9zM69.4 804h62.9v1h-62.9zM69.4 814h62.9v1h-62.9zM69.4 828h62.9v1h-62.9zM132.3 80h62.8v1h-62.8zM132.3 87h62.8v1h-62.8zM132.3 89h62.8v1h-62.8zM132.3 97h62.8v1h-62.8zM132.3 106h62.8v1h-62.8zM132.3 110h62.8v1h-62.8zM132.3 116h62.8v1h-62.8zM132.3 119h62.8v1h-62.8zM132.3 123h62.8v4h-62.8zM132.3 128h62.8v2h-62.8zM132.3 153h62.8v1h-62.8zM132.3 156h62.8v2h-62.8zM132.3 241h62.8v1h-62.8zM132.3 250h62.8v2h-62.8zM132.3 254h62.8v1h-62.8zM132.3 272h62.8v1h-62.8zM132.3 284h62.8v1h-62.8zM132.3 291h62.8v1h-62.8zM132.3 314h62.8v1h-62.8zM132.3 322h62.8v1h-62.8zM132.3 326h62.8v1h-62.8zM132.3 328h62.8v1h-62.8zM132.3 333h62.8v1h-62.8zM132.3 336h62.8v2h-62.8zM132.3 420h62.8v1h-62.8zM132.3 427h62.8v1h-62.8zM132.3 441h62.8v1h-62.8zM132.3 470h62.8v1h-62.8zM132.3 496h62.8v1h-62.8zM132.3 498h62.8v1h-62.8zM132.3 538h62.8v1h-62.8zM132.3 552h62.8v1h-62.8zM132.3 702h62.8v1h-62.8zM132.3 788h62.8v1h-62.8zM132.3 790h62.8v1h-62.8zM132.3 804h62.8v1h-62.8zM132.3 813h62.8v1h-62.8zM132.3 816h62.8v1h-62.8zM132.3 825h62.8v1h-62.8zM132.3 830h62.8v1h-62.8zM132.3 833h62.8v1h-62.8zM195.1 67h62.9v4h-62.9zM195.1 86h62.9v1h-62.9zM195.1 91h62.9v1h-62.9zM195.1 94h62.9v3h-62.9zM195.1 102h62.9v3h-62.9zM195.1 109h62.9v1h-62.9zM195.1 117h62.9v4h-62.9zM195.1 126h62.9v1h-62.9zM195.1 135h62.9v2h-62.9zM195.1 148h62.9v1h-62.9zM195.1 150h62.9v1h-62.9zM195.1 155h62.9v1h-62.9zM195.1 162h62.9v4h-62.9zM195.1 169h62.9v1h-62.9zM195.1 177h62.9v1h-62.9zM195.1 179h62.9v1h-62.9zM195.1 181h62.9v1h-62.9zM195.1 193h62.9v1h-62.9zM195.1 197h62.9v2h-62.9zM195.1 207h62.9v1h-62.9zM195.1 213h62.9v2h-62.9zM195.1 216h62.9v2h-62.9zM195.1 223h62.9v1h-62.9zM195.1 227h62.9v1h-62.9zM195.1 230h62.9v2h-62.9zM195.1 259h62.9v3h-62.9zM195.1 263h62.9v1h-62.9zM195.1 269h62.9v4h-62.9zM195.1 280h62.9v1h-62.9zM195.1 283h62.9v1h-62.9zM195.1 285h62.9v1h-62.9zM195.1 290h62.9v1h-62.9zM195.1 294h62.9v1h-62.9zM195.1 298h62.9v2h-62.9zM195.1 303h62.9v1h-62.9zM195.1 307h62.9v3h-62.9zM195.1 318h62.9v1h-62.9zM195.1 324h62.9v1h-62.9zM195.1 331h62.9v1h-62.9zM195.1 334h62.9v2h-62.9zM195.1 338h62.9v2h-62.9zM195.1 355h62.9v1h-62.9zM195.1 358h62.9v1h-62.9zM195.1 363h62.9v2h-62.9zM195.1 369h62.9v1h-62.9zM195.1 381h62.9v1h-62.9zM195.1 384h62.9v1h-62.9zM195.1 388h62.9v2h-62.9zM195.1 392h62.9v1h-62.9zM195.1 444h62.9v1h-62.9zM195.1 450h62.9v1h-62.9zM195.1 485h62.9v1h-62.9zM195.1 490h62.9v1h-62.9zM195.1 492h62.9v2h-62.9zM195.1 496h62.9v2h-62.9zM195.1 499h62.9v1h-62.9zM195.1 502h62.9v1h-62.9zM195.1 504h62.9v2h-62.9zM195.1 514h62.9v1h-62.9zM195.1 538h62.9v1h-62.9zM195.1 547h62.9v1h-62.9zM195.1 554h62.9v2h-62.9zM195.1 557h62.9v1h-62.9zM195.1 561h62.9v2h-62.9zM195.1 564h62.9v1h-62.9zM195.1 566h62.9v1h-62.9zM195.1 569h62.9v1h-62.9zM195.1 577h62.9v1h-62.9zM195.1 579h62.9v2h-62.9zM195.1 587h62.9v2h-62.9zM195.1 597h62.9v1h-62.9zM195.1 601h62.9v1h-62.9zM195.1 608h62.9v1h-62.9zM195.1 614h62.9v1h-62.9zM195.1 617h62.9v2h-62.9zM195.1 623h62.9v1h-62.9zM195.1 629h62.9v1h-62.9zM195.1 633h62.9v1h-62.9zM195.1 635h62.9v1h-62.9zM195.1 637h62.9v1h-62.9zM195.1 641h62.9v3h-62.9zM195.1 648h62.9v1h-62.9zM195.1 654h62.9v1h-62.9zM195.1 657h62.9v2h-62.9zM195.1 660h62.9v1h-62.9zM195.1 662h62.9v1h-62.9zM195.1 665h62.9v1h-62.9zM195.1 668h62.9v1h-62.9zM195.1 674h62.9v1h-62.9zM195.1 677h62.9v1h-62.9zM195.1 686h62.9v1h-62.9zM195.1 690h62.9v2h-62.9zM195.1 695h62.9v2h-62.9zM195.1 701h62.9v2h-62.9zM195.1 706h62.9v1h-62.9zM195.1 710h62.9v1h-62.9zM195.1 714h62.9v1h-62.9zM195.1 716h62.9v3h-62.9zM195.1 743h62.9v1h-62.9zM195.1 749h62.9v2h-62.9zM195.1 752h62.9v1h-62.9zM195.1 761h62.9v1h-62.9zM195.1 765h62.9v2h-62.9zM195.1 770h62.9v1h-62.9zM195.1 776h62.9v2h-62.9zM195.1 781h62.9v4h-62.9zM195.1 805h62.9v1h-62.9zM195.1 812h62.9v1h-62.9zM195.1 814h62.9v2h-62.9zM195.1 830h62.9v1h-62.9zM258 266h62.8v1h-62.8zM258 384h62.8v1h-62.8zM258 391h62.8v1h-62.8zM258 454h62.8v1h-62.8zM258 456h62.8v1h-62.8zM258 485h62.8v1h-62.8zM258 539h62.8v1h-62.8zM258 566h62.8v1h-62.8zM258 660h62.8v1h-62.8zM258 678h62.8v1h-62.8zM258 690h62.8v1h-62.8zM258 756h62.8v1h-62.8zM258 786h62.8v1h-62.8zM320.8 167h62.9v1h-62.9zM320.8 173h62.9v1h-62.9zM320.8 189h62.9v1h-62.9zM320.8 220h62.9v1h-62.9zM320.8 243h62.9v3h-62.9zM320.8 248h62.9v1h-62.9zM320.8 269h62.9v1h-62.9zM320.8 281h62.9v1h-62.9zM320.8 310h62.9v1h-62.9zM320.8 342h62.9v1h-62.9zM320.8 380h62.9v1h-62.9zM320.8 387h62.9v1h-62.9zM320.8 429h62.9v1h-62.9zM320.8 457h62.9v1h-62.9zM320.8 798h62.9v1h-62.9zM320.8 800h62.9v1h-62.9zM320.8 811h62.9v1h-62.9zM320.8 832h62.9v1h-62.9zM320.8 835h62.9v1h-62.9zM320.8 838h62.9v1.3h-62.9zM383.7 69h62.8v1h-62.8zM383.7 71h62.8v1h-62.8zM383.7 104h62.8v2h-62.8zM383.7 108h62.8v1h-62.8zM383.7 122h62.8v1h-62.8zM383.7 125h62.8v1h-62.8zM383.7 128h62.8v1h-62.8zM383.7 145h62.8v1h-62.8zM383.7 147h62.8v1h-62.8zM383.7 150h62.8v2h-62.8zM383.7 153h62.8v1h-62.8zM383.7 243h62.8v1h-62.8zM383.7 251h62.8v1h-62.8zM383.7 297h62.8v1h-62.8zM383.7 384h62.8v1h-62.8zM383.7 389h62.8v1h-62.8zM383.7 462h62.8v1h-62.8zM383.7 600h62.8v1h-62.8zM383.7 607h62.8v1h-62.8zM383.7 624h62.8v1h-62.8zM383.7 651h62.8v1h-62.8zM383.7 658h62.8v1h-62.8zM383.7 667h62.8v1h-62.8zM383.7 675h62.8v1h-62.8zM383.7 725h62.8v1h-62.8zM383.7 753h62.8v1h-62.8zM383.7 800h62.8v1h-62.8zM383.7 810h62.8v1h-62.8zM383.7 814h62.8v1h-62.8zM383.7 823h62.8v1h-62.8zM383.7 827h62.8v2h-62.8zM383.7 831h62.8v1h-62.8zM383.7 835h62.8v1h-62.8zM446.5 66h62.9v1h-62.9zM446.5 93h62.9v1h-62.9zM446.5 117h62.9v1h-62.9zM446.5 121h62.9v1h-62.9zM446.5 151h62.9v1h-62.9zM446.5 207h62.9v2h-62.9zM446.5 225h62.9v1h-62.9zM446.5 265h62.9v1h-62.9zM446.5 270h62.9v1h-62.9zM446.5 272h62.9v1h-62.9zM446.5 321h62.9v1h-62.9zM446.5 346h62.9v1h-62.9zM446.5 370h62.9v1h-62.9zM446.5 389h62.9v1h-62.9zM446.5 395h62.9v2h-62.9zM446.5 422h62.9v1h-62.9zM446.5 436h62.9v2h-62.9zM446.5 448h62.9v1h-62.9zM446.5 458h62.9v1h-62.9zM446.5 462h62.9v1h-62.9zM446.5 477h62.9v1h-62.9zM446.5 491h62.9v1h-62.9zM446.5 537h62.9v1h-62.9zM446.5 539h62.9v1h-62.9zM446.5 560h62.9v1h-62.9zM446.5 564h62.9v1h-62.9zM446.5 582h62.9v1h-62.9zM446.5 602h62.9v1h-62.9zM446.5 613h62.9v1h-62.9zM446.5 621h62.9v1h-62.9zM446.5 628h62.9v2h-62.9zM446.5 638h62.9v1h-62.9zM446.5 643h62.9v1h-62.9zM446.5 646h62.9v1h-62.9zM446.5 660h62.9v2h-62.9zM446.5 667h62.9v1h-62.9zM446.5 683h62.9v1h-62.9zM446.5 764h62.9v1h-62.9zM446.5 807h62.9v1h-62.9zM446.5 817h62.9v1h-62.9zM446.5 819h62.9v1h-62.9zM446.5 822h62.9v2h-62.9zM446.5 837h62.9v2.3h-62.9zM509.4 81h62.9v1h-62.9zM509.4 93h62.9v1h-62.9zM509.4 105h62.9v1h-62.9zM509.4 134h62.9v1h-62.9zM509.4 252h62.9v1h-62.9zM509.4 256h62.9v1h-62.9zM509.4 258h62.9v1h-62.9zM509.4 276h62.9v1h-62.9zM509.4 295h62.9v1h-62.9zM509.4 334h62.9v1h-62.9zM509.4 383h62.9v1h-62.9zM509.4 399h62.9v1h-62.9zM509.4 405h62.9v1h-62.9zM509.4 410h62.9v3h-62.9zM509.4 430h62.9v1h-62.9zM509.4 483h62.9v1h-62.9zM509.4 505h62.9v2h-62.9zM509.4 524h62.9v1h-62.9zM509.4 541h62.9v1h-62.9zM509.4 573h62.9v1h-62.9zM509.4 634h62.9v1h-62.9zM509.4 643h62.9v1h-62.9zM509.4 662h62.9v1h-62.9zM509.4 664h62.9v1h-62.9zM509.4 679h62.9v1h-62.9zM509.4 721h62.9v1h-62.9zM509.4 738h62.9v1h-62.9zM509.4 799h62.9v1h-62.9zM509.4 811h62.9v1h-62.9zM509.4 834h62.9v1h-62.9z"/><path fill="#eeecd5" d="M69.4 95h62.9v1h-62.9zM69.4 196h62.9v1h-62.9zM69.4 247h62.9v1h-62.9zM69.4 249h62.9v1h-62.9zM69.4 318h62.9v1h-62.9zM69.4 335h62.9v1h-62.9zM69.4 363h62.9v1h-62.9zM69.4 383h62.9v1h-62.9zM69.4 386h62.9v1h-62.9zM69.4 401h62.9v1h-62.9zM69.4 403h62.9v1h-62.9zM69.4 407h62.9v1h-62.9zM69.4 459h62.9v1h-62.9zM69.4 461h62.9v2h-62.9zM69.4 489h62.9v1h-62.9zM69.4 571h62.9v1h-62.9zM69.4 706h62.9v1h-62.9zM69.4 835h62.9v1h-62.9zM132.3 136h62.8v1h-62.8zM132.3 257h62.8v1h-62.8zM132.3 268h62.8v2h-62.8zM132.3 288h62.8v1h-62.8zM132.3 290h62.8v1h-62.8zM132.3 421h62.8v1h-62.8zM132.3 424h62.8v1h-62.8zM132.3 428h62.8v1h-62.8zM132.3 479h62.8v1h-62.8zM132.3 561h62.8v1h-62.8zM132.3 797h62.8v1h-62.8zM132.3 809h62.8v1h-62.8zM132.3 820h62.8v2h-62.8zM132.3 828h62.8v1h-62.8zM195.1 74h62.9v1h-62.9zM195.1 82h62.9v1h-62.9zM195.1 128h62.9v1h-62.9zM195.1 132h62.9v1h-62.9zM195.1 241h62.9v6h-62.9zM195.1 249h62.9v1h-62.9zM195.1 359h62.9v2h-62.9zM195.1 373h62.9v1h-62.9zM195.1 398h62.9v2h-62.9zM195.1 401h62.9v3h-62.9zM195.1 406h62.9v1h-62.9zM195.1 408h62.9v1h-62.9zM195.1 465h62.9v6h-62.9zM195.1 473h62.9v2h-62.9zM195.1 595h62.9v1h-62.9zM258 271h62.8v1h-62.8zM258 287h62.8v1h-62.8zM258 302h62.8v1h-62.8zM258 304h62.8v1h-62.8zM258 351h62.8v1h-62.8zM258 368h62.8v1h-62.8zM258 448h62.8v1h-62.8zM258 451h62.8v1h-62.8zM258 484h62.8v1h-62.8zM258 486h62.8v1h-62.8zM258 719h62.8v1h-62.8zM320.8 198h62.9v1h-62.9zM320.8 212h62.9v1h-62.9zM320.8 234h62.9v1h-62.9zM320.8 299h62.9v1h-62.9zM320.8 346h62.9v1h-62.9zM320.8 415h62.9v1h-62.9zM320.8 794h62.9v1h-62.9zM320.8 803h62.9v1h-62.9zM320.8 806h62.9v1h-62.9zM320.8 810h62.9v1h-62.9zM320.8 815h62.9v1h-62.9zM320.8 825h62.9v1h-62.9zM320.8 828h62.9v1h-62.9zM383.7 70h62.8v1h-62.8zM383.7 72h62.8v1h-62.8zM383.7 77h62.8v1h-62.8zM383.7 95h62.8v1h-62.8zM383.7 118h62.8v1h-62.8zM383.7 274h62.8v1h-62.8zM383.7 279h62.8v2h-62.8zM383.7 282h62.8v2h-62.8zM383.7 298h62.8v1h-62.8zM383.7 309h62.8v1h-62.8zM383.7 398h62.8v1h-62.8zM383.7 407h62.8v2h-62.8zM383.7 412h62.8v1h-62.8zM383.7 423h62.8v1h-62.8zM383.7 425h62.8v1h-62.8zM383.7 459h62.8v1h-62.8zM383.7 585h62.8v1h-62.8zM383.7 652h62.8v1h-62.8zM383.7 791h62.8v2h-62.8zM383.7 803h62.8v1h-62.8zM383.7 813h62.8v1h-62.8zM446.5 356h62.9v1h-62.9zM446.5 430h62.9v1h-62.9zM446.5 451h62.9v1h-62.9zM446.5 493h62.9v1h-62.9zM446.5 774h62.9v1h-62.9zM446.5 820h62.9v1h-62.9zM446.5 833h62.9v1h-62.9zM509.4 78h62.9v1h-62.9zM509.4 82h62.9v1h-62.9zM509.4 257h62.9v1h-62.9zM509.4 263h62.9v1h-62.9zM509.4 323h62.9v1h-62.9zM509.4 374h62.9v1h-62.9zM509.4 386h62.9v1h-62.9zM509.4 390h62.9v1h-62.9zM509.4 406h62.9v2h-62.9zM509.4 414h62.9v1h-62.9zM509.4 416h62.9v1h-62.9zM509.4 421h62.9v1h-62.9zM509.4 435h62.9v1h-62.9zM509.4 466h62.9v2h-62.9zM509.4 471h62.9v1h-62.9zM509.4 560h62.9v1h-62.9zM509.4 563h62.9v1h-62.9zM509.4 756h62.9v1h-62.9zM509.4 764h62.9v1h-62.9zM509.4 798h62.9v1h-62.9zM509.4 810h62.9v1h-62.9zM509.4 812h62.9v1h-62.9zM509.4 831h62.9v1h-62.9zM509.4 838h62.9v1.3h-62.9z"/><path fill="#ebe9d6" d="M69.4 97h62.9v1h-62.9zM69.4 193h62.9v1h-62.9zM69.4 258h62.9v1h-62.9zM69.4 270h62.9v1h-62.9zM69.4 385h62.9v1h-62.9zM69.4 387h62.9v1h-62.9zM69.4 398h62.9v1h-62.9zM69.4 400h62.9v1h-62.9zM69.4 405h62.9v1h-62.9zM69.4 466h62.9v1h-62.9zM69.4 565h62.9v1h-62.9zM69.4 586h62.9v1h-62.9zM69.4 592h62.9v1h-62.9zM69.4 594h62.9v1h-62.9zM69.4 634h62.9v1h-62.9zM69.4 792h62.9v2h-62.9zM69.4 796h62.9v1h-62.9zM69.4 834h62.9v1h-62.9zM69.4 837h62.9v1h-62.9zM132.3 86h62.8v1h-62.8zM132.3 96h62.8v1h-62.8zM132.3 391h62.8v1h-62.8zM132.3 432h62.8v1h-62.8zM132.3 445h62.8v1h-62.8zM132.3 598h62.8v1h-62.8zM195.1 247h62.9v2h-62.9zM195.1 400h62.9v1h-62.9zM195.1 720h62.9v1h-62.9zM258 232h62.8v1h-62.8zM258 260h62.8v1h-62.8zM258 263h62.8v1h-62.8zM258 268h62.8v1h-62.8zM258 295h62.8v1h-62.8zM258 300h62.8v1h-62.8zM258 347h62.8v1h-62.8zM258 350h62.8v1h-62.8zM258 370h62.8v1h-62.8zM258 378h62.8v2h-62.8zM258 382h62.8v1h-62.8zM258 385h62.8v1h-62.8zM258 411h62.8v1h-62.8zM258 442h62.8v1h-62.8zM258 447h62.8v1h-62.8zM258 464h62.8v1h-62.8zM258 792h62.8v1h-62.8zM320.8 177h62.9v1h-62.9zM320.8 205h62.9v1h-62.9zM320.8 207h62.9v1h-62.9zM320.8 211h62.9v1h-62.9zM320.8 213h62.9v1h-62.9zM320.8 215h62.9v1h-62.9zM320.8 239h62.9v1h-62.9zM320.8 287h62.9v1h-62.9zM320.8 297h62.9v1h-62.9zM320.8 308h62.9v2h-62.9zM320.8 318h62.9v1h-62.9zM320.8 418h62.9v1h-62.9zM320.8 809h62.9v1h-62.9zM383.7 100h62.8v1h-62.8zM383.7 119h62.8v1h-62.8zM383.7 263h62.8v1h-62.8zM383.7 276h62.8v1h-62.8zM383.7 293h62.8v1h-62.8zM383.7 296h62.8v1h-62.8zM383.7 299h62.8v1h-62.8zM383.7 303h62.8v1h-62.8zM383.7 310h62.8v1h-62.8zM383.7 349h62.8v1h-62.8zM383.7 401h62.8v1h-62.8zM383.7 405h62.8v2h-62.8zM383.7 410h62.8v1h-62.8zM383.7 419h62.8v1h-62.8zM383.7 466h62.8v1h-62.8zM383.7 470h62.8v1h-62.8zM383.7 793h62.8v1h-62.8zM383.7 834h62.8v1h-62.8zM446.5 259h62.9v1h-62.9zM446.5 340h62.9v1h-62.9zM446.5 345h62.9v1h-62.9zM446.5 353h62.9v1h-62.9zM446.5 361h62.9v1h-62.9zM446.5 419h62.9v1h-62.9zM446.5 443h62.9v1h-62.9zM446.5 535h62.9v1h-62.9zM446.5 553h62.9v1h-62.9zM446.5 631h62.9v1h-62.9zM446.5 760h62.9v1h-62.9zM446.5 818h62.9v1h-62.9zM509.4 83h62.9v1h-62.9zM509.4 86h62.9v1h-62.9zM509.4 253h62.9v1h-62.9zM509.4 290h62.9v1h-62.9zM509.4 325h62.9v1h-62.9zM509.4 346h62.9v1h-62.9zM509.4 353h62.9v1h-62.9zM509.4 391h62.9v1h-62.9zM509.4 394h62.9v1h-62.9zM509.4 418h62.9v1h-62.9zM509.4 425h62.9v1h-62.9zM509.4 444h62.9v1h-62.9zM509.4 449h62.9v1h-62.9zM509.4 462h62.9v1h-62.9zM509.4 473h62.9v1h-62.9zM509.4 611h62.9v1h-62.9zM509.4 792h62.9v1h-62.9zM509.4 828h62.9v1h-62.9z"/><path fill="#f6ecca" d="M69.4 99h62.9v1h-62.9zM69.4 107h62.9v1h-62.9zM69.4 120h62.9v1h-62.9zM69.4 140h62.9v1h-62.9zM69.4 146h62.9v1h-62.9zM69.4 202h62.9v1h-62.9zM69.4 241h62.9v1h-62.9zM69.4 244h62.9v1h-62.9zM69.4 246h62.9v1h-62.9zM69.4 266h62.9v1h-62.9zM69.4 330h62.9v1h-62.9zM69.4 339h62.9v1h-62.9zM69.4 376h62.9v1h-62.9zM69.4 378h62.9v1h-62.9zM69.4 448h62.9v1h-62.9zM69.4 460h62.9v1h-62.9zM69.4 476h62.9v1h-62.9zM69.4 510h62.9v1h-62.9zM69.4 533h62.9v1h-62.9zM69.4 559h62.9v1h-62.9zM69.4 564h62.9v1h-62.9zM69.4 569h62.9v1h-62.9zM69.4 625h62.9v1h-62.9zM69.4 681h62.9v1h-62.9zM69.4 726h62.9v1h-62.9zM69.4 728h62.9v1h-62.9zM69.4 797h62.9v1h-62.9zM69.4 802h62.9v2h-62.9zM69.4 817h62.9v1h-62.9zM69.4 820h62.9v1h-62.9zM69.4 824h62.9v1h-62.9zM132.3 82h62.8v1h-62.8zM132.3 92h62.8v1h-62.8zM132.3 103h62.8v1h-62.8zM132.3 107h62.8v1h-62.8zM132.3 115h62.8v1h-62.8zM132.3 120h62.8v1h-62.8zM132.3 122h62.8v1h-62.8zM132.3 141h62.8v1h-62.8zM132.3 242h62.8v1h-62.8zM132.3 248h62.8v1h-62.8zM132.3 252h62.8v2h-62.8zM132.3 265h62.8v1h-62.8zM132.3 277h62.8v1h-62.8zM132.3 286h62.8v1h-62.8zM132.3 312h62.8v1h-62.8zM132.3 325h62.8v1h-62.8zM132.3 334h62.8v1h-62.8zM132.3 414h62.8v1h-62.8zM132.3 417h62.8v3h-62.8zM132.3 443h62.8v1h-62.8zM132.3 465h62.8v1h-62.8zM132.3 481h62.8v1h-62.8zM132.3 523h62.8v1h-62.8zM132.3 559h62.8v1h-62.8zM132.3 575h62.8v1h-62.8zM132.3 586h62.8v1h-62.8zM132.3 679h62.8v1h-62.8zM132.3 704h62.8v1h-62.8zM132.3 731h62.8v1h-62.8zM132.3 752h62.8v1h-62.8zM132.3 756h62.8v1h-62.8zM132.3 794h62.8v1h-62.8zM132.3 799h62.8v1h-62.8zM132.3 801h62.8v1h-62.8zM132.3 814h62.8v2h-62.8zM132.3 819h62.8v1h-62.8zM195.1 87h62.9v1h-62.9zM195.1 93h62.9v1h-62.9zM195.1 116h62.9v1h-62.9zM195.1 156h62.9v1h-62.9zM195.1 158h62.9v4h-62.9zM195.1 171h62.9v1h-62.9zM195.1 178h62.9v1h-62.9zM195.1 180h62.9v1h-62.9zM195.1 187h62.9v1h-62.9zM195.1 200h62.9v3h-62.9zM195.1 204h62.9v1h-62.9zM195.1 218h62.9v2h-62.9zM195.1 286h62.9v3h-62.9zM195.1 293h62.9v1h-62.9zM195.1 305h62.9v2h-62.9zM195.1 336h62.9v2h-62.9zM195.1 380h62.9v1h-62.9zM195.1 385h62.9v1h-62.9zM195.1 391h62.9v1h-62.9zM195.1 395h62.9v3h-62.9zM195.1 443h62.9v1h-62.9zM195.1 476h62.9v1h-62.9zM195.1 482h62.9v3h-62.9zM195.1 486h62.9v2h-62.9zM195.1 500h62.9v1h-62.9zM195.1 508h62.9v3h-62.9zM195.1 512h62.9v1h-62.9zM195.1 520h62.9v1h-62.9zM195.1 524h62.9v1h-62.9zM195.1 526h62.9v4h-62.9zM195.1 537h62.9v1h-62.9zM195.1 539h62.9v1h-62.9zM195.1 543h62.9v2h-62.9zM195.1 546h62.9v1h-62.9zM195.1 548h62.9v1h-62.9zM195.1 550h62.9v1h-62.9zM195.1 553h62.9v1h-62.9zM195.1 558h62.9v1h-62.9zM195.1 560h62.9v1h-62.9zM195.1 565h62.9v1h-62.9zM195.1 570h62.9v1h-62.9zM195.1 573h62.9v3h-62.9zM195.1 578h62.9v1h-62.9zM195.1 581h62.9v2h-62.9zM195.1 598h62.9v1h-62.9zM195.1 600h62.9v1h-62.9zM195.1 612h62.9v2h-62.9zM195.1 619h62.9v2h-62.9zM195.1 624h62.9v3h-62.9zM195.1 632h62.9v1h-62.9zM195.1 640h62.9v1h-62.9zM195.1 649h62.9v2h-62.9zM195.1 656h62.9v1h-62.9zM195.1 661h62.9v1h-62.9zM195.1 667h62.9v1h-62.9zM195.1 669h62.9v3h-62.9zM195.1 675h62.9v1h-62.9zM195.1 683h62.9v1h-62.9zM195.1 687h62.9v2h-62.9zM195.1 694h62.9v1h-62.9zM195.1 722h62.9v1h-62.9zM195.1 724h62.9v1h-62.9zM195.1 729h62.9v1h-62.9zM195.1 736h62.9v2h-62.9zM195.1 740h62.9v3h-62.9zM195.1 751h62.9v1h-62.9zM195.1 754h62.9v1h-62.9zM195.1 763h62.9v2h-62.9zM195.1 767h62.9v3h-62.9zM195.1 772h62.9v2h-62.9zM195.1 775h62.9v1h-62.9zM195.1 778h62.9v2h-62.9zM195.1 786h62.9v2h-62.9zM195.1 810h62.9v1h-62.9zM195.1 821h62.9v1h-62.9zM258 130h62.8v1h-62.8zM258 159h62.8v1h-62.8zM258 163h62.8v1h-62.8zM258 167h62.8v1h-62.8zM258 171h62.8v1h-62.8zM258 265h62.8v1h-62.8zM258 298h62.8v1h-62.8zM258 361h62.8v1h-62.8zM258 376h62.8v1h-62.8zM258 380h62.8v1h-62.8zM258 413h62.8v1h-62.8zM258 519h62.8v1h-62.8zM258 642h62.8v1h-62.8zM258 710h62.8v1h-62.8zM258 731h62.8v1h-62.8zM258 745h62.8v1h-62.8zM258 754h62.8v1h-62.8zM258 770h62.8v1h-62.8zM258 789h62.8v2h-62.8zM320.8 165h62.9v1h-62.9zM320.8 168h62.9v1h-62.9zM320.8 182h62.9v2h-62.9zM320.8 187h62.9v1h-62.9zM320.8 194h62.9v1h-62.9zM320.8 229h62.9v1h-62.9zM320.8 231h62.9v1h-62.9zM320.8 313h62.9v1h-62.9zM320.8 319h62.9v1h-62.9zM320.8 345h62.9v1h-62.9zM320.8 350h62.9v2h-62.9zM320.8 384h62.9v1h-62.9zM320.8 395h62.9v1h-62.9zM320.8 441h62.9v1h-62.9zM320.8 443h62.9v1h-62.9zM320.8 465h62.9v1h-62.9zM320.8 679h62.9v1h-62.9zM320.8 820h62.9v1h-62.9zM320.8 827h62.9v1h-62.9zM320.8 836h62.9v2h-62.9zM383.7 65h62.8v1h-62.8zM383.7 85h62.8v1h-62.8zM383.7 87h62.8v1h-62.8zM383.7 90h62.8v1h-62.8zM383.7 109h62.8v1h-62.8zM383.7 116h62.8v1h-62.8zM383.7 127h62.8v1h-62.8zM383.7 244h62.8v3h-62.8zM383.7 248h62.8v2h-62.8zM383.7 253h62.8v1h-62.8zM383.7 256h62.8v2h-62.8zM383.7 267h62.8v1h-62.8zM383.7 290h62.8v1h-62.8zM383.7 321h62.8v1h-62.8zM383.7 325h62.8v1h-62.8zM383.7 334h62.8v1h-62.8zM383.7 414h62.8v1h-62.8zM383.7 434h62.8v1h-62.8zM383.7 458h62.8v1h-62.8zM383.7 464h62.8v1h-62.8zM383.7 570h62.8v1h-62.8zM383.7 576h62.8v1h-62.8zM383.7 604h62.8v1h-62.8zM383.7 668h62.8v1h-62.8zM383.7 706h62.8v1h-62.8zM383.7 755h62.8v1h-62.8zM383.7 776h62.8v1h-62.8zM383.7 794h62.8v2h-62.8zM383.7 805h62.8v1h-62.8zM383.7 807h62.8v1h-62.8zM383.7 809h62.8v1h-62.8zM383.7 822h62.8v1h-62.8zM383.7 824h62.8v2h-62.8zM383.7 830h62.8v1h-62.8zM446.5 80h62.9v1h-62.9zM446.5 101h62.9v1h-62.9zM446.5 182h62.9v1h-62.9zM446.5 189h62.9v1h-62.9zM446.5 192h62.9v1h-62.9zM446.5 195h62.9v1h-62.9zM446.5 209h62.9v1h-62.9zM446.5 230h62.9v1h-62.9zM446.5 318h62.9v1h-62.9zM446.5 348h62.9v1h-62.9zM446.5 362h62.9v1h-62.9zM446.5 367h62.9v1h-62.9zM446.5 371h62.9v1h-62.9zM446.5 381h62.9v1h-62.9zM446.5 387h62.9v1h-62.9zM446.5 410h62.9v1h-62.9zM446.5 415h62.9v1h-62.9zM446.5 417h62.9v1h-62.9zM446.5 420h62.9v2h-62.9zM446.5 427h62.9v1h-62.9zM446.5 432h62.9v1h-62.9zM446.5 447h62.9v1h-62.9zM446.5 459h62.9v3h-62.9zM446.5 463h62.9v1h-62.9zM446.5 500h62.9v2h-62.9zM446.5 517h62.9v1h-62.9zM446.5 519h62.9v1h-62.9zM446.5 531h62.9v1h-62.9zM446.5 534h62.9v1h-62.9zM446.5 540h62.9v1h-62.9zM446.5 548h62.9v1h-62.9zM446.5 577h62.9v1h-62.9zM446.5 604h62.9v1h-62.9zM446.5 615h62.9v1h-62.9zM446.5 618h62.9v1h-62.9zM446.5 640h62.9v1h-62.9zM446.5 665h62.9v1h-62.9zM446.5 689h62.9v1h-62.9zM446.5 701h62.9v1h-62.9zM446.5 704h62.9v1h-62.9zM446.5 776h62.9v1h-62.9zM446.5 795h62.9v2h-62.9zM446.5 805h62.9v1h-62.9zM446.5 808h62.9v1h-62.9zM446.5 832h62.9v1h-62.9zM446.5 835h62.9v1h-62.9zM509.4 94h62.9v1h-62.9zM509.4 107h62.9v2h-62.9zM509.4 113h62.9v1h-62.9zM509.4 191h62.9v1h-62.9zM509.4 249h62.9v1h-62.9zM509.4 254h62.9v1h-62.9zM509.4 275h62.9v1h-62.9zM509.4 310h62.9v1h-62.9zM509.4 326h62.9v1h-62.9zM509.4 328h62.9v1h-62.9zM509.4 331h62.9v1h-62.9zM509.4 337h62.9v1h-62.9zM509.4 392h62.9v1h-62.9zM509.4 403h62.9v1h-62.9zM509.4 408h62.9v1h-62.9zM509.4 468h62.9v1h-62.9zM509.4 477h62.9v1h-62.9zM509.4 484h62.9v1h-62.9zM509.4 490h62.9v2h-62.9zM509.4 504h62.9v1h-62.9zM509.4 508h62.9v1h-62.9zM509.4 546h62.9v1h-62.9zM509.4 569h62.9v1h-62.9zM509.4 581h62.9v2h-62.9zM509.4 584h62.9v1h-62.9zM509.4 616h62.9v1h-62.9zM509.4 652h62.9v1h-62.9zM509.4 669h62.9v1h-62.9zM509.4 698h62.9v1h-62.9zM509.4 701h62.9v1h-62.9zM509.4 731h62.9v1h-62.9zM509.4 740h62.9v1h-62.9zM509.4 758h62.9v1h-62.9zM509.4 766h62.9v1h-62.9zM509.4 769h62.9v1h-62.9z"/><path fill="#f4deb9" d="M69.4 106h62.9v1h-62.9zM69.4 114h62.9v1h-62.9zM69.4 121h62.9v1h-62.9zM69.4 123h62.9v1h-62.9zM69.4 144h62.9v1h-62.9zM69.4 150h62.9v1h-62.9zM69.4 156h62.9v1h-62.9zM69.4 199h62.9v1h-62.9zM69.4 203h62.9v1h-62.9zM69.4 224h62.9v1h-62.9zM69.4 235h62.9v1h-62.9zM69.4 277h62.9v1h-62.9zM69.4 297h62.9v1h-62.9zM69.4 313h62.9v1h-62.9zM69.4 348h62.9v1h-62.9zM69.4 372h62.9v1h-62.9zM69.4 483h62.9v1h-62.9zM69.4 494h62.9v1h-62.9zM69.4 511h62.9v1h-62.9zM69.4 543h62.9v1h-62.9zM69.4 582h62.9v1h-62.9zM69.4 664h62.9v1h-62.9zM69.4 697h62.9v1h-62.9zM69.4 699h62.9v1h-62.9zM69.4 705h62.9v1h-62.9zM69.4 753h62.9v2h-62.9zM69.4 775h62.9v1h-62.9zM69.4 807h62.9v1h-62.9zM132.3 160h62.8v1h-62.8zM132.3 170h62.8v1h-62.8zM132.3 175h62.8v1h-62.8zM132.3 185h62.8v1h-62.8zM132.3 197h62.8v1h-62.8zM132.3 203h62.8v1h-62.8zM132.3 261h62.8v1h-62.8zM132.3 297h62.8v1h-62.8zM132.3 382h62.8v1h-62.8zM132.3 384h62.8v1h-62.8zM132.3 389h62.8v1h-62.8zM132.3 393h62.8v1h-62.8zM132.3 483h62.8v1h-62.8zM132.3 493h62.8v1h-62.8zM132.3 499h62.8v1h-62.8zM132.3 507h62.8v1h-62.8zM132.3 513h62.8v1h-62.8zM132.3 537h62.8v1h-62.8zM132.3 539h62.8v1h-62.8zM132.3 548h62.8v1h-62.8zM132.3 556h62.8v1h-62.8zM132.3 578h62.8v1h-62.8zM132.3 582h62.8v1h-62.8zM132.3 602h62.8v1h-62.8zM132.3 621h62.8v1h-62.8zM132.3 626h62.8v1h-62.8zM132.3 633h62.8v1h-62.8zM132.3 643h62.8v1h-62.8zM132.3 646h62.8v1h-62.8zM132.3 651h62.8v1h-62.8zM132.3 655h62.8v2h-62.8zM132.3 670h62.8v1h-62.8zM132.3 684h62.8v1h-62.8zM132.3 688h62.8v1h-62.8zM132.3 693h62.8v2h-62.8zM132.3 696h62.8v1h-62.8zM132.3 707h62.8v1h-62.8zM132.3 709h62.8v1h-62.8zM132.3 720h62.8v1h-62.8zM132.3 737h62.8v1h-62.8zM132.3 740h62.8v1h-62.8zM132.3 744h62.8v1h-62.8zM132.3 754h62.8v1h-62.8zM132.3 770h62.8v1h-62.8zM132.3 774h62.8v1h-62.8zM132.3 802h62.8v1h-62.8zM195.1 411h62.9v1h-62.9zM195.1 417h62.9v1h-62.9zM195.1 419h62.9v2h-62.9zM195.1 422h62.9v1h-62.9zM195.1 427h62.9v1h-62.9zM195.1 429h62.9v2h-62.9zM195.1 434h62.9v1h-62.9zM195.1 448h62.9v1h-62.9zM195.1 606h62.9v1h-62.9zM195.1 811h62.9v1h-62.9zM258 162h62.8v1h-62.8zM258 184h62.8v1h-62.8zM258 213h62.8v1h-62.8zM258 222h62.8v1h-62.8zM258 234h62.8v1h-62.8zM258 236h62.8v1h-62.8zM258 383h62.8v1h-62.8zM258 570h62.8v1h-62.8zM258 643h62.8v1h-62.8zM258 662h62.8v1h-62.8zM258 669h62.8v1h-62.8zM320.8 259h62.9v2h-62.9zM320.8 272h62.9v1h-62.9zM320.8 284h62.9v1h-62.9zM320.8 321h62.9v1h-62.9zM320.8 328h62.9v1h-62.9zM320.8 333h62.9v1h-62.9zM320.8 335h62.9v1h-62.9zM320.8 386h62.9v1h-62.9zM320.8 396h62.9v1h-62.9zM320.8 401h62.9v1h-62.9zM320.8 453h62.9v1h-62.9zM320.8 462h62.9v1h-62.9zM320.8 476h62.9v1h-62.9zM320.8 507h62.9v1h-62.9zM320.8 514h62.9v1h-62.9zM320.8 517h62.9v1h-62.9zM320.8 524h62.9v1h-62.9zM320.8 561h62.9v1h-62.9zM320.8 570h62.9v1h-62.9zM320.8 587h62.9v1h-62.9zM320.8 609h62.9v1h-62.9zM320.8 625h62.9v1h-62.9zM320.8 639h62.9v2h-62.9zM320.8 658h62.9v1h-62.9zM320.8 662h62.9v1h-62.9zM320.8 680h62.9v1h-62.9zM320.8 720h62.9v1h-62.9zM320.8 723h62.9v1h-62.9zM320.8 746h62.9v1h-62.9zM320.8 768h62.9v1h-62.9zM320.8 770h62.9v1h-62.9zM320.8 780h62.9v1h-62.9zM383.7 91h62.8v1h-62.8zM383.7 167h62.8v1h-62.8zM383.7 184h62.8v1h-62.8zM383.7 202h62.8v1h-62.8zM383.7 209h62.8v1h-62.8zM383.7 227h62.8v2h-62.8zM383.7 235h62.8v1h-62.8zM383.7 238h62.8v1h-62.8zM383.7 323h62.8v1h-62.8zM383.7 331h62.8v1h-62.8zM383.7 369h62.8v1h-62.8zM383.7 372h62.8v1h-62.8zM383.7 387h62.8v1h-62.8zM383.7 396h62.8v1h-62.8zM383.7 446h62.8v1h-62.8zM383.7 475h62.8v1h-62.8zM383.7 495h62.8v1h-62.8zM383.7 497h62.8v1h-62.8zM383.7 504h62.8v1h-62.8zM383.7 508h62.8v1h-62.8zM383.7 524h62.8v1h-62.8zM383.7 527h62.8v1h-62.8zM383.7 535h62.8v1h-62.8zM383.7 544h62.8v1h-62.8zM383.7 556h62.8v1h-62.8zM383.7 563h62.8v1h-62.8zM383.7 582h62.8v1h-62.8zM383.7 586h62.8v1h-62.8zM383.7 589h62.8v1h-62.8zM383.7 629h62.8v1h-62.8zM383.7 644h62.8v1h-62.8zM383.7 660h62.8v1h-62.8zM383.7 669h62.8v1h-62.8zM383.7 672h62.8v1h-62.8zM383.7 677h62.8v1h-62.8zM383.7 689h62.8v1h-62.8zM383.7 692h62.8v1h-62.8zM383.7 723h62.8v1h-62.8zM383.7 726h62.8v1h-62.8zM383.7 742h62.8v1h-62.8zM383.7 771h62.8v1h-62.8zM446.5 71h62.9v1h-62.9zM446.5 77h62.9v1h-62.9zM446.5 81h62.9v1h-62.9zM446.5 104h62.9v1h-62.9zM446.5 106h62.9v1h-62.9zM446.5 108h62.9v1h-62.9zM446.5 113h62.9v1h-62.9zM446.5 139h62.9v1h-62.9zM446.5 162h62.9v1h-62.9zM446.5 165h62.9v1h-62.9zM446.5 172h62.9v1h-62.9zM446.5 178h62.9v1h-62.9zM446.5 181h62.9v1h-62.9zM446.5 196h62.9v2h-62.9zM446.5 199h62.9v1h-62.9zM446.5 214h62.9v1h-62.9zM446.5 226h62.9v1h-62.9zM446.5 281h62.9v1h-62.9zM446.5 285h62.9v1h-62.9zM446.5 302h62.9v2h-62.9zM446.5 382h62.9v1h-62.9zM446.5 487h62.9v1h-62.9zM446.5 502h62.9v1h-62.9zM446.5 510h62.9v1h-62.9zM446.5 545h62.9v1h-62.9zM446.5 550h62.9v1h-62.9zM446.5 555h62.9v2h-62.9zM446.5 580h62.9v1h-62.9zM446.5 595h62.9v1h-62.9zM446.5 658h62.9v1h-62.9zM446.5 682h62.9v1h-62.9zM446.5 685h62.9v1h-62.9zM446.5 696h62.9v1h-62.9zM446.5 708h62.9v1h-62.9zM446.5 720h62.9v1h-62.9zM446.5 725h62.9v1h-62.9zM446.5 734h62.9v1h-62.9zM446.5 738h62.9v1h-62.9zM446.5 744h62.9v1h-62.9zM446.5 753h62.9v1h-62.9zM446.5 766h62.9v1h-62.9zM446.5 783h62.9v1h-62.9zM509.4 120h62.9v1h-62.9zM509.4 145h62.9v1h-62.9zM509.4 148h62.9v1h-62.9zM509.4 158h62.9v1h-62.9zM509.4 188h62.9v1h-62.9zM509.4 213h62.9v1h-62.9zM509.4 277h62.9v1h-62.9zM509.4 280h62.9v1h-62.9zM509.4 285h62.9v1h-62.9zM509.4 299h62.9v1h-62.9zM509.4 373h62.9v1h-62.9zM509.4 432h62.9v1h-62.9zM509.4 486h62.9v1h-62.9zM509.4 564h62.9v1h-62.9zM509.4 572h62.9v1h-62.9zM509.4 623h62.9v1h-62.9zM509.4 627h62.9v1h-62.9zM509.4 657h62.9v1h-62.9zM509.4 695h62.9v1h-62.9z"/><path fill="#f6e3bf" d="M69.4 108h62.9v1h-62.9zM69.4 116h62.9v1h-62.9zM69.4 152h62.9v1h-62.9zM69.4 154h62.9v2h-62.9zM69.4 171h62.9v1h-62.9zM69.4 185h62.9v1h-62.9zM69.4 275h62.9v1h-62.9zM69.4 287h62.9v1h-62.9zM69.4 291h62.9v1h-62.9zM69.4 299h62.9v1h-62.9zM69.4 336h62.9v1h-62.9zM69.4 374h62.9v1h-62.9zM69.4 379h62.9v1h-62.9zM69.4 394h62.9v1h-62.9zM69.4 446h62.9v1h-62.9zM69.4 479h62.9v1h-62.9zM69.4 493h62.9v1h-62.9zM69.4 496h62.9v1h-62.9zM69.4 526h62.9v3h-62.9zM69.4 555h62.9v1h-62.9zM69.4 598h62.9v1h-62.9zM69.4 608h62.9v1h-62.9zM69.4 613h62.9v2h-62.9zM69.4 620h62.9v1h-62.9zM69.4 622h62.9v1h-62.9zM69.4 630h62.9v1h-62.9zM69.4 637h62.9v1h-62.9zM69.4 640h62.9v1h-62.9zM69.4 648h62.9v1h-62.9zM69.4 663h62.9v1h-62.9zM69.4 690h62.9v1h-62.9zM69.4 693h62.9v1h-62.9zM69.4 711h62.9v1h-62.9zM69.4 720h62.9v1h-62.9zM69.4 724h62.9v1h-62.9zM69.4 760h62.9v1h-62.9zM69.4 781h62.9v1h-62.9zM69.4 786h62.9v1h-62.9zM132.3 176h62.8v1h-62.8zM132.3 189h62.8v1h-62.8zM132.3 216h62.8v1h-62.8zM132.3 218h62.8v1h-62.8zM132.3 223h62.8v1h-62.8zM132.3 296h62.8v1h-62.8zM132.3 298h62.8v1h-62.8zM132.3 303h62.8v1h-62.8zM132.3 343h62.8v1h-62.8zM132.3 345h62.8v1h-62.8zM132.3 395h62.8v2h-62.8zM132.3 454h62.8v1h-62.8zM132.3 469h62.8v1h-62.8zM132.3 480h62.8v1h-62.8zM132.3 489h62.8v1h-62.8zM132.3 502h62.8v2h-62.8zM132.3 515h62.8v1h-62.8zM132.3 517h62.8v1h-62.8zM132.3 541h62.8v1h-62.8zM132.3 560h62.8v1h-62.8zM132.3 589h62.8v1h-62.8zM132.3 624h62.8v2h-62.8zM132.3 634h62.8v1h-62.8zM132.3 652h62.8v1h-62.8zM132.3 660h62.8v1h-62.8zM132.3 676h62.8v1h-62.8zM132.3 680h62.8v1h-62.8zM132.3 687h62.8v1h-62.8zM132.3 698h62.8v1h-62.8zM132.3 700h62.8v1h-62.8zM132.3 706h62.8v1h-62.8zM132.3 712h62.8v1h-62.8zM132.3 716h62.8v1h-62.8zM132.3 718h62.8v2h-62.8zM132.3 723h62.8v1h-62.8zM132.3 726h62.8v1h-62.8zM132.3 730h62.8v1h-62.8zM132.3 753h62.8v1h-62.8zM132.3 795h62.8v1h-62.8zM195.1 379h62.9v1h-62.9zM195.1 412h62.9v1h-62.9zM195.1 414h62.9v1h-62.9zM195.1 416h62.9v1h-62.9zM195.1 431h62.9v2h-62.9zM195.1 435h62.9v1h-62.9zM195.1 439h62.9v1h-62.9zM195.1 583h62.9v1h-62.9zM258 95h62.8v1h-62.8zM258 120h62.8v1h-62.8zM258 177h62.8v1h-62.8zM258 191h62.8v1h-62.8zM258 214h62.8v1h-62.8zM258 219h62.8v1h-62.8zM258 225h62.8v1h-62.8zM258 373h62.8v1h-62.8zM258 489h62.8v1h-62.8zM258 492h62.8v1h-62.8zM258 529h62.8v1h-62.8zM258 538h62.8v1h-62.8zM258 573h62.8v1h-62.8zM258 576h62.8v1h-62.8zM258 591h62.8v1h-62.8zM258 598h62.8v1h-62.8zM258 608h62.8v1h-62.8zM258 619h62.8v1h-62.8zM258 645h62.8v1h-62.8zM258 661h62.8v1h-62.8zM258 668h62.8v1h-62.8zM258 684h62.8v1h-62.8zM258 691h62.8v1h-62.8zM258 755h62.8v1h-62.8zM258 774h62.8v1h-62.8zM258 776h62.8v1h-62.8zM320.8 184h62.9v1h-62.9zM320.8 218h62.9v1h-62.9zM320.8 223h62.9v1h-62.9zM320.8 270h62.9v1h-62.9zM320.8 330h62.9v2h-62.9zM320.8 340h62.9v1h-62.9zM320.8 382h62.9v1h-62.9zM320.8 385h62.9v1h-62.9zM320.8 391h62.9v1h-62.9zM320.8 394h62.9v1h-62.9zM320.8 410h62.9v1h-62.9zM320.8 412h62.9v1h-62.9zM320.8 444h62.9v1h-62.9zM320.8 461h62.9v1h-62.9zM320.8 503h62.9v1h-62.9zM320.8 508h62.9v1h-62.9zM320.8 594h62.9v1h-62.9zM320.8 710h62.9v1h-62.9zM320.8 743h62.9v1h-62.9zM320.8 766h62.9v1h-62.9zM383.7 80h62.8v3h-62.8zM383.7 103h62.8v1h-62.8zM383.7 111h62.8v1h-62.8zM383.7 141h62.8v1h-62.8zM383.7 143h62.8v1h-62.8zM383.7 222h62.8v1h-62.8zM383.7 224h62.8v1h-62.8zM383.7 255h62.8v1h-62.8zM383.7 322h62.8v1h-62.8zM383.7 327h62.8v1h-62.8zM383.7 332h62.8v1h-62.8zM383.7 337h62.8v3h-62.8zM383.7 375h62.8v1h-62.8zM383.7 391h62.8v1h-62.8zM383.7 418h62.8v1h-62.8zM383.7 451h62.8v1h-62.8zM383.7 456h62.8v1h-62.8zM383.7 507h62.8v1h-62.8zM383.7 526h62.8v1h-62.8zM383.7 539h62.8v1h-62.8zM383.7 564h62.8v1h-62.8zM383.7 569h62.8v1h-62.8zM383.7 574h62.8v1h-62.8zM383.7 601h62.8v1h-62.8zM383.7 611h62.8v1h-62.8zM383.7 628h62.8v1h-62.8zM383.7 630h62.8v1h-62.8zM383.7 634h62.8v2h-62.8zM383.7 654h62.8v1h-62.8zM383.7 703h62.8v2h-62.8zM383.7 707h62.8v1h-62.8zM383.7 720h62.8v1h-62.8zM383.7 759h62.8v1h-62.8zM383.7 765h62.8v1h-62.8zM383.7 777h62.8v1h-62.8zM383.7 779h62.8v1h-62.8zM383.7 781h62.8v1h-62.8zM446.5 65h62.9v1h-62.9zM446.5 79h62.9v1h-62.9zM446.5 91h62.9v1h-62.9zM446.5 99h62.9v2h-62.9zM446.5 110h62.9v1h-62.9zM446.5 118h62.9v2h-62.9zM446.5 126h62.9v1h-62.9zM446.5 135h62.9v1h-62.9zM446.5 163h62.9v1h-62.9zM446.5 166h62.9v1h-62.9zM446.5 171h62.9v1h-62.9zM446.5 174h62.9v1h-62.9zM446.5 177h62.9v1h-62.9zM446.5 190h62.9v2h-62.9zM446.5 204h62.9v1h-62.9zM446.5 220h62.9v1h-62.9zM446.5 229h62.9v1h-62.9zM446.5 231h62.9v1h-62.9zM446.5 239h62.9v1h-62.9zM446.5 278h62.9v1h-62.9zM446.5 289h62.9v1h-62.9zM446.5 314h62.9v1h-62.9zM446.5 316h62.9v1h-62.9zM446.5 350h62.9v1h-62.9zM446.5 397h62.9v1h-62.9zM446.5 411h62.9v1h-62.9zM446.5 478h62.9v1h-62.9zM446.5 498h62.9v1h-62.9zM446.5 505h62.9v1h-62.9zM446.5 514h62.9v2h-62.9zM446.5 520h62.9v2h-62.9zM446.5 523h62.9v1h-62.9zM446.5 541h62.9v1h-62.9zM446.5 554h62.9v1h-62.9zM446.5 562h62.9v1h-62.9zM446.5 576h62.9v1h-62.9zM446.5 585h62.9v1h-62.9zM446.5 608h62.9v1h-62.9zM446.5 612h62.9v1h-62.9zM446.5 617h62.9v1h-62.9zM446.5 632h62.9v1h-62.9zM446.5 637h62.9v1h-62.9zM446.5 650h62.9v2h-62.9zM446.5 655h62.9v1h-62.9zM446.5 669h62.9v1h-62.9zM446.5 674h62.9v1h-62.9zM446.5 681h62.9v1h-62.9zM446.5 698h62.9v1h-62.9zM446.5 712h62.9v1h-62.9zM446.5 726h62.9v1h-62.9zM446.5 741h62.9v1h-62.9zM446.5 748h62.9v1h-62.9zM446.5 765h62.9v1h-62.9zM446.5 769h62.9v4h-62.9zM446.5 784h62.9v1h-62.9zM446.5 786h62.9v1h-62.9zM509.4 127h62.9v1h-62.9zM509.4 139h62.9v1h-62.9zM509.4 203h62.9v1h-62.9zM509.4 283h62.9v1h-62.9zM509.4 286h62.9v3h-62.9zM509.4 312h62.9v1h-62.9zM509.4 339h62.9v1h-62.9zM509.4 341h62.9v1h-62.9zM509.4 345h62.9v1h-62.9zM509.4 530h62.9v2h-62.9zM509.4 559h62.9v1h-62.9zM509.4 562h62.9v1h-62.9zM509.4 566h62.9v1h-62.9zM509.4 579h62.9v1h-62.9zM509.4 613h62.9v1h-62.9zM509.4 648h62.9v1h-62.9zM509.4 676h62.9v1h-62.9zM509.4 735h62.9v1h-62.9zM509.4 767h62.9v1h-62.9zM509.4 800h62.9v1h-62.9z"/><path fill="#f2d4ae" d="M69.4 113h62.9v1h-62.9zM69.4 115h62.9v1h-62.9zM69.4 142h62.9v1h-62.9zM69.4 252h62.9v1h-62.9zM69.4 284h62.9v1h-62.9zM69.4 295h62.9v1h-62.9zM69.4 307h62.9v1h-62.9zM69.4 310h62.9v1h-62.9zM69.4 344h62.9v1h-62.9zM69.4 545h62.9v1h-62.9zM132.3 161h62.8v1h-62.8zM132.3 166h62.8v1h-62.8zM132.3 178h62.8v1h-62.8zM132.3 211h62.8v1h-62.8zM132.3 220h62.8v1h-62.8zM132.3 237h62.8v1h-62.8zM132.3 352h62.8v1h-62.8zM132.3 354h62.8v2h-62.8zM132.3 373h62.8v2h-62.8zM132.3 406h62.8v1h-62.8zM132.3 506h62.8v1h-62.8zM132.3 524h62.8v1h-62.8zM132.3 526h62.8v1h-62.8zM132.3 567h62.8v1h-62.8zM132.3 571h62.8v1h-62.8zM132.3 608h62.8v1h-62.8zM132.3 618h62.8v1h-62.8zM132.3 628h62.8v1h-62.8zM132.3 681h62.8v1h-62.8zM132.3 715h62.8v1h-62.8zM132.3 746h62.8v2h-62.8zM132.3 762h62.8v1h-62.8zM132.3 781h62.8v1h-62.8zM195.1 345h62.9v1h-62.9zM195.1 616h62.9v1h-62.9zM258 328h62.8v1h-62.8zM320.8 63h62.9v1h-62.9zM320.8 66h62.9v1h-62.9zM320.8 70h62.9v1h-62.9zM320.8 72h62.9v1h-62.9zM320.8 76h62.9v1h-62.9zM320.8 117h62.9v1h-62.9zM320.8 156h62.9v1h-62.9zM320.8 265h62.9v2h-62.9zM320.8 327h62.9v1h-62.9zM320.8 353h62.9v2h-62.9zM320.8 356h62.9v1h-62.9zM320.8 371h62.9v1h-62.9zM320.8 398h62.9v2h-62.9zM320.8 403h62.9v1h-62.9zM320.8 406h62.9v1h-62.9zM320.8 513h62.9v1h-62.9zM320.8 519h62.9v1h-62.9zM320.8 529h62.9v3h-62.9zM320.8 534h62.9v1h-62.9zM320.8 536h62.9v2h-62.9zM320.8 581h62.9v1h-62.9zM320.8 591h62.9v1h-62.9zM320.8 596h62.9v1h-62.9zM320.8 606h62.9v2h-62.9zM320.8 617h62.9v1h-62.9zM320.8 626h62.9v3h-62.9zM320.8 644h62.9v1h-62.9zM320.8 656h62.9v1h-62.9zM320.8 704h62.9v1h-62.9zM320.8 721h62.9v1h-62.9zM320.8 732h62.9v1h-62.9zM320.8 749h62.9v1h-62.9zM320.8 753h62.9v1h-62.9zM320.8 757h62.9v1h-62.9zM320.8 787h62.9v1h-62.9zM383.7 163h62.8v1h-62.8zM383.7 175h62.8v1h-62.8zM383.7 182h62.8v1h-62.8zM383.7 188h62.8v1h-62.8zM383.7 213h62.8v1h-62.8zM383.7 215h62.8v1h-62.8zM383.7 229h62.8v1h-62.8zM383.7 233h62.8v1h-62.8zM383.7 352h62.8v1h-62.8zM383.7 365h62.8v1h-62.8zM383.7 367h62.8v1h-62.8zM383.7 481h62.8v1h-62.8zM383.7 483h62.8v1h-62.8zM383.7 492h62.8v1h-62.8zM383.7 512h62.8v2h-62.8zM383.7 518h62.8v1h-62.8zM383.7 537h62.8v1h-62.8zM383.7 549h62.8v1h-62.8zM383.7 562h62.8v1h-62.8zM383.7 591h62.8v1h-62.8zM383.7 594h62.8v1h-62.8zM383.7 638h62.8v1h-62.8zM383.7 650h62.8v1h-62.8zM383.7 682h62.8v2h-62.8zM383.7 691h62.8v1h-62.8zM383.7 695h62.8v1h-62.8zM383.7 711h62.8v1h-62.8zM383.7 732h62.8v1h-62.8zM383.7 737h62.8v1h-62.8zM383.7 744h62.8v1h-62.8zM383.7 746h62.8v1h-62.8zM383.7 752h62.8v1h-62.8zM383.7 774h62.8v1h-62.8zM383.7 786h62.8v1h-62.8zM446.5 137h62.9v1h-62.9zM446.5 164h62.9v1h-62.9zM446.5 185h62.9v1h-62.9zM446.5 193h62.9v1h-62.9zM446.5 217h62.9v1h-62.9zM446.5 294h62.9v1h-62.9zM446.5 296h62.9v1h-62.9zM446.5 524h62.9v1h-62.9zM446.5 652h62.9v1h-62.9zM446.5 668h62.9v1h-62.9zM446.5 677h62.9v1h-62.9zM446.5 816h62.9v1h-62.9zM509.4 174h62.9v1h-62.9zM509.4 184h62.9v1h-62.9zM509.4 304h62.9v1h-62.9zM509.4 306h62.9v1h-62.9z"/><path fill="#f2cfaa" d="M69.4 127h62.9v1h-62.9zM69.4 131h62.9v1h-62.9zM69.4 135h62.9v1h-62.9zM69.4 302h62.9v1h-62.9zM69.4 455h62.9v1h-62.9zM132.3 64h62.8v2h-62.8zM132.3 167h62.8v1h-62.8zM132.3 173h62.8v1h-62.8zM132.3 193h62.8v1h-62.8zM132.3 210h62.8v1h-62.8zM132.3 219h62.8v1h-62.8zM132.3 233h62.8v1h-62.8zM132.3 364h62.8v1h-62.8zM132.3 381h62.8v1h-62.8zM132.3 485h62.8v1h-62.8zM132.3 525h62.8v1h-62.8zM132.3 568h62.8v1h-62.8zM132.3 573h62.8v1h-62.8zM132.3 620h62.8v1h-62.8zM132.3 664h62.8v1h-62.8zM132.3 748h62.8v2h-62.8zM132.3 785h62.8v1h-62.8zM132.3 787h62.8v1h-62.8zM195.1 341h62.9v4h-62.9zM258 272h62.8v1h-62.8zM258 330h62.8v1h-62.8zM320.8 97h62.9v1h-62.9zM320.8 99h62.9v1h-62.9zM320.8 116h62.9v1h-62.9zM320.8 155h62.9v1h-62.9zM320.8 352h62.9v1h-62.9zM320.8 376h62.9v1h-62.9zM320.8 484h62.9v1h-62.9zM320.8 490h62.9v1h-62.9zM320.8 497h62.9v1h-62.9zM320.8 501h62.9v1h-62.9zM320.8 505h62.9v1h-62.9zM320.8 535h62.9v1h-62.9zM320.8 558h62.9v1h-62.9zM320.8 588h62.9v1h-62.9zM320.8 592h62.9v2h-62.9zM320.8 614h62.9v1h-62.9zM320.8 616h62.9v1h-62.9zM320.8 622h62.9v1h-62.9zM320.8 635h62.9v1h-62.9zM320.8 647h62.9v1h-62.9zM320.8 667h62.9v1h-62.9zM320.8 669h62.9v1h-62.9zM320.8 685h62.9v1h-62.9zM320.8 695h62.9v1h-62.9zM320.8 699h62.9v2h-62.9zM320.8 711h62.9v1h-62.9zM320.8 725h62.9v1h-62.9zM320.8 731h62.9v1h-62.9zM320.8 740h62.9v1h-62.9zM320.8 748h62.9v1h-62.9zM320.8 773h62.9v1h-62.9zM320.8 775h62.9v1h-62.9zM320.8 779h62.9v1h-62.9zM383.7 160h62.8v1h-62.8zM383.7 164h62.8v1h-62.8zM383.7 206h62.8v1h-62.8zM383.7 360h62.8v1h-62.8zM383.7 374h62.8v1h-62.8zM383.7 519h62.8v1h-62.8zM383.7 529h62.8v1h-62.8zM383.7 542h62.8v1h-62.8zM383.7 554h62.8v2h-62.8zM383.7 619h62.8v1h-62.8zM383.7 679h62.8v1h-62.8zM383.7 713h62.8v1h-62.8zM383.7 719h62.8v1h-62.8zM383.7 727h62.8v1h-62.8zM383.7 729h62.8v1h-62.8zM446.5 180h62.9v1h-62.9zM446.5 295h62.9v1h-62.9zM446.5 373h62.9v1h-62.9zM446.5 377h62.9v1h-62.9zM446.5 573h62.9v1h-62.9zM446.5 745h62.9v1h-62.9zM509.4 296h62.9v1h-62.9zM509.4 308h62.9v1h-62.9zM509.4 313h62.9v1h-62.9zM509.4 343h62.9v1h-62.9z"/><path fill="#f6f3d2" d="M69.4 132h62.9v1h-62.9zM69.4 242h62.9v1h-62.9zM69.4 262h62.9v1h-62.9zM69.4 271h62.9v1h-62.9zM69.4 274h62.9v1h-62.9zM69.4 326h62.9v1h-62.9zM69.4 338h62.9v1h-62.9zM69.4 351h62.9v1h-62.9zM69.4 375h62.9v1h-62.9zM69.4 408h62.9v1h-62.9zM69.4 439h62.9v1h-62.9zM69.4 467h62.9v1h-62.9zM69.4 473h62.9v2h-62.9zM69.4 487h62.9v1h-62.9zM69.4 512h62.9v1h-62.9zM69.4 611h62.9v1h-62.9zM69.4 767h62.9v1h-62.9zM69.4 789h62.9v1h-62.9zM69.4 791h62.9v1h-62.9zM69.4 805h62.9v1h-62.9zM69.4 810h62.9v1h-62.9zM69.4 818h62.9v1h-62.9zM69.4 822h62.9v2h-62.9zM132.3 88h62.8v1h-62.8zM132.3 100h62.8v1h-62.8zM132.3 118h62.8v1h-62.8zM132.3 132h62.8v1h-62.8zM132.3 134h62.8v2h-62.8zM132.3 144h62.8v3h-62.8zM132.3 148h62.8v1h-62.8zM132.3 152h62.8v1h-62.8zM132.3 155h62.8v1h-62.8zM132.3 217h62.8v1h-62.8zM132.3 247h62.8v1h-62.8zM132.3 266h62.8v1h-62.8zM132.3 279h62.8v1h-62.8zM132.3 287h62.8v1h-62.8zM132.3 305h62.8v1h-62.8zM132.3 318h62.8v2h-62.8zM132.3 335h62.8v1h-62.8zM132.3 425h62.8v1h-62.8zM132.3 444h62.8v1h-62.8zM132.3 448h62.8v2h-62.8zM132.3 497h62.8v1h-62.8zM132.3 530h62.8v1h-62.8zM132.3 690h62.8v1h-62.8zM132.3 725h62.8v1h-62.8zM132.3 798h62.8v1h-62.8zM132.3 806h62.8v3h-62.8zM132.3 810h62.8v2h-62.8zM132.3 818h62.8v1h-62.8zM132.3 822h62.8v1h-62.8zM132.3 835h62.8v1h-62.8zM195.1 65h62.9v2h-62.9zM195.1 71h62.9v1h-62.9zM195.1 75h62.9v1h-62.9zM195.1 78h62.9v1h-62.9zM195.1 80h62.9v1h-62.9zM195.1 85h62.9v1h-62.9zM195.1 88h62.9v1h-62.9zM195.1 92h62.9v1h-62.9zM195.1 98h62.9v1h-62.9zM195.1 101h62.9v1h-62.9zM195.1 105h62.9v1h-62.9zM195.1 107h62.9v1h-62.9zM195.1 111h62.9v2h-62.9zM195.1 122h62.9v1h-62.9zM195.1 124h62.9v1h-62.9zM195.1 133h62.9v2h-62.9zM195.1 139h62.9v1h-62.9zM195.1 141h62.9v2h-62.9zM195.1 144h62.9v2h-62.9zM195.1 147h62.9v1h-62.9zM195.1 149h62.9v1h-62.9zM195.1 167h62.9v1h-62.9zM195.1 172h62.9v5h-62.9zM195.1 186h62.9v1h-62.9zM195.1 188h62.9v1h-62.9zM195.1 190h62.9v2h-62.9zM195.1 196h62.9v1h-62.9zM195.1 209h62.9v1h-62.9zM195.1 222h62.9v1h-62.9zM195.1 224h62.9v1h-62.9zM195.1 226h62.9v1h-62.9zM195.1 228h62.9v1h-62.9zM195.1 234h62.9v1h-62.9zM195.1 237h62.9v1h-62.9zM195.1 252h62.9v1h-62.9zM195.1 254h62.9v2h-62.9zM195.1 257h62.9v1h-62.9zM195.1 273h62.9v3h-62.9zM195.1 295h62.9v1h-62.9zM195.1 302h62.9v1h-62.9zM195.1 311h62.9v2h-62.9zM195.1 315h62.9v1h-62.9zM195.1 357h62.9v1h-62.9zM195.1 365h62.9v2h-62.9zM195.1 445h62.9v1h-62.9zM195.1 449h62.9v1h-62.9zM195.1 494h62.9v1h-62.9zM195.1 501h62.9v1h-62.9zM195.1 503h62.9v1h-62.9zM195.1 515h62.9v1h-62.9zM195.1 525h62.9v1h-62.9zM195.1 536h62.9v1h-62.9zM195.1 567h62.9v1h-62.9zM195.1 596h62.9v1h-62.9zM195.1 604h62.9v1h-62.9zM195.1 607h62.9v1h-62.9zM195.1 634h62.9v1h-62.9zM195.1 652h62.9v1h-62.9zM195.1 679h62.9v1h-62.9zM195.1 682h62.9v1h-62.9zM195.1 693h62.9v1h-62.9zM195.1 697h62.9v1h-62.9zM195.1 699h62.9v1h-62.9zM195.1 713h62.9v1h-62.9zM195.1 721h62.9v1h-62.9zM195.1 723h62.9v1h-62.9zM195.1 725h62.9v2h-62.9zM195.1 762h62.9v1h-62.9zM195.1 788h62.9v4h-62.9zM195.1 793h62.9v1h-62.9zM195.1 796h62.9v1h-62.9zM195.1 799h62.9v1h-62.9zM195.1 804h62.9v1h-62.9zM195.1 816h62.9v3h-62.9zM195.1 822h62.9v1h-62.9zM195.1 824h62.9v2h-62.9zM195.1 828h62.9v1h-62.9zM195.1 835h62.9v1h-62.9zM258 261h62.8v1h-62.8zM258 280h62.8v1h-62.8zM258 420h62.8v2h-62.8zM258 443h62.8v2h-62.8zM258 688h62.8v1h-62.8zM258 729h62.8v1h-62.8zM258 747h62.8v1h-62.8zM258 793h62.8v1h-62.8zM258 837h62.8v1h-62.8zM320.8 160h62.9v5h-62.9zM320.8 174h62.9v1h-62.9zM320.8 179h62.9v1h-62.9zM320.8 186h62.9v1h-62.9zM320.8 188h62.9v1h-62.9zM320.8 199h62.9v1h-62.9zM320.8 204h62.9v1h-62.9zM320.8 206h62.9v1h-62.9zM320.8 210h62.9v1h-62.9zM320.8 214h62.9v1h-62.9zM320.8 226h62.9v1h-62.9zM320.8 232h62.9v1h-62.9zM320.8 235h62.9v1h-62.9zM320.8 242h62.9v1h-62.9zM320.8 246h62.9v2h-62.9zM320.8 279h62.9v1h-62.9zM320.8 316h62.9v2h-62.9zM320.8 421h62.9v1h-62.9zM320.8 434h62.9v1h-62.9zM320.8 455h62.9v2h-62.9zM320.8 466h62.9v1h-62.9zM320.8 796h62.9v1h-62.9zM320.8 822h62.9v1h-62.9zM320.8 824h62.9v1h-62.9zM383.7 74h62.8v1h-62.8zM383.7 76h62.8v1h-62.8zM383.7 84h62.8v1h-62.8zM383.7 94h62.8v1h-62.8zM383.7 98h62.8v1h-62.8zM383.7 106h62.8v1h-62.8zM383.7 113h62.8v1h-62.8zM383.7 117h62.8v1h-62.8zM383.7 120h62.8v1h-62.8zM383.7 134h62.8v4h-62.8zM383.7 152h62.8v1h-62.8zM383.7 273h62.8v1h-62.8zM383.7 275h62.8v1h-62.8zM383.7 285h62.8v1h-62.8zM383.7 295h62.8v1h-62.8zM383.7 312h62.8v1h-62.8zM383.7 341h62.8v1h-62.8zM383.7 346h62.8v3h-62.8zM383.7 350h62.8v1h-62.8zM383.7 379h62.8v1h-62.8zM383.7 400h62.8v1h-62.8zM383.7 415h62.8v1h-62.8zM383.7 457h62.8v1h-62.8zM383.7 472h62.8v1h-62.8zM383.7 789h62.8v1h-62.8zM383.7 804h62.8v1h-62.8zM383.7 808h62.8v1h-62.8zM383.7 821h62.8v1h-62.8zM383.7 829h62.8v1h-62.8zM383.7 832h62.8v1h-62.8zM383.7 838h62.8v1.3h-62.8zM446.5 94h62.9v2h-62.9zM446.5 120h62.9v1h-62.9zM446.5 124h62.9v1h-62.9zM446.5 149h62.9v1h-62.9zM446.5 324h62.9v1h-62.9zM446.5 327h62.9v2h-62.9zM446.5 342h62.9v2h-62.9zM446.5 352h62.9v1h-62.9zM446.5 369h62.9v1h-62.9zM446.5 418h62.9v1h-62.9zM446.5 423h62.9v2h-62.9zM446.5 438h62.9v1h-62.9zM446.5 440h62.9v1h-62.9zM446.5 527h62.9v1h-62.9zM446.5 559h62.9v1h-62.9zM446.5 565h62.9v2h-62.9zM446.5 676h62.9v1h-62.9zM446.5 755h62.9v1h-62.9zM446.5 773h62.9v1h-62.9zM446.5 790h62.9v1h-62.9zM446.5 792h62.9v3h-62.9zM446.5 800h62.9v1h-62.9zM446.5 803h62.9v1h-62.9zM446.5 811h62.9v1h-62.9zM446.5 813h62.9v1h-62.9zM446.5 829h62.9v2h-62.9zM509.4 118h62.9v1h-62.9zM509.4 141h62.9v1h-62.9zM509.4 169h62.9v1h-62.9zM509.4 315h62.9v3h-62.9zM509.4 327h62.9v1h-62.9zM509.4 356h62.9v1h-62.9zM509.4 375h62.9v1h-62.9zM509.4 377h62.9v1h-62.9zM509.4 389h62.9v1h-62.9zM509.4 395h62.9v1h-62.9zM509.4 420h62.9v1h-62.9zM509.4 424h62.9v1h-62.9zM509.4 472h62.9v1h-62.9zM509.4 482h62.9v1h-62.9zM509.4 489h62.9v1h-62.9zM509.4 637h62.9v1h-62.9zM509.4 720h62.9v1h-62.9zM509.4 781h62.9v1h-62.9zM509.4 793h62.9v1h-62.9zM509.4 802h62.9v1h-62.9zM509.4 814h62.9v1h-62.9zM509.4 830h62.9v1h-62.9zM509.4 832h62.9v2h-62.9z"/><path fill="#d5dfde" d="M69.4 160h62.9v1h-62.9zM69.4 172h62.9v1h-62.9zM69.4 194h62.9v1h-62.9zM69.4 197h62.9v1h-62.9zM69.4 207h62.9v1h-62.9zM69.4 237h62.9v1h-62.9zM69.4 485h62.9v1h-62.9zM69.4 520h62.9v1h-62.9zM69.4 523h62.9v1h-62.9zM69.4 561h62.9v1h-62.9zM69.4 566h62.9v1h-62.9zM69.4 618h62.9v1h-62.9zM69.4 628h62.9v2h-62.9zM69.4 645h62.9v1h-62.9zM69.4 651h62.9v1h-62.9zM69.4 676h62.9v1h-62.9zM69.4 735h62.9v1h-62.9zM69.4 779h62.9v1h-62.9zM69.4 783h62.9v1h-62.9zM258 76h62.8v1h-62.8zM258 88h62.8v1h-62.8zM258 97h62.8v1h-62.8zM258 102h62.8v1h-62.8zM258 105h62.8v1h-62.8zM258 113h62.8v1h-62.8zM258 116h62.8v1h-62.8zM258 124h62.8v1h-62.8zM258 128h62.8v1h-62.8zM258 145h62.8v1h-62.8zM258 170h62.8v1h-62.8zM258 189h62.8v1h-62.8zM258 208h62.8v2h-62.8zM258 229h62.8v1h-62.8zM258 311h62.8v1h-62.8zM258 331h62.8v1h-62.8zM258 333h62.8v1h-62.8zM258 344h62.8v2h-62.8zM258 426h62.8v1h-62.8zM258 469h62.8v1h-62.8zM258 475h62.8v1h-62.8zM258 480h62.8v1h-62.8zM258 482h62.8v1h-62.8zM258 498h62.8v1h-62.8zM258 504h62.8v1h-62.8zM258 514h62.8v1h-62.8zM258 517h62.8v1h-62.8zM258 532h62.8v1h-62.8zM258 542h62.8v1h-62.8zM258 547h62.8v1h-62.8zM258 556h62.8v1h-62.8zM258 572h62.8v1h-62.8zM258 588h62.8v1h-62.8zM258 592h62.8v1h-62.8zM258 594h62.8v1h-62.8zM258 603h62.8v1h-62.8zM258 609h62.8v2h-62.8zM258 639h62.8v1h-62.8zM258 641h62.8v1h-62.8zM258 646h62.8v1h-62.8zM258 653h62.8v1h-62.8zM258 657h62.8v1h-62.8zM258 663h62.8v2h-62.8zM258 692h62.8v1h-62.8zM509.4 74h62.9v1h-62.9zM509.4 103h62.9v1h-62.9zM509.4 163h62.9v1h-62.9zM509.4 182h62.9v1h-62.9zM509.4 197h62.9v2h-62.9zM509.4 205h62.9v1h-62.9zM509.4 272h62.9v1h-62.9zM509.4 355h62.9v1h-62.9zM509.4 367h62.9v1h-62.9zM509.4 369h62.9v1h-62.9zM509.4 440h62.9v2h-62.9zM509.4 447h62.9v1h-62.9zM509.4 498h62.9v1h-62.9zM509.4 519h62.9v1h-62.9zM509.4 543h62.9v1h-62.9zM509.4 589h62.9v1h-62.9zM509.4 610h62.9v1h-62.9zM509.4 618h62.9v1h-62.9zM509.4 642h62.9v1h-62.9zM509.4 646h62.9v1h-62.9zM509.4 714h62.9v1h-62.9zM509.4 776h62.9v1h-62.9zM509.4 786h62.9v1h-62.9z"/><path fill="#d7e0dd" d="M69.4 164h62.9v1h-62.9zM69.4 170h62.9v1h-62.9zM69.4 183h62.9v1h-62.9zM69.4 195h62.9v1h-62.9zM69.4 211h62.9v1h-62.9zM69.4 221h62.9v1h-62.9zM69.4 230h62.9v1h-62.9zM69.4 236h62.9v1h-62.9zM69.4 397h62.9v1h-62.9zM69.4 481h62.9v1h-62.9zM69.4 507h62.9v1h-62.9zM69.4 522h62.9v1h-62.9zM69.4 532h62.9v1h-62.9zM69.4 550h62.9v1h-62.9zM69.4 554h62.9v1h-62.9zM69.4 568h62.9v1h-62.9zM69.4 588h62.9v1h-62.9zM69.4 643h62.9v1h-62.9zM69.4 646h62.9v1h-62.9zM69.4 661h62.9v1h-62.9zM69.4 675h62.9v1h-62.9zM69.4 679h62.9v1h-62.9zM69.4 687h62.9v2h-62.9zM69.4 718h62.9v1h-62.9zM69.4 722h62.9v1h-62.9zM69.4 748h62.9v2h-62.9zM69.4 782h62.9v1h-62.9zM258 71h62.8v1h-62.8zM258 75h62.8v1h-62.8zM258 77h62.8v1h-62.8zM258 84h62.8v1h-62.8zM258 112h62.8v1h-62.8zM258 118h62.8v1h-62.8zM258 138h62.8v1h-62.8zM258 147h62.8v1h-62.8zM258 164h62.8v1h-62.8zM258 173h62.8v1h-62.8zM258 179h62.8v1h-62.8zM258 181h62.8v1h-62.8zM258 206h62.8v1h-62.8zM258 211h62.8v1h-62.8zM258 255h62.8v1h-62.8zM258 279h62.8v1h-62.8zM258 305h62.8v1h-62.8zM258 307h62.8v1h-62.8zM258 312h62.8v1h-62.8zM258 334h62.8v1h-62.8zM258 339h62.8v1h-62.8zM258 357h62.8v1h-62.8zM258 359h62.8v1h-62.8zM258 409h62.8v1h-62.8zM258 476h62.8v1h-62.8zM258 488h62.8v1h-62.8zM258 502h62.8v1h-62.8zM258 506h62.8v1h-62.8zM258 515h62.8v1h-62.8zM258 518h62.8v1h-62.8zM258 521h62.8v2h-62.8zM258 524h62.8v1h-62.8zM258 544h62.8v1h-62.8zM258 548h62.8v1h-62.8zM258 553h62.8v1h-62.8zM258 577h62.8v1h-62.8zM258 580h62.8v1h-62.8zM258 584h62.8v1h-62.8zM258 589h62.8v1h-62.8zM258 604h62.8v1h-62.8zM258 611h62.8v1h-62.8zM258 625h62.8v1h-62.8zM258 680h62.8v1h-62.8zM258 686h62.8v2h-62.8zM258 702h62.8v1h-62.8zM258 708h62.8v1h-62.8zM258 751h62.8v1h-62.8zM258 782h62.8v1h-62.8zM383.7 307h62.8v1h-62.8zM383.7 429h62.8v1h-62.8zM509.4 126h62.9v1h-62.9zM509.4 201h62.9v1h-62.9zM509.4 212h62.9v1h-62.9zM509.4 228h62.9v1h-62.9zM509.4 233h62.9v1h-62.9zM509.4 238h62.9v1h-62.9zM509.4 357h62.9v1h-62.9zM509.4 365h62.9v1h-62.9zM509.4 370h62.9v1h-62.9zM509.4 380h62.9v1h-62.9zM509.4 439h62.9v1h-62.9zM509.4 445h62.9v1h-62.9zM509.4 488h62.9v1h-62.9zM509.4 509h62.9v1h-62.9zM509.4 512h62.9v1h-62.9zM509.4 516h62.9v1h-62.9zM509.4 520h62.9v1h-62.9zM509.4 538h62.9v1h-62.9zM509.4 549h62.9v1h-62.9zM509.4 553h62.9v1h-62.9zM509.4 558h62.9v1h-62.9zM509.4 591h62.9v1h-62.9zM509.4 615h62.9v1h-62.9zM509.4 641h62.9v1h-62.9zM509.4 671h62.9v1h-62.9zM509.4 683h62.9v1h-62.9zM509.4 697h62.9v1h-62.9zM509.4 728h62.9v1h-62.9zM509.4 744h62.9v1h-62.9zM509.4 755h62.9v1h-62.9zM509.4 757h62.9v1h-62.9zM509.4 759h62.9v1h-62.9zM509.4 779h62.9v1h-62.9zM509.4 783h62.9v1h-62.9z"/><path fill="#cedddf" d="M69.4 192h62.9v1h-62.9zM69.4 217h62.9v1h-62.9zM69.4 396h62.9v1h-62.9zM258 180h62.8v1h-62.8zM258 230h62.8v1h-62.8zM258 276h62.8v1h-62.8zM258 282h62.8v1h-62.8zM258 341h62.8v1h-62.8zM258 353h62.8v1h-62.8zM258 406h62.8v1h-62.8zM258 512h62.8v1h-62.8zM258 582h62.8v1h-62.8zM258 707h62.8v1h-62.8zM258 742h62.8v1h-62.8zM509.4 131h62.9v2h-62.9zM509.4 222h62.9v1h-62.9zM509.4 235h62.9v1h-62.9zM509.4 240h62.9v1h-62.9zM509.4 451h62.9v1h-62.9zM509.4 604h62.9v1h-62.9zM509.4 608h62.9v1h-62.9zM509.4 649h62.9v1h-62.9zM509.4 660h62.9v1h-62.9zM509.4 670h62.9v1h-62.9zM509.4 700h62.9v1h-62.9zM509.4 707h62.9v1h-62.9zM509.4 719h62.9v1h-62.9zM509.4 765h62.9v1h-62.9zM509.4 777h62.9v1h-62.9zM509.4 782h62.9v1h-62.9z"/><path fill="#efc5a1" d="M69.4 200h62.9v1h-62.9zM69.4 280h62.9v1h-62.9zM132.3 61.7h62.8v0.3h-62.8zM132.3 69h62.8v1h-62.8zM132.3 71h62.8v1h-62.8zM132.3 76h62.8v1h-62.8zM132.3 179h62.8v1h-62.8zM132.3 274h62.8v1h-62.8zM132.3 276h62.8v1h-62.8zM132.3 362h62.8v1h-62.8zM132.3 376h62.8v1h-62.8zM132.3 407h62.8v1h-62.8zM132.3 592h62.8v1h-62.8zM132.3 611h62.8v1h-62.8zM195.1 325h62.9v1h-62.9zM195.1 327h62.9v1h-62.9zM320.8 86h62.9v1h-62.9zM320.8 105h62.9v1h-62.9zM320.8 126h62.9v1h-62.9zM320.8 150h62.9v1h-62.9zM320.8 364h62.9v1h-62.9zM320.8 487h62.9v1h-62.9zM320.8 491h62.9v1h-62.9zM320.8 528h62.9v1h-62.9zM320.8 563h62.9v1h-62.9zM320.8 604h62.9v1h-62.9zM320.8 623h62.9v1h-62.9zM320.8 648h62.9v1h-62.9zM320.8 689h62.9v1h-62.9zM320.8 701h62.9v1h-62.9zM320.8 708h62.9v1h-62.9zM320.8 726h62.9v1h-62.9zM320.8 736h62.9v2h-62.9zM320.8 755h62.9v1h-62.9zM320.8 778h62.9v1h-62.9zM320.8 784h62.9v2h-62.9zM383.7 485h62.8v1h-62.8zM383.7 517h62.8v1h-62.8zM383.7 530h62.8v1h-62.8zM383.7 543h62.8v1h-62.8zM446.5 311h62.9v1h-62.9zM446.5 339h62.9v1h-62.9zM446.5 408h62.9v1h-62.9zM509.4 149h62.9v1h-62.9zM509.4 152h62.9v1h-62.9z"/><path fill="#ccdce0" d="M69.4 239h62.9v1h-62.9zM69.4 359h62.9v1h-62.9zM69.4 361h62.9v1h-62.9zM69.4 367h62.9v1h-62.9zM69.4 369h62.9v1h-62.9zM258 62h62.8v1h-62.8zM258 78h62.8v1h-62.8zM258 135h62.8v1h-62.8zM258 356h62.8v1h-62.8zM258 369h62.8v1h-62.8zM258 399h62.8v1h-62.8zM258 407h62.8v1h-62.8zM258 416h62.8v1h-62.8zM258 467h62.8v1h-62.8zM258 473h62.8v1h-62.8zM258 536h62.8v1h-62.8zM258 601h62.8v1h-62.8zM258 651h62.8v1h-62.8zM258 683h62.8v1h-62.8zM258 765h62.8v1h-62.8zM509.4 210h62.9v1h-62.9zM509.4 223h62.9v1h-62.9zM509.4 358h62.9v2h-62.9zM509.4 452h62.9v1h-62.9zM509.4 612h62.9v1h-62.9zM509.4 661h62.9v1h-62.9z"/><path fill="#f0caa5" d="M69.4 279h62.9v1h-62.9zM69.4 303h62.9v1h-62.9zM69.4 305h62.9v1h-62.9zM69.4 345h62.9v1h-62.9zM132.3 70h62.8v1h-62.8zM132.3 174h62.8v1h-62.8zM132.3 231h62.8v2h-62.8zM132.3 363h62.8v1h-62.8zM132.3 368h62.8v1h-62.8zM132.3 380h62.8v1h-62.8zM132.3 536h62.8v1h-62.8zM132.3 665h62.8v1h-62.8zM132.3 750h62.8v1h-62.8zM132.3 786h62.8v1h-62.8zM195.1 838h62.9v1.3h-62.9zM258 327h62.8v1h-62.8zM320.8 73h62.9v1h-62.9zM320.8 83h62.9v1h-62.9zM320.8 89h62.9v1h-62.9zM320.8 100h62.9v1h-62.9zM320.8 115h62.9v1h-62.9zM320.8 118h62.9v1h-62.9zM320.8 120h62.9v1h-62.9zM320.8 125h62.9v1h-62.9zM320.8 137h62.9v2h-62.9zM320.8 153h62.9v1h-62.9zM320.8 249h62.9v2h-62.9zM320.8 253h62.9v1h-62.9zM320.8 392h62.9v1h-62.9zM320.8 488h62.9v1h-62.9zM320.8 494h62.9v1h-62.9zM320.8 496h62.9v1h-62.9zM320.8 499h62.9v1h-62.9zM320.8 520h62.9v1h-62.9zM320.8 542h62.9v1h-62.9zM320.8 600h62.9v1h-62.9zM320.8 603h62.9v1h-62.9zM320.8 605h62.9v1h-62.9zM320.8 633h62.9v1h-62.9zM320.8 672h62.9v1h-62.9zM320.8 674h62.9v1h-62.9zM320.8 686h62.9v3h-62.9zM320.8 707h62.9v1h-62.9zM320.8 712h62.9v1h-62.9zM320.8 741h62.9v2h-62.9zM383.7 488h62.8v1h-62.8zM383.7 536h62.8v1h-62.8zM383.7 541h62.8v1h-62.8zM383.7 559h62.8v3h-62.8zM383.7 567h62.8v1h-62.8zM383.7 579h62.8v1h-62.8zM383.7 697h62.8v1h-62.8zM446.5 134h62.9v1h-62.9zM446.5 292h62.9v1h-62.9zM446.5 375h62.9v1h-62.9zM446.5 379h62.9v1h-62.9zM509.4 151h62.9v1h-62.9zM509.4 307h62.9v1h-62.9z"/><path fill="#f1cda7" d="M69.4 281h62.9v1h-62.9zM69.4 285h62.9v1h-62.9zM69.4 294h62.9v1h-62.9zM69.4 304h62.9v1h-62.9zM69.4 340h62.9v1h-62.9zM69.4 771h62.9v1h-62.9zM132.3 190h62.8v1h-62.8zM132.3 235h62.8v1h-62.8zM132.3 260h62.8v1h-62.8zM132.3 273h62.8v1h-62.8zM132.3 356h62.8v2h-62.8zM132.3 371h62.8v2h-62.8zM132.3 377h62.8v1h-62.8zM132.3 402h62.8v1h-62.8zM132.3 408h62.8v1h-62.8zM132.3 477h62.8v1h-62.8zM132.3 546h62.8v1h-62.8zM132.3 566h62.8v1h-62.8zM132.3 569h62.8v1h-62.8zM132.3 572h62.8v1h-62.8zM132.3 617h62.8v1h-62.8zM132.3 743h62.8v1h-62.8zM132.3 767h62.8v1h-62.8zM320.8 69h62.9v1h-62.9zM320.8 74h62.9v2h-62.9zM320.8 84h62.9v1h-62.9zM320.8 110h62.9v1h-62.9zM320.8 114h62.9v1h-62.9zM320.8 124h62.9v1h-62.9zM320.8 154h62.9v1h-62.9zM320.8 368h62.9v1h-62.9zM320.8 378h62.9v1h-62.9zM320.8 486h62.9v1h-62.9zM320.8 492h62.9v1h-62.9zM320.8 498h62.9v1h-62.9zM320.8 504h62.9v1h-62.9zM320.8 521h62.9v1h-62.9zM320.8 538h62.9v2h-62.9zM320.8 571h62.9v1h-62.9zM320.8 579h62.9v1h-62.9zM320.8 583h62.9v1h-62.9zM320.8 598h62.9v1h-62.9zM320.8 608h62.9v1h-62.9zM320.8 613h62.9v1h-62.9zM320.8 615h62.9v1h-62.9zM320.8 620h62.9v2h-62.9zM320.8 624h62.9v1h-62.9zM320.8 649h62.9v1h-62.9zM320.8 653h62.9v1h-62.9zM320.8 671h62.9v1h-62.9zM320.8 696h62.9v1h-62.9zM320.8 702h62.9v1h-62.9zM320.8 718h62.9v1h-62.9zM320.8 738h62.9v2h-62.9zM320.8 754h62.9v1h-62.9zM320.8 771h62.9v1h-62.9zM320.8 786h62.9v1h-62.9zM383.7 161h62.8v1h-62.8zM383.7 176h62.8v1h-62.8zM383.7 187h62.8v1h-62.8zM383.7 189h62.8v1h-62.8zM383.7 197h62.8v1h-62.8zM383.7 207h62.8v1h-62.8zM383.7 211h62.8v1h-62.8zM383.7 478h62.8v1h-62.8zM383.7 505h62.8v1h-62.8zM383.7 546h62.8v1h-62.8zM383.7 548h62.8v1h-62.8zM383.7 566h62.8v1h-62.8zM383.7 616h62.8v1h-62.8zM383.7 633h62.8v1h-62.8zM383.7 687h62.8v1h-62.8zM383.7 700h62.8v1h-62.8zM383.7 739h62.8v1h-62.8zM383.7 748h62.8v1h-62.8zM446.5 374h62.9v1h-62.9zM446.5 378h62.9v1h-62.9zM446.5 590h62.9v1h-62.9zM446.5 711h62.9v1h-62.9z"/><path fill="#edbd9a" d="M69.4 282h62.9v1h-62.9zM132.3 68h62.8v1h-62.8zM132.3 77h62.8v2h-62.8zM132.3 353h62.8v1h-62.8zM195.1 347h62.9v1h-62.9zM195.1 454h62.9v1h-62.9zM195.1 456h62.9v1h-62.9zM320.8 92h62.9v1h-62.9zM320.8 101h62.9v1h-62.9zM320.8 131h62.9v2h-62.9zM320.8 143h62.9v1h-62.9zM320.8 147h62.9v1h-62.9zM320.8 251h62.9v1h-62.9zM320.8 645h62.9v1h-62.9zM320.8 727h62.9v1h-62.9zM320.8 730h62.9v1h-62.9zM383.7 522h62.8v1h-62.8zM383.7 714h62.8v1h-62.8zM446.5 313h62.9v1h-62.9zM446.5 332h62.9v1h-62.9zM446.5 336h62.9v1h-62.9zM446.5 399h62.9v1h-62.9z"/><path fill="#f0c8a3" d="M69.4 283h62.9v1h-62.9zM69.4 342h62.9v1h-62.9zM132.3 63h62.8v1h-62.8zM132.3 66h62.8v2h-62.8zM132.3 72h62.8v1h-62.8zM132.3 182h62.8v1h-62.8zM132.3 366h62.8v1h-62.8zM132.3 369h62.8v1h-62.8zM132.3 375h62.8v1h-62.8zM132.3 378h62.8v1h-62.8zM132.3 398h62.8v1h-62.8zM132.3 512h62.8v1h-62.8zM132.3 547h62.8v1h-62.8zM132.3 619h62.8v1h-62.8zM132.3 837h62.8v2.3h-62.8zM195.1 326h62.9v1h-62.9zM195.1 328h62.9v3h-62.9zM195.1 837h62.9v1h-62.9zM320.8 82h62.9v1h-62.9zM320.8 98h62.9v1h-62.9zM320.8 106h62.9v1h-62.9zM320.8 109h62.9v1h-62.9zM320.8 123h62.9v1h-62.9zM320.8 127h62.9v1h-62.9zM320.8 139h62.9v2h-62.9zM320.8 357h62.9v1h-62.9zM320.8 370h62.9v1h-62.9zM320.8 500h62.9v1h-62.9zM320.8 522h62.9v1h-62.9zM320.8 526h62.9v1h-62.9zM320.8 559h62.9v1h-62.9zM320.8 564h62.9v1h-62.9zM320.8 577h62.9v1h-62.9zM320.8 655h62.9v1h-62.9zM320.8 657h62.9v1h-62.9zM320.8 670h62.9v1h-62.9zM320.8 683h62.9v1h-62.9zM320.8 717h62.9v1h-62.9zM320.8 777h62.9v1h-62.9zM320.8 781h62.9v1h-62.9zM383.7 173h62.8v2h-62.8zM383.7 205h62.8v1h-62.8zM383.7 480h62.8v1h-62.8zM383.7 484h62.8v1h-62.8zM383.7 489h62.8v1h-62.8zM383.7 516h62.8v1h-62.8zM383.7 520h62.8v1h-62.8zM383.7 540h62.8v1h-62.8zM383.7 596h62.8v1h-62.8zM383.7 612h62.8v1h-62.8zM383.7 617h62.8v1h-62.8zM383.7 621h62.8v1h-62.8zM446.5 372h62.9v1h-62.9zM446.5 406h62.9v1h-62.9zM446.5 653h62.9v1h-62.9zM446.5 743h62.9v1h-62.9zM509.4 121h62.9v1h-62.9zM509.4 155h62.9v1h-62.9z"/><path fill="#efc29f" d="M69.4 301h62.9v1h-62.9zM69.4 308h62.9v1h-62.9zM132.3 73h62.8v1h-62.8zM132.3 75h62.8v1h-62.8zM132.3 370h62.8v1h-62.8zM132.3 379h62.8v1h-62.8zM132.3 399h62.8v3h-62.8zM132.3 662h62.8v1h-62.8zM132.3 708h62.8v1h-62.8zM320.8 79h62.9v1h-62.9zM320.8 87h62.9v1h-62.9zM320.8 96h62.9v1h-62.9zM320.8 113h62.9v1h-62.9zM320.8 128h62.9v1h-62.9zM320.8 151h62.9v1h-62.9zM320.8 369h62.9v1h-62.9zM320.8 541h62.9v1h-62.9zM320.8 589h62.9v1h-62.9zM320.8 602h62.9v1h-62.9zM320.8 706h62.9v1h-62.9zM320.8 728h62.9v1h-62.9zM320.8 756h62.9v1h-62.9zM320.8 758h62.9v1h-62.9zM320.8 782h62.9v1h-62.9zM383.7 236h62.8v1h-62.8zM383.7 515h62.8v1h-62.8zM383.7 552h62.8v1h-62.8zM446.5 331h62.9v1h-62.9zM446.5 405h62.9v1h-62.9zM446.5 542h62.9v1h-62.9z"/><path fill="#f2d1ac" d="M69.4 306h62.9v1h-62.9zM132.3 181h62.8v1h-62.8zM132.3 191h62.8v1h-62.8zM132.3 194h62.8v1h-62.8zM132.3 199h62.8v1h-62.8zM132.3 201h62.8v1h-62.8zM132.3 208h62.8v1h-62.8zM132.3 215h62.8v1h-62.8zM132.3 229h62.8v1h-62.8zM132.3 358h62.8v1h-62.8zM132.3 367h62.8v1h-62.8zM132.3 405h62.8v1h-62.8zM132.3 544h62.8v2h-62.8zM132.3 584h62.8v1h-62.8zM132.3 622h62.8v1h-62.8zM132.3 697h62.8v1h-62.8zM132.3 784h62.8v1h-62.8zM195.1 340h62.9v1h-62.9zM258 329h62.8v1h-62.8zM320.8 71h62.9v1h-62.9zM320.8 103h62.9v2h-62.9zM320.8 122h62.9v1h-62.9zM320.8 152h62.9v1h-62.9zM320.8 355h62.9v1h-62.9zM320.8 367h62.9v1h-62.9zM320.8 377h62.9v1h-62.9zM320.8 379h62.9v1h-62.9zM320.8 402h62.9v1h-62.9zM320.8 407h62.9v2h-62.9zM320.8 483h62.9v1h-62.9zM320.8 502h62.9v1h-62.9zM320.8 509h62.9v1h-62.9zM320.8 532h62.9v2h-62.9zM320.8 540h62.9v1h-62.9zM320.8 543h62.9v1h-62.9zM320.8 557h62.9v1h-62.9zM320.8 565h62.9v3h-62.9zM320.8 580h62.9v1h-62.9zM320.8 584h62.9v1h-62.9zM320.8 597h62.9v1h-62.9zM320.8 610h62.9v1h-62.9zM320.8 663h62.9v1h-62.9zM320.8 673h62.9v1h-62.9zM320.8 684h62.9v1h-62.9zM320.8 703h62.9v1h-62.9zM320.8 709h62.9v1h-62.9zM320.8 713h62.9v1h-62.9zM320.8 733h62.9v1h-62.9zM320.8 767h62.9v1h-62.9zM383.7 64h62.8v1h-62.8zM383.7 162h62.8v1h-62.8zM383.7 183h62.8v1h-62.8zM383.7 186h62.8v1h-62.8zM383.7 200h62.8v1h-62.8zM383.7 240h62.8v1h-62.8zM383.7 355h62.8v1h-62.8zM383.7 359h62.8v1h-62.8zM383.7 482h62.8v1h-62.8zM383.7 533h62.8v1h-62.8zM383.7 545h62.8v1h-62.8zM383.7 547h62.8v1h-62.8zM383.7 551h62.8v1h-62.8zM383.7 553h62.8v1h-62.8zM383.7 578h62.8v1h-62.8zM383.7 618h62.8v1h-62.8zM383.7 637h62.8v1h-62.8zM383.7 680h62.8v1h-62.8zM383.7 730h62.8v1h-62.8zM383.7 733h62.8v1h-62.8zM383.7 754h62.8v1h-62.8zM383.7 772h62.8v1h-62.8zM446.5 67h62.9v1h-62.9zM446.5 109h62.9v1h-62.9zM446.5 133h62.9v1h-62.9zM446.5 136h62.9v1h-62.9zM446.5 169h62.9v1h-62.9zM446.5 293h62.9v1h-62.9zM446.5 312h62.9v1h-62.9zM446.5 543h62.9v1h-62.9zM446.5 557h62.9v1h-62.9zM446.5 591h62.9v1h-62.9zM446.5 754h62.9v1h-62.9zM446.5 762h62.9v1h-62.9zM509.4 89h62.9v1h-62.9zM509.4 91h62.9v1h-62.9zM509.4 279h62.9v1h-62.9zM509.4 300h62.9v1h-62.9zM509.4 303h62.9v1h-62.9zM509.4 402h62.9v1h-62.9zM509.4 475h62.9v1h-62.9z"/><path fill="#edba98" d="M69.4 341h62.9v1h-62.9zM69.4 412h62.9v1h-62.9zM69.4 430h62.9v1h-62.9zM195.1 351h62.9v1h-62.9zM195.1 455h62.9v1h-62.9zM320.8 81h62.9v1h-62.9zM320.8 85h62.9v1h-62.9zM320.8 88h62.9v1h-62.9zM320.8 108h62.9v1h-62.9zM320.8 141h62.9v1h-62.9zM320.8 145h62.9v1h-62.9zM320.8 157h62.9v1h-62.9zM320.8 372h62.9v1h-62.9zM320.8 495h62.9v1h-62.9zM320.8 576h62.9v1h-62.9zM320.8 652h62.9v1h-62.9zM383.7 479h62.8v1h-62.8zM446.5 335h62.9v1h-62.9zM446.5 376h62.9v1h-62.9zM446.5 400h62.9v1h-62.9zM446.5 403h62.9v1h-62.9z"/><path fill="#c4d8e0" d="M69.4 357h62.9v1h-62.9zM69.4 364h62.9v1h-62.9zM258 65h62.8v1h-62.8zM258 68h62.8v1h-62.8zM258 72h62.8v1h-62.8zM258 283h62.8v1h-62.8zM258 309h62.8v1h-62.8zM258 336h62.8v1h-62.8zM258 402h62.8v1h-62.8zM258 404h62.8v1h-62.8zM509.4 747h62.9v1h-62.9z"/><path fill="#bfd5e0" d="M69.4 368h62.9v1h-62.9zM509.4 363h62.9v1h-62.9z"/><path fill="#e4a488" d="M69.4 409h62.9v1h-62.9zM69.4 420h62.9v1h-62.9zM132.3 348h62.8v1h-62.8zM320.8 134h62.9v1h-62.9zM320.8 446h62.9v1h-62.9zM320.8 698h62.9v1h-62.9zM446.5 338h62.9v1h-62.9zM446.5 471h62.9v1h-62.9z"/><path fill="#de967f" d="M69.4 410h62.9v1h-62.9zM69.4 425h62.9v1h-62.9zM69.4 427h62.9v1h-62.9zM320.8 256h62.9v1h-62.9zM320.8 445h62.9v1h-62.9zM383.7 460h62.8v1h-62.8zM446.5 273h62.9v1h-62.9zM446.5 276h62.9v1h-62.9zM446.5 465h62.9v1h-62.9zM446.5 474h62.9v1h-62.9z"/><path fill="#e19d84" d="M69.4 411h62.9v1h-62.9zM132.3 349h62.8v2h-62.8zM320.8 107h62.9v1h-62.9zM446.5 468h62.9v1h-62.9zM446.5 473h62.9v1h-62.9z"/><path fill="#e09b82" d="M69.4 413h62.9v1h-62.9zM69.4 424h62.9v1h-62.9zM69.4 432h62.9v1h-62.9zM258 323h62.8v1h-62.8zM320.8 448h62.9v1h-62.9zM320.8 451h62.9v1h-62.9zM446.5 472h62.9v1h-62.9z"/><path fill="#dd947e" d="M69.4 414h62.9v1h-62.9zM258 317h62.8v1h-62.8zM320.8 258h62.9v1h-62.9zM383.7 461h62.8v1h-62.8z"/><path fill="#d98a77" d="M69.4 415h62.9v1h-62.9zM258 322h62.8v1h-62.8zM258 796h62.8v1h-62.8zM258 819h62.8v1h-62.8zM320.8 254h62.9v2h-62.9zM383.7 268h62.8v3h-62.8zM383.7 440h62.8v1h-62.8zM509.4 246h62.9v1h-62.9z"/><path fill="#da8c79" d="M69.4 416h62.9v1h-62.9zM258 321h62.8v1h-62.8zM258 799h62.8v1h-62.8zM320.8 789h62.9v1h-62.9zM509.4 243h62.9v1h-62.9z"/><path fill="#e8ad8f" d="M69.4 417h62.9v1h-62.9zM132.3 463h62.8v1h-62.8zM320.8 252h62.9v1h-62.9z"/><path fill="#ecb796" d="M69.4 418h62.9v1h-62.9zM69.4 433h62.9v1h-62.9zM132.3 192h62.8v1h-62.8zM320.8 111h62.9v1h-62.9zM320.8 144h62.9v1h-62.9zM320.8 149h62.9v1h-62.9zM320.8 159h62.9v1h-62.9zM383.7 521h62.8v1h-62.8zM446.5 337h62.9v1h-62.9zM446.5 398h62.9v1h-62.9z"/><path fill="#e2a086" d="M69.4 419h62.9v1h-62.9zM69.4 426h62.9v1h-62.9zM132.3 351h62.8v1h-62.8zM320.8 447h62.9v1h-62.9zM320.8 450h62.9v1h-62.9zM446.5 467h62.9v1h-62.9zM446.5 469h62.9v1h-62.9z"/><path fill="#db8f7a" d="M69.4 421h62.9v1h-62.9zM258 314h62.8v1h-62.8zM258 319h62.8v1h-62.8zM320.8 788h62.9v1h-62.9z"/><path fill="#e9b092" d="M69.4 422h62.9v1h-62.9zM132.3 347h62.8v1h-62.8zM195.1 462h62.9v1h-62.9zM195.1 464h62.9v1h-62.9zM320.8 93h62.9v1h-62.9zM320.8 119h62.9v1h-62.9zM320.8 130h62.9v1h-62.9zM320.8 133h62.9v1h-62.9zM320.8 135h62.9v1h-62.9zM320.8 142h62.9v1h-62.9zM320.8 146h62.9v1h-62.9z"/><path fill="#ebb494" d="M69.4 423h62.9v1h-62.9zM69.4 434h62.9v1h-62.9zM132.3 346h62.8v1h-62.8zM132.3 462h62.8v1h-62.8zM132.3 464h62.8v1h-62.8zM195.1 463h62.9v1h-62.9zM320.8 112h62.9v1h-62.9zM320.8 477h62.9v1h-62.9zM320.8 697h62.9v1h-62.9zM446.5 333h62.9v2h-62.9zM446.5 401h62.9v2h-62.9zM446.5 407h62.9v1h-62.9z"/><path fill="#e5a78b" d="M69.4 428h62.9v1h-62.9zM320.8 449h62.9v1h-62.9z"/><path fill="#df9881" d="M69.4 429h62.9v1h-62.9zM258 324h62.8v1h-62.8zM320.8 257h62.9v1h-62.9zM320.8 452h62.9v1h-62.9zM446.5 274h62.9v2h-62.9zM446.5 466h62.9v1h-62.9zM446.5 470h62.9v1h-62.9z"/><path fill="#e6aa8d" d="M69.4 431h62.9v1h-62.9zM320.8 94h62.9v1h-62.9zM320.8 158h62.9v1h-62.9zM320.8 646h62.9v1h-62.9z"/><path fill="#eec09c" d="M132.3 62h62.8v1h-62.8zM132.3 74h62.8v1h-62.8zM132.3 275h62.8v1h-62.8zM195.1 346h62.9v1h-62.9zM195.1 348h62.9v3h-62.9zM195.1 453h62.9v1h-62.9zM320.8 80h62.9v1h-62.9zM320.8 95h62.9v1h-62.9zM320.8 102h62.9v1h-62.9zM320.8 129h62.9v1h-62.9zM320.8 136h62.9v1h-62.9zM320.8 148h62.9v1h-62.9zM320.8 365h62.9v1h-62.9zM320.8 527h62.9v1h-62.9zM320.8 601h62.9v1h-62.9zM320.8 654h62.9v1h-62.9zM320.8 729h62.9v1h-62.9zM320.8 735h62.9v1h-62.9zM320.8 764h62.9v1h-62.9zM383.7 190h62.8v1h-62.8zM383.7 371h62.8v1h-62.8zM383.7 699h62.8v1h-62.8zM446.5 404h62.9v1h-62.9z"/><path fill="#c8dae0" d="M258 61.7h62.8v0.3h-62.8zM258 125h62.8v1h-62.8zM258 254h62.8v1h-62.8zM258 308h62.8v1h-62.8zM258 423h62.8v1h-62.8zM258 428h62.8v1h-62.8zM258 579h62.8v1h-62.8zM258 615h62.8v1h-62.8zM509.4 450h62.9v1h-62.9zM509.4 515h62.9v1h-62.9z"/><path fill="#bdd4e0" d="M258 64h62.8v1h-62.8z"/><path fill="#c3d7e0" d="M258 69h62.8v1h-62.8zM258 256h62.8v1h-62.8zM258 400h62.8v1h-62.8zM258 405h62.8v1h-62.8zM258 415h62.8v1h-62.8z"/><path fill="#c1d6e0" d="M258 284h62.8v1h-62.8zM509.4 724h62.9v1h-62.9z"/><path fill="#d68575" d="M258 315h62.8v1h-62.8zM258 797h62.8v1h-62.8zM258 807h62.8v2h-62.8zM258 812h62.8v1h-62.8zM320.8 792h62.9v1h-62.9zM383.7 272h62.8v1h-62.8zM383.7 438h62.8v2h-62.8zM509.4 242h62.9v1h-62.9zM509.4 244h62.9v1h-62.9z"/><path fill="#d88876" d="M258 316h62.8v1h-62.8zM258 318h62.8v1h-62.8zM258 795h62.8v1h-62.8zM383.7 436h62.8v1h-62.8zM509.4 241h62.9v1h-62.9zM509.4 247h62.9v1h-62.9z"/><path fill="#dc917c" d="M258 320h62.8v1h-62.8zM258 798h62.8v1h-62.8z"/><path fill="#c6d9e0" d="M258 401h62.8v1h-62.8zM509.4 362h62.9v1h-62.9z"/><path fill="#d58474" d="M258 794h62.8v1h-62.8zM258 806h62.8v1h-62.8zM258 821h62.8v1h-62.8zM509.4 245h62.9v1h-62.9z"/><path fill="#d17d71" d="M258 800h62.8v1h-62.8zM258 832h62.8v1h-62.8z"/><path fill="#d38073" d="M258 801h62.8v1h-62.8zM258 803h62.8v1h-62.8zM258 809h62.8v1h-62.8zM258 811h62.8v1h-62.8zM258 817h62.8v1h-62.8zM258 827h62.8v1h-62.8zM258 831h62.8v1h-62.8z"/><path fill="#d48274" d="M258 802h62.8v1h-62.8zM258 830h62.8v1h-62.8zM383.7 437h62.8v1h-62.8z"/><path fill="#cf7a70" d="M258 804h62.8v2h-62.8zM258 815h62.8v1h-62.8zM258 822h62.8v3h-62.8zM258 828h62.8v1h-62.8zM258 834h62.8v2h-62.8zM509.4 248h62.9v1h-62.9z"/><path fill="#d27f72" d="M258 810h62.8v1h-62.8zM258 813h62.8v1h-62.8zM258 816h62.8v1h-62.8zM258 818h62.8v1h-62.8zM258 829h62.8v1h-62.8zM258 836h62.8v1h-62.8z"/><path fill="#d78776" d="M258 814h62.8v1h-62.8zM258 820h62.8v1h-62.8zM320.8 790h62.9v2h-62.9zM320.8 793h62.9v1h-62.9zM383.7 271h62.8v1h-62.8zM383.7 435h62.8v1h-62.8z"/><path fill="#d07c71" d="M258 825h62.8v2h-62.8zM258 833h62.8v1h-62.8z"/></g><defs><filter id="hb" x="0" y="0" width="1" height="1"><feGaussianBlur stdDeviation="0.3 0.75"/></filter></defs><rect x="48.60" y="61.60" width="16.00" height="17.30" fill="#424242"/><rect x="48.60" y="78.90" width="16.00" height="81.00" fill="#4a5494"/><rect x="48.60" y="159.90" width="16.00" height="80.70" fill="#b25f60"/><rect x="48.60" y="240.60" width="16.00" height="8.30" fill="#8ecfca"/><rect x="48.60" y="248.90" width="16.00" height="5.60" fill="#3c7a58"/><rect x="48.60" y="254.50" width="16.00" height="3.00" fill="#c9c2c2"/><rect x="48.60" y="257.50" width="16.00" height="3.70" fill="#7a3a5a"/><rect x="48.60" y="261.20" width="16.00" height="2.80" fill="#d8a070"/><rect x="48.60" y="264.00" width="16.00" height="2.00" fill="#b06840"/><rect x="48.60" y="266.00" width="16.00" height="1.60" fill="#e0a050"/><rect x="48.60" y="267.60" width="16.00" height="5.50" fill="#943838"/><rect x="48.60" y="273.10" width="16.00" height="4.20" fill="#80c4b8"/><rect x="48.60" y="277.30" width="16.00" height="37.20" fill="#88bf52"/><rect x="48.60" y="314.50" width="16.00" height="10.30" fill="#c0d468"/><rect x="48.60" y="324.80" width="16.00" height="6.50" fill="#a8a8a8"/><rect x="48.60" y="331.30" width="16.00" height="8.30" fill="#e8f4f0"/><rect x="48.60" y="339.60" width="16.00" height="5.90" fill="#a8cc98"/><rect x="48.60" y="351.50" width="16.00" height="13.40" fill="#a65a98"/><rect x="48.60" y="364.90" width="16.00" height="7.40" fill="#5a5088"/><rect x="48.60" y="372.30" width="16.00" height="4.10" fill="#e0b890"/><rect x="48.60" y="376.40" width="16.00" height="3.60" fill="#e4e0dc"/><rect x="48.60" y="380.00" width="16.00" height="17.80" fill="#f0c8d4"/><rect x="48.60" y="397.80" width="16.00" height="11.30" fill="#8a5ca0"/><rect x="48.60" y="409.10" width="16.00" height="26.10" fill="#d84048"/><rect x="48.60" y="435.20" width="16.00" height="6.00" fill="#7888a8"/><rect x="48.60" y="441.20" width="16.00" height="3.50" fill="#906050"/><rect x="48.60" y="444.70" width="16.00" height="11.30" fill="#e09890"/><rect x="48.60" y="456.00" width="16.00" height="6.00" fill="#a8d0dc"/><rect x="48.60" y="462.00" width="16.00" height="3.50" fill="#5888a8"/><rect x="48.60" y="465.50" width="16.00" height="9.00" fill="#d8c8b0"/><rect x="48.60" y="474.50" width="16.00" height="313.10" fill="#88cbc0"/><rect x="48.60" y="787.60" width="16.00" height="1.80" fill="#a894b4"/><rect x="48.60" y="794.40" width="16.00" height="44.00" fill="#ece870"/><rect x="48.60" y="838.40" width="16.00" height="1.20" fill="#98c070"/><text x="86.0" y="876.8" font-size="31" text-anchor="start" font-style="italic" fill="#111">S3 S4I S4II S4III</text><text x="338.5" y="876.8" font-size="31" text-anchor="start" font-style="italic" fill="#111">S3 S4I S4II S4III</text><line x1="69.5" y1="887.6" x2="313.8" y2="887.6" stroke="#333" stroke-width="3"/><line x1="326.7" y1="887.6" x2="571.0" y2="887.6" stroke="#333" stroke-width="3"/><text x="211.0" y="925.6" font-size="31" text-anchor="middle" font-style="italic" fill="#111">CN13</text><text x="457.0" y="925.6" font-size="31" text-anchor="middle" font-style="italic" fill="#111">CN16</text><line x1="1338.0" y1="127.7" x2="1338.0" y2="762.5" stroke="#f0f0f0" stroke-width="1.2"/><line x1="1435.0" y1="127.7" x2="1435.0" y2="762.5" stroke="#f0f0f0" stroke-width="1.2"/><line x1="1532.2" y1="127.7" x2="1532.2" y2="762.5" stroke="#f0f0f0" stroke-width="1.2"/><line x1="1629.2" y1="127.7" x2="1629.2" y2="762.5" stroke="#f0f0f0" stroke-width="1.2"/><line x1="1386.5" y1="127.7" x2="1386.5" y2="762.5" stroke="#e3e3e3" stroke-width="1.5"/><line x1="1483.6" y1="127.7" x2="1483.6" y2="762.5" stroke="#e3e3e3" stroke-width="1.5"/><line x1="1580.7" y1="127.7" x2="1580.7" y2="762.5" stroke="#e3e3e3" stroke-width="1.5"/><line x1="1677.8" y1="127.7" x2="1677.8" y2="762.5" stroke="#e3e3e3" stroke-width="1.5"/><line x1="1302.2" y1="164.3" x2="1682.0" y2="164.3" stroke="#e3e3e3" stroke-width="1.5"/><line x1="1302.2" y1="226.6" x2="1682.0" y2="226.6" stroke="#e3e3e3" stroke-width="1.5"/><line x1="1302.2" y1="288.8" x2="1682.0" y2="288.8" stroke="#e3e3e3" stroke-width="1.5"/><line x1="1302.2" y1="351.1" x2="1682.0" y2="351.1" stroke="#e3e3e3" stroke-width="1.5"/><line x1="1302.2" y1="413.3" x2="1682.0" y2="413.3" stroke="#e3e3e3" stroke-width="1.5"/><line x1="1302.2" y1="475.6" x2="1682.0" y2="475.6" stroke="#e3e3e3" stroke-width="1.5"/><line x1="1302.2" y1="537.9" x2="1682.0" y2="537.9" stroke="#e3e3e3" stroke-width="1.5"/><line x1="1302.2" y1="600.1" x2="1682.0" y2="600.1" stroke="#e3e3e3" stroke-width="1.5"/><line x1="1302.2" y1="662.4" x2="1682.0" y2="662.4" stroke="#e3e3e3" stroke-width="1.5"/><line x1="1302.2" y1="724.6" x2="1682.0" y2="724.6" stroke="#e3e3e3" stroke-width="1.5"/><line x1="1302.2" y1="126.9" x2="1302.2" y2="763.3" stroke="#666" stroke-width="1.6"/><line x1="1302.2" y1="127.7" x2="1682.0" y2="127.7" stroke="#666" stroke-width="1.6"/><line x1="1302.2" y1="762.5" x2="1682.0" y2="762.5" stroke="#666" stroke-width="1.6"/><line x1="1682.0" y1="126.9" x2="1682.0" y2="291.5" stroke="#6e6e6e" stroke-width="1.6"/><line x1="1682.0" y1="291.5" x2="1682.0" y2="539.0" stroke="#a8a8a8" stroke-width="1.5"/><line x1="1682.0" y1="539.0" x2="1682.0" y2="763.3" stroke="#6e6e6e" stroke-width="1.6"/><line x1="1296.0" y1="164.3" x2="1302.2" y2="164.3" stroke="#444" stroke-width="1.6"/><line x1="1296.0" y1="226.6" x2="1302.2" y2="226.6" stroke="#444" stroke-width="1.6"/><line x1="1296.0" y1="288.8" x2="1302.2" y2="288.8" stroke="#444" stroke-width="1.6"/><line x1="1296.0" y1="351.1" x2="1302.2" y2="351.1" stroke="#444" stroke-width="1.6"/><line x1="1296.0" y1="413.3" x2="1302.2" y2="413.3" stroke="#444" stroke-width="1.6"/><line x1="1296.0" y1="475.6" x2="1302.2" y2="475.6" stroke="#444" stroke-width="1.6"/><line x1="1296.0" y1="537.9" x2="1302.2" y2="537.9" stroke="#444" stroke-width="1.6"/><line x1="1296.0" y1="600.1" x2="1302.2" y2="600.1" stroke="#444" stroke-width="1.6"/><line x1="1296.0" y1="662.4" x2="1302.2" y2="662.4" stroke="#444" stroke-width="1.6"/><line x1="1296.0" y1="724.6" x2="1302.2" y2="724.6" stroke="#444" stroke-width="1.6"/><line x1="1386.5" y1="762.5" x2="1386.5" y2="768.5" stroke="#444" stroke-width="1.6"/><line x1="1483.6" y1="762.5" x2="1483.6" y2="768.5" stroke="#444" stroke-width="1.6"/><line x1="1580.7" y1="762.5" x2="1580.7" y2="768.5" stroke="#444" stroke-width="1.6"/><line x1="1677.8" y1="762.5" x2="1677.8" y2="768.5" stroke="#444" stroke-width="1.6"/><text x="1358.5" y="799.7" font-size="31" text-anchor="middle" fill="#111">2.5</text><text x="1454.5" y="799.7" font-size="31" text-anchor="middle" fill="#111">5.0</text><text x="1557.0" y="799.7" font-size="31" text-anchor="middle" fill="#111">7.5</text><text x="1659.0" y="799.7" font-size="31" text-anchor="middle" fill="#111">10.0</text><text x="1502.3" y="833.4" font-size="31.4" text-anchor="middle" font-style="italic" fill="#111">-log10(Pvalue)</text><text x="1271.0" y="173.8" font-size="31.1" text-anchor="end" fill="#111">RNA Regulation of Transcription Aux/IAA family</text><text x="1273.0" y="230.8" font-size="31.1" text-anchor="end" fill="#111">Signalling Calcium</text><text x="1275.5" y="295.7" font-size="31.1" text-anchor="end" fill="#111">Hormone Metabolism</text><text x="1274.0" y="356.3" font-size="31.1" text-anchor="end" fill="#111">CHO Metabolism</text><text x="1275.0" y="418.9" font-size="31.3" text-anchor="end" fill="#111">RNA Regulation of Transcription</text><text x="1276.0" y="479.9" font-size="30.75" text-anchor="end" fill="#111">Signalling in Sugar and Nutrient Physiology</text><text x="1272.6" y="541.6" font-size="31.1" text-anchor="end" fill="#111">Cell Wall</text><text x="1276.0" y="601.9" font-size="31.1" text-anchor="end" fill="#111">Receptor Kinases</text><text x="1275.5" y="668.5" font-size="31.1" text-anchor="end" fill="#111">MISC</text><text x="1277.0" y="733.1" font-size="31.1" text-anchor="end" fill="#111">Transport</text><circle cx="1665.1" cy="164.3" r="14.6" fill="#1f5a99"/><circle cx="1535.8" cy="226.7" r="15.0" fill="#3a9dc9"/><circle cx="1469.9" cy="288.8" r="15.0" fill="#80c184"/><circle cx="1389.3" cy="351.2" r="15.0" fill="#1f4f91"/><circle cx="1359.0" cy="413.0" r="15.0" fill="#7a2a24"/><circle cx="1347.6" cy="475.6" r="14.7" fill="#2b3480"/><circle cx="1326.7" cy="537.6" r="15.0" fill="#3096c6"/><path d="M1331.6 524.2L1345.0 537.6L1331.6 551.0L1318.2 537.6Z" fill="#2a74b0"/><circle cx="1319.2" cy="599.7" r="14.7" fill="#252d78"/><path d="M1463.3 648.5L1477.3 662.5L1463.3 676.5L1449.3 662.5Z" fill="#c8432f"/><path d="M1402.2 710.6L1416.2 724.6L1402.2 738.6L1388.2 724.6Z" fill="#9dcc6e"/><text x="1691.0" y="311.8" font-size="26.5" text-anchor="start" fill="#111">GeneRatio</text><defs><linearGradient id="cb" x1="0" y1="0" x2="0" y2="1"><stop offset="0" stop-color="#8f2d30"/><stop offset="0.055" stop-color="#ab2a2e"/><stop offset="0.119" stop-color="#c8402c"/><stop offset="0.199" stop-color="#d86834"/><stop offset="0.264" stop-color="#e59a35"/><stop offset="0.312" stop-color="#ebc033"/><stop offset="0.356" stop-color="#e4d43c"/><stop offset="0.409" stop-color="#c8d04c"/><stop offset="0.457" stop-color="#a8c860"/><stop offset="0.521" stop-color="#5eb490"/><stop offset="0.57" stop-color="#30a8a8"/><stop offset="0.594" stop-color="#28a8c0"/><stop offset="0.642" stop-color="#2aa2d0"/><stop offset="0.706" stop-color="#2e98cc"/><stop offset="0.755" stop-color="#2370b0"/><stop offset="0.795" stop-color="#1f5a9c"/><stop offset="0.831" stop-color="#1e4a8c"/><stop offset="0.884" stop-color="#213c84"/><stop offset="0.94" stop-color="#292f7c"/><stop offset="1.0" stop-color="#2b2d7c"/></linearGradient></defs><rect x="1695.10" y="333.10" width="38.70" height="194.00" fill="url(#cb)"/><line x1="1695.1" y1="356.2" x2="1702.5" y2="356.2" stroke="#fff" stroke-width="1.2"/><line x1="1726.4" y1="356.2" x2="1733.8" y2="356.2" stroke="#fff" stroke-width="1.2"/><text x="1742.0" y="366.4" font-size="27" text-anchor="start" fill="#111">0.20</text><line x1="1695.1" y1="402.2" x2="1702.5" y2="402.2" stroke="#fff" stroke-width="1.2"/><line x1="1726.4" y1="402.2" x2="1733.8" y2="402.2" stroke="#fff" stroke-width="1.2"/><text x="1742.0" y="412.4" font-size="27" text-anchor="start" fill="#111">0.15</text><line x1="1695.1" y1="448.3" x2="1702.5" y2="448.3" stroke="#fff" stroke-width="1.2"/><line x1="1726.4" y1="448.3" x2="1733.8" y2="448.3" stroke="#fff" stroke-width="1.2"/><text x="1742.0" y="458.5" font-size="27" text-anchor="start" fill="#111">0.10</text><line x1="1695.1" y1="494.3" x2="1702.5" y2="494.3" stroke="#fff" stroke-width="1.2"/><line x1="1726.4" y1="494.3" x2="1733.8" y2="494.3" stroke="#fff" stroke-width="1.2"/><text x="1742.0" y="504.5" font-size="27" text-anchor="start" fill="#111">0.05</text><circle cx="1717.5" cy="635.9" r="15.2" fill="#111"/><path d="M1717.5 659.8L1732.0 674.3L1717.5 688.8L1703.0 674.3Z" fill="#111"/><text x="1750.0" y="650.9" font-size="26.7" text-anchor="start" fill="#111">Upregulated</text><text x="1750.0" y="682.6" font-size="26.7" text-anchor="start" fill="#111">Downregulated</text><line x1="97.1" y1="1011.8" x2="462.3" y2="1011.8" stroke="#707070" stroke-width="1.6"/><line x1="459.8" y1="1011.0" x2="459.8" y2="1299.5" stroke="#707070" stroke-width="1.4"/><line x1="97.1" y1="1011.0" x2="97.1" y2="1300.3" stroke="#000" stroke-width="1.6"/><line x1="96.3" y1="1299.5" x2="460.6" y2="1299.5" stroke="#000" stroke-width="1.6"/><line x1="90.6" y1="1299.5" x2="97.1" y2="1299.5" stroke="#000" stroke-width="1.6"/><text transform="translate(82.9 1310.3) scale(1.0 1.07)" font-size="29" text-anchor="end">8</text><line x1="90.6" y1="1258.4" x2="97.1" y2="1258.4" stroke="#000" stroke-width="1.6"/><text transform="translate(82.9 1269.5) scale(1.0 1.07)" font-size="29" text-anchor="end">9</text><line x1="90.6" y1="1217.3" x2="97.1" y2="1217.3" stroke="#000" stroke-width="1.6"/><text transform="translate(82.9 1228.3) scale(1.0 1.07)" font-size="29" text-anchor="end">10</text><line x1="90.6" y1="1176.2" x2="97.1" y2="1176.2" stroke="#000" stroke-width="1.6"/><text transform="translate(82.9 1187.1) scale(1.0 1.07)" font-size="29" text-anchor="end">11</text><line x1="90.6" y1="1135.1" x2="97.1" y2="1135.1" stroke="#000" stroke-width="1.6"/><text transform="translate(82.9 1146.1) scale(1.0 1.07)" font-size="29" text-anchor="end">12</text><line x1="90.6" y1="1094.0" x2="97.1" y2="1094.0" stroke="#000" stroke-width="1.6"/><text transform="translate(82.9 1104.9) scale(1.0 1.07)" font-size="29" text-anchor="end">13</text><line x1="90.6" y1="1052.9" x2="97.1" y2="1052.9" stroke="#000" stroke-width="1.6"/><text transform="translate(82.9 1064.7) scale(1.0 1.07)" font-size="29" text-anchor="end">14</text><line x1="90.6" y1="1011.8" x2="97.1" y2="1011.8" stroke="#000" stroke-width="1.6"/><text transform="translate(82.9 1028.4) scale(1.0 1.07)" font-size="29" text-anchor="end">15</text><line x1="97.1" y1="1299.5" x2="97.1" y2="1306.0" stroke="#000" stroke-width="1.6"/><line x1="188.5" y1="1299.5" x2="188.5" y2="1306.0" stroke="#000" stroke-width="1.6"/><line x1="278.1" y1="1299.5" x2="278.1" y2="1306.0" stroke="#000" stroke-width="1.6"/><line x1="368.6" y1="1299.5" x2="368.6" y2="1306.0" stroke="#000" stroke-width="1.6"/><line x1="459.1" y1="1299.5" x2="459.1" y2="1306.0" stroke="#000" stroke-width="1.6"/><text transform="translate(151.3 1338.5) scale(1.0 1.045)" font-size="27.8" text-anchor="middle">S3</text><text transform="translate(235.2 1338.5) scale(1.0 1.045)" font-size="27.8" text-anchor="middle">S4I</text><text transform="translate(322.3 1338.5) scale(1.0 1.045)" font-size="27.8" text-anchor="middle">S4II</text><text transform="translate(414.7 1338.5) scale(1.0 1.045)" font-size="27.8" text-anchor="middle">S4III</text><text transform="translate(282.0 992.0) scale(1.0 1.12)" font-size="30.5" text-anchor="middle">ACO1</text><polyline points="142.8,1283.5 233.3,1258.8 323.4,1215.7 413.9,1042.2" fill="none" stroke="#4672a8" stroke-width="3.2" stroke-linejoin="round"/><polyline points="142.8,1232.9 233.3,1189.4 323.4,1217.3 413.9,1240.7" fill="none" stroke="#ad4a46" stroke-width="3.2" stroke-linejoin="round"/><path d="M142.8 1275.9L149.8 1283.5L142.8 1291.1L135.8 1283.5Z" fill="#4a7cb9"/><path d="M233.3 1251.2L240.3 1258.8L233.3 1266.4L226.3 1258.8Z" fill="#4a7cb9"/><path d="M323.4 1208.1L330.4 1215.7L323.4 1223.3L316.4 1215.7Z" fill="#4a7cb9"/><path d="M413.9 1034.6L420.9 1042.2L413.9 1049.8L406.9 1042.2Z" fill="#4a7cb9"/><rect x="135.20" y="1224.62" width="15.20" height="15.40" fill="#be4d49" stroke="#a8403d" stroke-width="0.8"/><rect x="225.70" y="1181.05" width="15.20" height="15.40" fill="#be4d49" stroke="#a8403d" stroke-width="0.8"/><rect x="315.80" y="1209.00" width="15.20" height="15.40" fill="#be4d49" stroke="#a8403d" stroke-width="0.8"/><rect x="406.30" y="1232.43" width="15.20" height="15.40" fill="#be4d49" stroke="#a8403d" stroke-width="0.8"/><line x1="538.7" y1="1016.6" x2="886.8" y2="1016.6" stroke="#666" stroke-width="1.6"/><line x1="886.8" y1="1015.8" x2="886.8" y2="1302.9" stroke="#4a4a4a" stroke-width="1.4"/><line x1="538.7" y1="1015.8" x2="538.7" y2="1303.7" stroke="#000" stroke-width="1.6"/><line x1="537.9" y1="1302.9" x2="887.6" y2="1302.9" stroke="#000" stroke-width="1.6"/><line x1="532.2" y1="1302.9" x2="538.7" y2="1302.9" stroke="#000" stroke-width="1.6"/><text transform="translate(516.7 1302.8) scale(1.0 1.07)" font-size="28.5" text-anchor="end">8</text><line x1="532.2" y1="1255.2" x2="538.7" y2="1255.2" stroke="#000" stroke-width="1.6"/><text transform="translate(520.7 1263.6) scale(1.0 1.07)" font-size="28.5" text-anchor="end">8.5</text><line x1="532.2" y1="1207.5" x2="538.7" y2="1207.5" stroke="#000" stroke-width="1.6"/><text transform="translate(515.5 1217.6) scale(1.0 1.07)" font-size="28.5" text-anchor="end">9</text><line x1="532.2" y1="1159.8" x2="538.7" y2="1159.8" stroke="#000" stroke-width="1.6"/><text transform="translate(519.7 1169.0) scale(1.0 1.07)" font-size="28.5" text-anchor="end">9.5</text><line x1="532.2" y1="1112.0" x2="538.7" y2="1112.0" stroke="#000" stroke-width="1.6"/><text transform="translate(515.5 1121.1) scale(1.0 1.07)" font-size="28.5" text-anchor="end">10</text><line x1="532.2" y1="1064.3" x2="538.7" y2="1064.3" stroke="#000" stroke-width="1.6"/><text transform="translate(518.2 1075.5) scale(1.0 1.07)" font-size="28.5" text-anchor="end">10.5</text><line x1="532.2" y1="1016.6" x2="538.7" y2="1016.6" stroke="#000" stroke-width="1.6"/><text transform="translate(517.2 1034.7) scale(1.0 1.07)" font-size="28.5" text-anchor="end">11</text><line x1="538.9" y1="1302.9" x2="538.9" y2="1309.4" stroke="#000" stroke-width="1.6"/><line x1="624.6" y1="1302.9" x2="624.6" y2="1309.4" stroke="#000" stroke-width="1.6"/><line x1="713.6" y1="1302.9" x2="713.6" y2="1309.4" stroke="#000" stroke-width="1.6"/><line x1="799.9" y1="1302.9" x2="799.9" y2="1309.4" stroke="#000" stroke-width="1.6"/><line x1="886.5" y1="1302.9" x2="886.5" y2="1309.4" stroke="#000" stroke-width="1.6"/><text transform="translate(579.8 1339.4) scale(1.0 1.045)" font-size="27.8" text-anchor="middle">S3</text><text transform="translate(663.7 1339.4) scale(1.0 1.045)" font-size="27.8" text-anchor="middle">S4I</text><text transform="translate(750.9 1339.4) scale(1.0 1.045)" font-size="27.8" text-anchor="middle">S4II</text><text transform="translate(843.0 1339.4) scale(1.0 1.045)" font-size="27.8" text-anchor="middle">S4III</text><text transform="translate(696.4 990.7) scale(1.0 1.09)" font-size="31.7" text-anchor="middle">SAMs</text><polyline points="582.4,1079.0 668.7,1055.7 756.1,1082.4 843.6,1030.0" fill="none" stroke="#4672a8" stroke-width="3.2" stroke-linejoin="round"/><polyline points="582.4,1088.2 668.7,1069.1 756.1,1074.8 843.6,1039.5" fill="none" stroke="#ad4a46" stroke-width="3.2" stroke-linejoin="round"/><path d="M582.4 1071.4L589.4 1079.0L582.4 1086.6L575.4 1079.0Z" fill="#4a7cb9"/><path d="M668.7 1048.1L675.7 1055.7L668.7 1063.3L661.7 1055.7Z" fill="#4a7cb9"/><path d="M756.1 1074.8L763.1 1082.4L756.1 1090.0L749.1 1082.4Z" fill="#4a7cb9"/><path d="M843.6 1022.4L850.6 1030.0L843.6 1037.6L836.6 1030.0Z" fill="#4a7cb9"/><rect x="574.80" y="1079.88" width="15.20" height="15.40" fill="#be4d49" stroke="#a8403d" stroke-width="0.8"/><rect x="661.10" y="1060.79" width="15.20" height="15.40" fill="#be4d49" stroke="#a8403d" stroke-width="0.8"/><rect x="748.50" y="1066.51" width="15.20" height="15.40" fill="#be4d49" stroke="#a8403d" stroke-width="0.8"/><rect x="836.00" y="1031.20" width="15.20" height="15.40" fill="#be4d49" stroke="#a8403d" stroke-width="0.8"/><line x1="976.5" y1="1016.6" x2="1338.5" y2="1016.6" stroke="#666" stroke-width="1.6"/><line x1="1338.5" y1="1015.8" x2="1338.5" y2="1302.9" stroke="#4a4a4a" stroke-width="1.4"/><line x1="976.5" y1="1015.8" x2="976.5" y2="1303.7" stroke="#000" stroke-width="1.6"/><line x1="975.7" y1="1302.9" x2="1339.3" y2="1302.9" stroke="#000" stroke-width="1.6"/><line x1="970.0" y1="1302.9" x2="976.5" y2="1302.9" stroke="#000" stroke-width="1.6"/><text transform="translate(955.5 1304.9) scale(1.0 1.07)" font-size="28.5" text-anchor="end">9</text><line x1="970.0" y1="1245.6" x2="976.5" y2="1245.6" stroke="#000" stroke-width="1.6"/><text transform="translate(958.3 1247.0) scale(1.0 1.07)" font-size="28.5" text-anchor="end">9.5</text><line x1="970.0" y1="1188.4" x2="976.5" y2="1188.4" stroke="#000" stroke-width="1.6"/><text transform="translate(955.5 1195.1) scale(1.0 1.07)" font-size="28.5" text-anchor="end">10</text><line x1="970.0" y1="1131.1" x2="976.5" y2="1131.1" stroke="#000" stroke-width="1.6"/><text transform="translate(957.4 1140.5) scale(1.0 1.07)" font-size="28.5" text-anchor="end">10.5</text><line x1="970.0" y1="1073.9" x2="976.5" y2="1073.9" stroke="#000" stroke-width="1.6"/><text transform="translate(958.1 1089.3) scale(1.0 1.07)" font-size="28.5" text-anchor="end">11</text><line x1="970.0" y1="1016.6" x2="976.5" y2="1016.6" stroke="#000" stroke-width="1.6"/><text transform="translate(954.3 1036.0) scale(1.0 1.07)" font-size="28.5" text-anchor="end">11.5</text><line x1="976.5" y1="1302.9" x2="976.5" y2="1309.4" stroke="#000" stroke-width="1.6"/><line x1="1067.0" y1="1302.9" x2="1067.0" y2="1309.4" stroke="#000" stroke-width="1.6"/><line x1="1157.5" y1="1302.9" x2="1157.5" y2="1309.4" stroke="#000" stroke-width="1.6"/><line x1="1248.0" y1="1302.9" x2="1248.0" y2="1309.4" stroke="#000" stroke-width="1.6"/><line x1="1338.5" y1="1302.9" x2="1338.5" y2="1309.4" stroke="#000" stroke-width="1.6"/><text transform="translate(1032.4 1341.2) scale(1.0 1.045)" font-size="27.8" text-anchor="middle">S3</text><text transform="translate(1116.5 1341.2) scale(1.0 1.045)" font-size="27.8" text-anchor="middle">S4I</text><text transform="translate(1203.2 1341.2) scale(1.0 1.045)" font-size="27.8" text-anchor="middle">S4II</text><text transform="translate(1295.6 1341.2) scale(1.0 1.045)" font-size="27.8" text-anchor="middle">S4III</text><text transform="translate(1155.8 995.5) scale(1.0 1.09)" font-size="31.7" text-anchor="middle">SAHH</text><polyline points="1021.8,1131.7 1111.4,1175.8 1202.8,1181.5 1293.3,1061.3" fill="none" stroke="#4672a8" stroke-width="3.2" stroke-linejoin="round"/><polyline points="1021.8,1171.8 1111.4,1168.9 1202.8,1065.8 1293.3,1031.5" fill="none" stroke="#ad4a46" stroke-width="3.2" stroke-linejoin="round"/><path d="M1021.8 1124.1L1028.8 1131.7L1021.8 1139.3L1014.8 1131.7Z" fill="#4a7cb9"/><path d="M1111.4 1168.2L1118.4 1175.8L1111.4 1183.4L1104.4 1175.8Z" fill="#4a7cb9"/><path d="M1202.8 1173.9L1209.8 1181.5L1202.8 1189.1L1195.8 1181.5Z" fill="#4a7cb9"/><path d="M1293.3 1053.7L1300.3 1061.3L1293.3 1068.9L1286.3 1061.3Z" fill="#4a7cb9"/><rect x="1014.20" y="1163.47" width="15.20" height="15.40" fill="#be4d49" stroke="#a8403d" stroke-width="0.8"/><rect x="1103.80" y="1160.61" width="15.20" height="15.40" fill="#be4d49" stroke="#a8403d" stroke-width="0.8"/><rect x="1195.20" y="1057.54" width="15.20" height="15.40" fill="#be4d49" stroke="#a8403d" stroke-width="0.8"/><rect x="1285.70" y="1023.19" width="15.20" height="15.40" fill="#be4d49" stroke="#a8403d" stroke-width="0.8"/><line x1="1424.6" y1="1016.4" x2="1790.3" y2="1016.4" stroke="#666" stroke-width="1.6"/><line x1="1790.3" y1="1015.6" x2="1790.3" y2="1303.0" stroke="#4a4a4a" stroke-width="1.4"/><line x1="1424.6" y1="1015.6" x2="1424.6" y2="1303.8" stroke="#000" stroke-width="1.6"/><line x1="1423.8" y1="1303.0" x2="1791.1" y2="1303.0" stroke="#000" stroke-width="1.6"/><line x1="1418.1" y1="1303.0" x2="1424.6" y2="1303.0" stroke="#000" stroke-width="1.6"/><text transform="translate(1398.1 1309.9) scale(1.0 1.07)" font-size="28.5" text-anchor="end">8</text><line x1="1418.1" y1="1255.2" x2="1424.6" y2="1255.2" stroke="#000" stroke-width="1.6"/><text transform="translate(1403.3 1270.1) scale(1.0 1.07)" font-size="28.5" text-anchor="end">8.5</text><line x1="1418.1" y1="1207.5" x2="1424.6" y2="1207.5" stroke="#000" stroke-width="1.6"/><text transform="translate(1398.1 1224.7) scale(1.0 1.07)" font-size="28.5" text-anchor="end">9</text><line x1="1418.1" y1="1159.7" x2="1424.6" y2="1159.7" stroke="#000" stroke-width="1.6"/><text transform="translate(1400.5 1176.3) scale(1.0 1.07)" font-size="28.5" text-anchor="end">9.5</text><line x1="1418.1" y1="1111.9" x2="1424.6" y2="1111.9" stroke="#000" stroke-width="1.6"/><text transform="translate(1397.6 1129.2) scale(1.0 1.07)" font-size="28.5" text-anchor="end">10</text><line x1="1418.1" y1="1064.2" x2="1424.6" y2="1064.2" stroke="#000" stroke-width="1.6"/><text transform="translate(1398.8 1082.7) scale(1.0 1.07)" font-size="28.5" text-anchor="end">10.5</text><line x1="1418.1" y1="1016.4" x2="1424.6" y2="1016.4" stroke="#000" stroke-width="1.6"/><text transform="translate(1398.6 1042.2) scale(1.0 1.07)" font-size="28.5" text-anchor="end">11</text><line x1="1424.6" y1="1303.0" x2="1424.6" y2="1309.5" stroke="#000" stroke-width="1.6"/><line x1="1515.8" y1="1303.0" x2="1515.8" y2="1309.5" stroke="#000" stroke-width="1.6"/><line x1="1607.0" y1="1303.0" x2="1607.0" y2="1309.5" stroke="#000" stroke-width="1.6"/><line x1="1699.1" y1="1303.0" x2="1699.1" y2="1309.5" stroke="#000" stroke-width="1.6"/><line x1="1790.3" y1="1303.0" x2="1790.3" y2="1309.5" stroke="#000" stroke-width="1.6"/><text transform="translate(1473.6 1341.2) scale(1.0 1.045)" font-size="27.8" text-anchor="middle">S3</text><text transform="translate(1557.3 1341.2) scale(1.0 1.045)" font-size="27.8" text-anchor="middle">S4I</text><text transform="translate(1644.4 1341.2) scale(1.0 1.045)" font-size="27.8" text-anchor="middle">S4II</text><text transform="translate(1736.4 1341.2) scale(1.0 1.045)" font-size="27.8" text-anchor="middle">S4III</text><text transform="translate(1613.2 991.2) scale(1.0 1.09)" font-size="31.6" text-anchor="middle">MetE</text><polyline points="1471.0,1114.8 1562.2,1174.5 1653.7,1185.5 1744.9,1218.9" fill="none" stroke="#4672a8" stroke-width="3.2" stroke-linejoin="round"/><polyline points="1471.0,1166.4 1562.2,1207.5 1653.7,1095.7 1744.9,1061.3" fill="none" stroke="#ad4a46" stroke-width="3.2" stroke-linejoin="round"/><path d="M1471.0 1107.2L1478.0 1114.8L1471.0 1122.4L1464.0 1114.8Z" fill="#4a7cb9"/><path d="M1562.2 1166.9L1569.2 1174.5L1562.2 1182.1L1555.2 1174.5Z" fill="#4a7cb9"/><path d="M1653.7 1177.9L1660.7 1185.5L1653.7 1193.1L1646.7 1185.5Z" fill="#4a7cb9"/><path d="M1744.9 1211.3L1751.9 1218.9L1744.9 1226.5L1737.9 1218.9Z" fill="#4a7cb9"/><rect x="1463.40" y="1158.09" width="15.20" height="15.40" fill="#be4d49" stroke="#a8403d" stroke-width="0.8"/><rect x="1554.60" y="1199.17" width="15.20" height="15.40" fill="#be4d49" stroke="#a8403d" stroke-width="0.8"/><rect x="1646.10" y="1087.39" width="15.20" height="15.40" fill="#be4d49" stroke="#a8403d" stroke-width="0.8"/><rect x="1737.30" y="1053.00" width="15.20" height="15.40" fill="#be4d49" stroke="#a8403d" stroke-width="0.8"/><line x1="1819.5" y1="1031.9" x2="1857.3" y2="1031.9" stroke="#4672a8" stroke-width="3.6" stroke-linecap="round"/><path d="M1837.5 1025.7L1842.5 1032.0L1837.5 1038.3L1832.5 1032.0Z" fill="#4a7cb9"/><line x1="1819.5" y1="1067.0" x2="1857.3" y2="1067.0" stroke="#ad4a46" stroke-width="3.4" stroke-linecap="round"/><rect x="1831.20" y="1059.20" width="13.20" height="14.60" fill="#be4d49" stroke="#a8403d" stroke-width="0.8"/><text transform="translate(1867.8 1045.8) scale(1.0 1.03)" font-size="27.7" text-anchor="start">CN13</text><text transform="translate(1867.8 1077.9) scale(1.0 1.03)" font-size="27.7" text-anchor="start">CN16</text><text transform="translate(28.5 1149.7) rotate(-90) scale(1.035 1)" font-size="27" text-anchor="middle">log2(FPKM)</text></svg></body></html>
